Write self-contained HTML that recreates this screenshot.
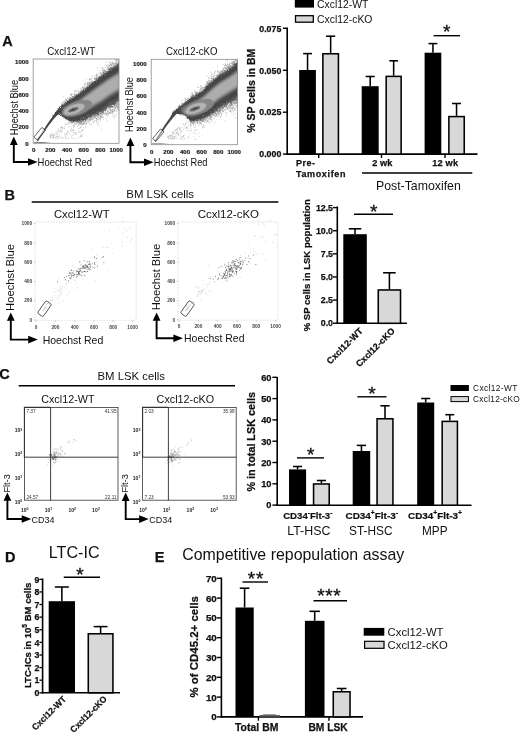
<!DOCTYPE html>
<html><head><meta charset="utf-8"><title>Figure</title>
<style>html,body{margin:0;padding:0;background:#fff}svg{display:block}text{font-family:'Liberation Sans', Arial, sans-serif}</style>
</head><body>
<svg width="520" height="733" viewBox="0 0 520 733">
<defs><filter id="b1" x="-10%" y="-10%" width="120%" height="120%"><feGaussianBlur stdDeviation="0.6"/></filter><filter id="b2" x="-10%" y="-10%" width="120%" height="120%"><feGaussianBlur stdDeviation="1.1"/></filter><filter id="rough" x="-5%" y="-5%" width="110%" height="110%"><feTurbulence type="fractalNoise" baseFrequency="0.9" numOctaves="2" seed="3" result="n"/><feDisplacementMap in="SourceGraphic" in2="n" scale="4" xChannelSelector="R" yChannelSelector="G"/><feGaussianBlur stdDeviation="0.35"/></filter></defs>
<rect width="520" height="733" fill="#fff"/>
<text x="2.2" y="46.2" font-size="14.5" font-weight="bold" stroke="#111" stroke-width="0.25" text-anchor="start" fill="#111">A</text>
<clipPath id="cp11"><rect x="33.2" y="59" width="85.8" height="84.3"/></clipPath>
<g clip-path="url(#cp11)">
<path d="M102.4 75.3h0.7M87.6 82.7h0.7M77.9 94.5h0.7M119.3 62.6h0.7M113.9 63.5h0.7M103.9 73.5h0.7M91.3 81.3h0.7M94.6 78.5h0.7M73.4 96.5h0.7M108.6 65.6h0.7M80.1 91.6h0.7M87.7 82.6h0.7M90.5 83.0h0.7M111.6 67.3h0.7M84.0 88.5h0.7M120.3 58.7h0.7M108.0 71.0h0.7M113.5 66.4h0.7M112.8 63.7h0.7M89.2 85.2h0.7M103.6 72.0h0.7M113.0 66.5h0.7M118.1 60.1h0.7M93.3 81.5h0.7M109.8 67.1h0.7M78.9 93.5h0.7M92.9 82.6h0.7M106.2 65.6h0.7M103.2 72.3h0.7M89.7 85.6h0.7M89.1 83.6h0.7M78.3 94.5h0.7M69.1 99.3h0.7M105.4 71.2h0.7M74.2 95.7h0.7M102.3 70.1h0.7M115.5 64.0h0.7M117.3 63.4h0.7M96.3 79.4h0.7M65.6 99.5h0.7M85.2 83.0h0.7M115.2 59.1h0.7M116.3 66.5h0.7M109.4 68.2h0.7M95.4 78.6h0.7M119.3 63.1h0.7M69.0 97.4h0.7M112.1 64.4h0.7M92.0 80.5h0.7M111.3 69.4h0.7M108.7 70.0h0.7M109.1 62.2h0.7M89.0 83.1h0.7M114.3 65.7h0.7M107.8 71.6h0.7M114.7 66.9h0.7M94.5 81.5h0.7M77.7 89.2h0.7M102.9 73.7h0.7M81.9 90.2h0.7M106.1 71.6h0.7M107.9 69.3h0.7M86.8 84.5h0.7M87.1 85.5h0.7M82.2 87.4h0.7M74.2 91.0h0.7M91.8 76.3h0.7M117.9 65.7h0.7M120.4 55.7h0.7M110.6 67.2h0.7M91.5 82.4h0.7M113.4 63.9h0.7M89.8 85.9h0.7M106.3 72.3h0.7M101.9 72.6h0.7M66.5 100.1h0.7M108.9 65.4h0.7M114.0 65.6h0.7M75.2 96.1h0.7M116.2 59.6h0.7M85.8 79.1h0.7M90.7 81.7h0.7M65.6 99.8h0.7M74.4 94.2h0.7M61.4 104.8h0.7M104.0 70.8h0.7M100.6 76.9h0.7M63.0 103.3h0.7M104.7 73.0h0.7M83.2 90.1h0.7M87.7 86.5h0.7M110.8 65.3h0.7M111.1 69.1h0.7M90.5 83.4h0.7M89.5 83.4h0.7M112.5 62.7h0.7M78.8 94.2h0.7M120.2 55.9h0.7M87.6 84.6h0.7M96.1 79.2h0.7M108.5 66.1h0.7M118.3 64.7h0.7M105.2 71.7h0.7M99.7 72.7h0.7M84.8 85.8h0.7M69.7 98.9h0.7M87.6 87.1h0.7M119.2 59.1h0.7M121.9 58.2h0.7M103.9 70.2h0.7M97.6 75.8h0.7M115.4 61.6h0.7M106.9 71.0h0.7M99.7 77.3h0.7M80.7 89.1h0.7M91.6 83.4h0.7M70.7 94.7h0.7M106.4 71.8h0.7M108.2 67.7h0.7M71.4 95.1h0.7M87.9 82.4h0.7M104.7 72.6h0.7M89.4 79.4h0.7M98.6 77.7h0.7M87.0 83.1h0.7M110.5 64.9h0.7M108.4 69.7h0.7M102.2 68.4h0.7M103.4 68.0h0.7M111.8 68.4h0.7M102.0 70.2h0.7M96.1 75.7h0.7M72.3 96.5h0.7M70.6 98.0h0.7M116.7 64.0h0.7M89.3 82.4h0.7M88.9 80.5h0.7M71.0 94.3h0.7M61.8 104.5h0.7M74.5 94.9h0.7M94.8 81.2h0.7M104.7 73.2h0.7M95.5 80.0h0.7M80.0 93.4h0.7M95.6 78.2h0.7M101.6 72.1h0.7M94.2 79.3h0.7M114.4 67.4h0.7M102.4 75.1h0.7M100.9 67.4h0.7M113.5 65.4h0.7M106.3 71.7h0.7M111.4 69.7h0.7M119.2 62.9h0.7M95.9 77.1h0.7M113.4 68.4h0.7M76.5 93.9h0.7M114.8 67.4h0.7M75.5 96.0h0.7M112.6 65.9h0.7M80.4 91.2h0.7M82.6 87.5h0.7M85.9 87.0h0.7M106.3 69.5h0.7M112.9 67.6h0.7M101.1 73.7h0.7M92.8 78.6h0.7M95.5 75.3h0.7M83.2 89.5h0.7M110.6 67.4h0.7M111.6 67.6h0.7M81.8 88.3h0.7M118.8 61.9h0.7M115.0 67.0h0.7M73.8 94.2h0.7M108.1 68.8h0.7M84.3 84.9h0.7M70.7 98.9h0.7M86.6 86.5h0.7M65.7 100.4h0.7M114.4 59.4h0.7M64.5 102.2h0.7M83.5 86.7h0.7M96.0 76.3h0.7M96.3 74.5h0.7M66.2 99.8h0.7M112.8 66.5h0.7M113.2 67.2h0.7M98.7 78.3h0.7M109.8 62.4h0.7M63.8 104.0h0.7M115.8 67.1h0.7M104.9 71.7h0.7M116.3 66.4h0.7M105.3 67.6h0.7M77.5 94.1h0.7M117.5 59.6h0.7M109.1 70.6h0.7M118.0 62.9h0.7M119.1 55.1h0.7M105.8 73.2h0.7M119.3 62.3h0.7M83.5 90.4h0.7M70.1 95.7h0.7M91.8 82.7h0.7M75.1 90.8h0.7M118.3 65.5h0.7M76.4 91.3h0.7M116.9 64.9h0.7M108.5 68.5h0.7M107.0 67.8h0.7M116.4 60.0h0.7M110.3 63.1h0.7M103.8 71.5h0.7M70.6 99.0h0.7M107.8 69.4h0.7M100.0 73.0h0.7M81.4 90.5h0.7M87.4 83.7h0.7M116.2 65.2h0.7M92.6 82.7h0.7M109.3 69.6h0.7M97.0 74.8h0.7M63.7 101.1h0.7M74.6 93.8h0.7M121.3 60.4h0.7M106.9 67.2h0.7M87.8 83.8h0.7M69.1 98.9h0.7M81.0 90.1h0.7M83.9 83.8h0.7M91.0 84.8h0.7M117.9 61.4h0.7M74.7 91.8h0.7M103.0 73.0h0.7M90.7 81.9h0.7M90.7 81.9h0.7M108.2 69.2h0.7M63.8 100.9h0.7M90.6 79.2h0.7M94.1 81.7h0.7M84.6 90.2h0.7M65.9 101.0h0.7M97.9 78.3h0.7M78.4 94.2h0.7M120.6 57.7h0.7M80.3 89.2h0.7M106.0 72.2h0.7M100.7 74.8h0.7M108.0 68.3h0.7M91.0 83.6h0.7M115.8 63.1h0.7M107.6 64.4h0.7M104.6 73.0h0.7M102.4 71.2h0.7M70.6 94.7h0.7M105.8 65.3h0.7M115.1 58.6h0.7M110.7 63.2h0.7M63.4 96.2h0.7M88.7 86.2h0.7M78.4 93.1h0.7M109.5 67.8h0.7M116.7 62.3h0.7M108.8 70.8h0.7M74.5 95.2h0.7M98.8 73.0h0.7M91.2 78.6h0.7M108.6 70.2h0.7M110.1 69.1h0.7M110.4 64.7h0.7M71.8 94.6h0.7M111.8 63.6h0.7M64.7 102.6h0.7M84.8 88.2h0.7M119.2 64.6h0.7M88.0 87.4h0.7M91.9 82.4h0.7M114.1 64.0h0.7M67.1 98.4h0.7M84.4 87.9h0.7M92.2 83.2h0.7M101.1 74.5h0.7M94.2 77.6h0.7M93.7 76.0h0.7M89.1 78.9h0.7M118.8 64.5h0.7M117.9 62.5h0.7M90.7 83.9h0.7M96.1 77.7h0.7M88.6 86.2h0.7M99.5 70.3h0.7M93.6 81.4h0.7M103.2 70.9h0.7M116.6 64.5h0.7M115.4 56.8h0.7M92.0 82.4h0.7M79.5 92.2h0.7M83.9 87.5h0.7M73.9 96.4h0.7M111.0 64.4h0.7M108.4 58.1h0.7M96.5 79.9h0.7M104.2 74.1h0.7M68.7 99.6h0.7M67.9 100.0h0.7M83.1 89.3h0.7M71.3 94.1h0.7M107.2 66.3h0.7M112.0 68.9h0.7M80.3 93.2h0.7M96.1 73.9h0.7M114.1 66.4h0.7M121.1 59.9h0.7M101.8 73.5h0.7M103.1 72.6h0.7M104.3 74.7h0.7M94.5 81.3h0.7M110.4 65.1h0.7M116.8 65.6h0.7M88.3 84.6h0.7M113.8 64.4h0.7M116.5 60.7h0.7M98.8 77.8h0.7M117.8 64.7h0.7M113.4 63.4h0.7M89.5 79.5h0.7M90.5 79.4h0.7M104.4 70.7h0.7M88.3 85.6h0.7M94.4 82.4h0.7M76.5 91.3h0.7M115.7 63.5h0.7M84.4 88.1h0.7M62.1 102.4h0.7M107.6 71.5h0.7M81.9 91.4h0.7M120.8 57.4h0.7M69.2 100.0h0.7M116.2 64.0h0.7M76.3 94.9h0.7M107.5 71.5h0.7M116.9 60.8h0.7M115.4 66.9h0.7M103.3 72.5h0.7M112.2 62.0h0.7M78.8 91.9h0.7M113.7 57.5h0.7M82.0 87.3h0.7M73.0 96.5h0.7M61.2 103.7h0.7M111.2 65.2h0.7M120.4 62.0h0.7M102.2 75.5h0.7M88.6 86.6h0.7M117.2 65.8h0.7M118.9 60.3h0.7M97.3 68.0h0.7M73.8 94.1h0.7M75.7 94.9h0.7M107.1 69.7h0.7M106.6 72.2h0.7M77.8 91.0h0.7M99.7 78.1h0.7M115.8 62.5h0.7M115.2 62.6h0.7M119.6 54.8h0.7M104.2 70.9h0.7M105.7 62.3h0.7M66.9 98.4h0.7M119.4 60.7h0.7M117.1 66.1h0.7M102.6 75.9h0.7M96.9 75.9h0.7M116.7 66.5h0.7M118.9 64.2h0.7M62.2 103.0h0.7M103.0 70.4h0.7M116.2 63.8h0.7M118.7 59.7h0.7M89.5 84.2h0.7M117.9 62.8h0.7M112.5 64.1h0.7M86.5 85.9h0.7M69.0 98.0h0.7M101.9 76.2h0.7M110.2 67.5h0.7M115.5 66.9h0.7M83.3 89.6h0.7M116.6 64.2h0.7M88.6 85.7h0.7M109.7 65.4h0.7M109.0 65.6h0.7M104.9 70.6h0.7M86.3 87.3h0.7M119.5 64.1h0.7M103.8 69.3h0.7M75.0 95.6h0.7M99.3 76.8h0.7M86.8 83.9h0.7M94.2 79.4h0.7M92.4 81.8h0.7M72.9 97.7h0.7M59.2 106.5h0.7M115.7 60.7h0.7M102.5 72.2h0.7M89.1 85.6h0.7M117.7 63.4h0.7M111.7 66.8h0.7M120.4 62.6h0.7M100.1 74.1h0.7M70.2 97.7h0.7M100.5 74.8h0.7M103.4 72.7h0.7M91.3 82.6h0.7M84.7 84.6h0.7M81.7 90.8h0.7M120.6 61.3h0.7M103.6 73.5h0.7M84.9 88.1h0.7M111.4 106.4h0.7M97.6 114.1h0.7M115.4 103.5h0.7M111.5 103.9h0.7M89.7 116.9h0.7M112.4 102.5h0.7M111.8 103.8h0.7M98.6 111.4h0.7M113.0 107.2h0.7M88.7 116.2h0.7M101.8 114.8h0.7M117.5 101.8h0.7M111.4 105.9h0.7M112.3 112.5h0.7M105.3 112.4h0.7M110.5 105.0h0.7M120.9 98.2h0.7M110.6 105.6h0.7M109.7 112.7h0.7M88.0 120.2h0.7M78.7 121.4h0.7M115.2 105.2h0.7M105.7 113.4h0.7M78.9 122.1h0.7M109.6 106.6h0.7M118.7 103.2h0.7M79.4 123.9h0.7M119.9 98.3h0.7M110.8 104.3h0.7M96.0 122.4h0.7M83.4 121.6h0.7M110.7 103.4h0.7M113.3 111.6h0.7M104.8 109.6h0.7M87.8 117.7h0.7M83.6 124.3h0.7M114.4 102.3h0.7M112.3 102.5h0.7M87.2 118.8h0.7M103.5 109.8h0.7M86.3 118.1h0.7M98.9 113.2h0.7M92.8 116.9h0.7M72.1 122.6h0.7M120.2 97.9h0.7M94.5 113.8h0.7M107.1 114.1h0.7M111.7 112.2h0.7M97.2 119.2h0.7M103.3 111.8h0.7M72.4 122.4h0.7M90.9 119.5h0.7M114.6 107.4h0.7M98.4 124.1h0.7M94.3 114.7h0.7M118.2 106.4h0.7M111.8 113.7h0.7M120.1 100.0h0.7M88.9 116.5h0.7M83.7 123.8h0.7M103.5 109.3h0.7M102.8 112.1h0.7M115.1 108.1h0.7M97.2 114.8h0.7M118.5 101.4h0.7M95.1 113.2h0.7M97.5 113.9h0.7M114.5 105.2h0.7M97.0 117.0h0.7M93.9 116.1h0.7M109.8 105.0h0.7M105.0 107.5h0.7M85.0 121.4h0.7M118.9 98.4h0.7M93.5 115.3h0.7M115.1 107.4h0.7M102.4 111.9h0.7M108.9 108.8h0.7M97.9 112.6h0.7M120.0 98.4h0.7M96.3 121.0h0.7M114.1 110.2h0.7M83.0 120.5h0.7M116.6 101.4h0.7M116.5 110.0h0.7M105.9 115.1h0.7M120.4 101.3h0.7M97.5 113.6h0.7M91.5 115.4h0.7M106.8 121.0h0.7M85.0 121.7h0.7M108.2 106.0h0.7M87.0 119.4h0.7M89.9 117.2h0.7M117.7 99.0h0.7M96.5 115.6h0.7M115.4 107.9h0.7M92.5 118.3h0.7M75.1 121.2h0.7M101.3 117.4h0.7M107.2 110.2h0.7M77.0 122.6h0.7M84.3 118.9h0.7M76.3 121.7h0.7M82.4 122.1h0.7M108.6 105.9h0.7M83.1 127.7h0.7M114.1 110.1h0.7M70.7 122.7h0.7M101.9 114.1h0.7M83.8 122.0h0.7M100.9 112.0h0.7M81.4 120.0h0.7M114.9 103.4h0.7M106.7 106.9h0.7M110.0 106.7h0.7M89.9 118.1h0.7M87.7 117.4h0.7M116.2 105.9h0.7M76.3 123.1h0.7M114.1 104.0h0.7M99.7 119.0h0.7M118.1 103.6h0.7M78.9 121.0h0.7M111.3 107.1h0.7M94.8 115.9h0.7M89.5 124.8h0.7M87.7 121.8h0.7M109.4 106.3h0.7M91.5 114.7h0.7M108.5 106.7h0.7M113.2 104.2h0.7M96.6 118.4h0.7M101.7 117.1h0.7M77.2 122.0h0.7M119.7 108.1h0.7M117.1 99.0h0.7M91.6 124.7h0.7M118.2 109.6h0.7M113.9 111.4h0.7M106.5 115.0h0.7M89.3 123.3h0.7M93.5 114.9h0.7M97.5 124.9h0.7M109.7 110.5h0.7M97.9 114.1h0.7M91.3 116.7h0.7M102.2 111.8h0.7M119.6 98.1h0.7M86.1 118.8h0.7M98.0 111.5h0.7M102.6 110.5h0.7M100.6 113.5h0.7M101.3 129.3h0.7M116.7 104.7h0.7M108.4 107.0h0.7M114.0 105.2h0.7M74.4 123.2h0.7M113.4 105.4h0.7M119.7 99.2h0.7M113.0 105.3h0.7M98.2 111.7h0.7M111.8 110.7h0.7M97.9 113.9h0.7M111.5 103.3h0.7M116.0 100.8h0.7M101.7 110.2h0.7M103.8 113.3h0.7M78.0 122.0h0.7M103.2 108.6h0.7M119.5 107.1h0.7M106.7 107.2h0.7M84.2 123.6h0.7M114.8 104.5h0.7M83.3 121.1h0.7M118.8 104.6h0.7M100.7 113.7h0.7M119.8 97.7h0.7M112.4 103.6h0.7M89.4 119.2h0.7M88.3 117.3h0.7M94.7 116.6h0.7M98.5 119.0h0.7M116.6 100.4h0.7M89.8 119.2h0.7M104.8 108.5h0.7M110.1 110.8h0.7M104.4 113.9h0.7M116.6 104.5h0.7M116.0 103.3h0.7M111.3 110.1h0.7M90.1 117.4h0.7M100.0 113.1h0.7M99.0 115.8h0.7M77.5 121.7h0.7M117.0 106.9h0.7M110.9 113.0h0.7M103.2 110.6h0.7M90.3 114.9h0.7M114.4 101.0h0.7M105.9 107.9h0.7M95.0 114.2h0.7M102.6 110.5h0.7M102.1 111.6h0.7M86.7 120.4h0.7M87.6 118.8h0.7M100.2 117.0h0.7M98.3 112.9h0.7M77.5 121.9h0.7M103.5 107.9h0.7M119.5 99.7h0.7M106.2 113.8h0.7M108.3 114.1h0.7M107.6 113.8h0.7M101.4 113.4h0.7M119.7 104.7h0.7M108.5 113.1h0.7M104.7 108.7h0.7M119.8 101.4h0.7M118.6 100.3h0.7M80.9 123.0h0.7M93.6 114.3h0.7M88.8 117.2h0.7M119.0 99.5h0.7M119.4 101.7h0.7M88.6 117.2h0.7M89.1 119.6h0.7M82.3 121.3h0.7M110.7 104.6h0.7M99.9 111.2h0.7M86.1 122.6h0.7M110.0 105.6h0.7M102.4 115.1h0.7M99.1 111.7h0.7M97.6 120.2h0.7M78.0 122.6h0.7M117.1 102.7h0.7M121.4 111.5h0.7M98.8 115.2h0.7M91.9 117.2h0.7M114.8 105.0h0.7M107.0 112.3h0.7M111.0 107.1h0.7M76.4 122.0h0.7M111.7 103.3h0.7M117.4 103.9h0.7M103.7 110.7h0.7M110.0 109.2h0.7M93.8 116.1h0.7M108.5 106.7h0.7M98.9 118.3h0.7M90.1 120.6h0.7M96.0 119.9h0.7M100.6 113.6h0.7M98.0 115.8h0.7M83.5 119.1h0.7M108.5 111.8h0.7M93.7 116.7h0.7M117.7 109.7h0.7M96.6 116.1h0.7M85.6 124.3h0.7M77.9 121.2h0.7M81.3 121.6h0.7M95.9 118.8h0.7M94.1 118.2h0.7M79.7 122.0h0.7M111.9 106.7h0.7M83.8 122.9h0.7M111.4 104.7h0.7M102.6 111.2h0.7M99.6 116.5h0.7M112.6 107.1h0.7M106.2 108.5h0.7M116.9 105.7h0.7M115.1 100.8h0.7M103.6 113.7h0.7M102.0 109.2h0.7M89.5 119.1h0.7M118.9 111.5h0.7M105.4 109.4h0.7M103.1 111.7h0.7M80.7 127.7h0.7M80.2 122.2h0.7M108.7 106.1h0.7M113.8 106.8h0.7M111.8 104.6h0.7M114.0 103.3h0.7M97.7 113.1h0.7M110.1 113.2h0.7M79.3 123.3h0.7M103.3 112.9h0.7M120.5 99.8h0.7M95.4 115.7h0.7M111.6 104.2h0.7M79.5 123.1h0.7M102.9 119.6h0.7M106.1 109.2h0.7M107.6 110.2h0.7M118.1 100.6h0.7M93.8 116.9h0.7M98.2 117.4h0.7M117.3 108.0h0.7M69.7 121.2h0.7M113.2 104.3h0.7M102.0 112.0h0.7M99.3 111.1h0.7M85.1 120.2h0.7M98.8 111.5h0.7M95.8 114.4h0.7M81.1 121.5h0.7M115.8 114.9h0.7M91.6 115.2h0.7M92.5 117.9h0.7M109.8 109.6h0.7M109.5 106.3h0.7M92.6 115.4h0.7M117.6 107.6h0.7M85.4 126.6h0.7M73.4 121.5h0.7M89.0 120.9h0.7M69.7 121.8h0.7M92.0 118.6h0.7M115.2 101.3h0.7M109.5 104.5h0.7M114.5 105.8h0.7M92.0 116.6h0.7M105.8 110.4h0.7M118.8 100.9h0.7M119.3 100.3h0.7M105.0 114.6h0.7M104.7 107.5h0.7M97.9 114.8h0.7M118.0 106.4h0.7M109.5 107.5h0.7M102.9 113.4h0.7M117.3 108.3h0.7M86.5 123.5h0.7M120.9 100.1h0.7M77.5 122.6h0.7M79.6 123.3h0.7M89.8 118.0h0.7M94.2 116.1h0.7M95.0 115.2h0.7M109.2 112.7h0.7M93.9 117.5h0.7M88.1 119.1h0.7M117.8 106.7h0.7M79.8 121.8h0.7M89.8 116.3h0.7M110.5 104.3h0.7M117.3 100.7h0.7M80.5 124.8h0.7M99.4 114.8h0.7M78.6 120.8h0.7M95.3 113.9h0.7M119.0 100.1h0.7M100.0 115.7h0.7M116.1 105.6h0.7M118.3 110.4h0.7M109.9 105.5h0.7M109.2 104.9h0.7M82.7 121.9h0.7M81.5 124.4h0.7M93.7 115.4h0.7M117.3 107.9h0.7M99.3 111.9h0.7M103.2 109.2h0.7M89.0 117.4h0.7M102.7 110.0h0.7M106.2 105.6h0.7M110.5 110.8h0.7M105.3 111.3h0.7M81.3 121.5h0.7M76.3 124.1h0.7M80.7 124.5h0.7M85.4 122.2h0.7M107.1 111.3h0.7M103.3 108.2h0.7M119.2 104.3h0.7M100.1 120.7h0.7M82.2 124.4h0.7M116.3 106.8h0.7M107.7 107.8h0.7M121.1 104.5h0.7M80.2 122.9h0.7M100.2 113.1h0.7M110.7 105.8h0.7M116.3 103.8h0.7M119.3 100.3h0.7M90.4 120.8h0.7M106.1 106.0h0.7M90.4 116.6h0.7M113.7 104.1h0.7M112.3 111.4h0.7M110.5 109.2h0.7M113.4 113.5h0.7M98.8 110.8h0.7M110.5 107.8h0.7M107.9 106.6h0.7M83.8 121.6h0.7M118.3 98.8h0.7M76.3 121.4h0.7M111.9 104.5h0.7M114.9 105.8h0.7M121.2 106.8h0.7M72.8 122.5h0.7M110.1 105.1h0.7M82.3 124.0h0.7M99.4 111.7h0.7M117.8 113.1h0.7M117.6 108.9h0.7M114.4 105.7h0.7M110.5 107.6h0.7M103.0 110.8h0.7M78.5 124.8h0.7M102.9 113.1h0.7M97.6 111.5h0.7M114.5 103.6h0.7M97.9 112.0h0.7M113.8 101.3h0.7M101.5 114.2h0.7M119.2 115.6h0.7M95.5 115.1h0.7M80.7 122.9h0.7M119.7 101.0h0.7M90.7 119.6h0.7M102.1 116.9h0.7M101.0 113.1h0.7M108.9 105.7h0.7M105.8 109.2h0.7M97.3 112.2h0.7M92.6 122.3h0.7M100.6 116.0h0.7M117.7 99.3h0.7M120.9 104.1h0.7M118.9 108.2h0.7M95.6 117.8h0.7M106.2 108.2h0.7M85.8 119.2h0.7M109.7 105.2h0.7M99.7 111.1h0.7M117.4 104.5h0.7M106.5 106.9h0.7M120.1 106.4h0.7M111.7 110.9h0.7M99.3 114.3h0.7M93.4 116.2h0.7M119.7 101.2h0.7M120.4 100.4h0.7M106.8 106.3h0.7M104.9 109.1h0.7M107.9 114.5h0.7M100.7 113.2h0.7M101.4 116.6h0.7M107.6 116.4h0.7M91.7 116.3h0.7M98.9 112.3h0.7M91.6 116.7h0.7M115.3 116.1h0.7M91.1 117.9h0.7M78.1 122.2h0.7M94.1 116.9h0.7M92.0 119.4h0.7M91.2 117.0h0.7M101.6 111.8h0.7M94.8 116.0h0.7M114.1 118.1h0.7M70.5 122.5h0.7M94.8 115.2h0.7M114.6 105.1h0.7M84.7 120.3h0.7M117.2 102.0h0.7M92.8 115.8h0.7M100.5 116.3h0.7M87.8 118.0h0.7M107.9 111.4h0.7M116.1 107.1h0.7M105.5 111.0h0.7M111.8 110.8h0.7M97.6 116.1h0.7M86.2 123.3h0.7M102.6 109.2h0.7M120.5 99.1h0.7M112.6 104.3h0.7M100.1 118.6h0.7M106.1 113.0h0.7M89.3 116.2h0.7M117.2 100.1h0.7M101.7 112.6h0.7M73.4 122.0h0.7M101.8 109.7h0.7M90.6 116.6h0.7M111.8 110.1h0.7M92.1 114.3h0.7M92.5 116.7h0.7M113.5 109.4h0.7M97.3 112.5h0.7M120.9 118.6h0.7M89.4 116.5h0.7M109.7 113.2h0.7M108.5 106.8h0.7M80.6 121.9h0.7M96.6 118.9h0.7M115.7 102.7h0.7M96.1 112.6h0.7M102.2 113.2h0.7M111.9 116.6h0.7M74.2 123.8h0.7M97.9 122.2h0.7M120.1 108.0h0.7M115.3 108.8h0.7M79.1 121.8h0.7M86.6 120.8h0.7M94.8 120.9h0.7M116.5 111.4h0.7M90.3 119.5h0.7M83.8 122.9h0.7M113.4 103.5h0.7M119.3 104.2h0.7M115.9 102.5h0.7M109.4 108.2h0.7M79.4 123.3h0.7M93.1 118.7h0.7M97.7 112.2h0.7M98.0 113.4h0.7M93.0 114.9h0.7M117.9 99.0h0.7M87.8 122.4h0.7M107.7 105.5h0.7M113.5 115.8h0.7M112.0 107.2h0.7M89.6 117.2h0.7M110.8 104.3h0.7M111.2 103.4h0.7M112.1 109.2h0.7M85.2 119.2h0.7M103.6 110.1h0.7M98.9 114.6h0.7M82.4 120.6h0.7M83.2 119.5h0.7M116.1 101.2h0.7M111.1 103.7h0.7M80.7 123.1h0.7M101.2 116.2h0.7M101.2 109.7h0.7M104.3 110.2h0.7M106.0 109.0h0.7M85.3 121.2h0.7M97.3 111.7h0.7M103.2 110.3h0.7M114.6 107.1h0.7M95.0 114.3h0.7M102.4 111.0h0.7M96.1 115.7h0.7M94.8 115.8h0.7M106.1 108.5h0.7M100.3 117.8h0.7M115.7 105.3h0.7M116.6 99.8h0.7M93.6 115.0h0.7M111.5 112.1h0.7M116.1 106.4h0.7M110.5 111.8h0.7M101.6 112.5h0.7M102.8 109.0h0.7M78.0 124.5h0.7M103.2 111.7h0.7M75.7 121.5h0.7M118.3 105.0h0.7M100.3 114.1h0.7M83.2 123.6h0.7M88.3 121.2h0.7M79.8 121.9h0.7M117.2 100.1h0.7M117.1 103.8h0.7M98.2 114.2h0.7M97.7 115.0h0.7M92.5 120.9h0.7M96.6 115.9h0.7M113.6 109.3h0.7M97.3 117.3h0.7M95.1 117.3h0.7M100.3 113.5h0.7M68.7 120.9h0.7M86.6 118.4h0.7M94.3 120.9h0.7M115.4 103.4h0.7M119.8 101.1h0.7M88.9 117.1h0.7M95.6 118.4h0.7M93.3 122.4h0.7M94.3 116.1h0.7M113.6 108.4h0.7M110.7 105.5h0.7M117.8 103.5h0.7M108.9 113.3h0.7M81.3 123.4h0.7M119.1 100.5h0.7M118.4 107.4h0.7M102.7 111.5h0.7M89.0 119.8h0.7M77.4 123.0h0.7M80.6 123.6h0.7M100.0 119.3h0.7M105.5 118.4h0.7M118.7 101.9h0.7M95.0 112.4h0.7M111.7 106.7h0.7M89.5 118.8h0.7M117.7 104.8h0.7M103.0 117.5h0.7M103.9 113.5h0.7M91.9 115.3h0.7M70.7 123.3h0.7M83.8 120.1h0.7M94.8 115.0h0.7M107.6 105.8h0.7M78.2 122.4h0.7M84.9 120.2h0.7M114.3 104.8h0.7M75.0 122.8h0.7M85.0 119.5h0.7M108.8 112.5h0.7M113.3 103.4h0.7M97.5 116.2h0.7M104.8 111.4h0.7M92.5 119.3h0.7M105.8 113.5h0.7M99.6 111.3h0.7M80.9 121.1h0.7M83.5 123.8h0.7M79.7 121.4h0.7M105.1 110.9h0.7M110.2 105.5h0.7M71.5 122.6h0.7M72.4 122.1h0.7M114.9 110.2h0.7M120.0 103.0h0.7M113.8 110.4h0.7M93.4 113.8h0.7M115.8 106.7h0.7M101.8 112.0h0.7M83.3 120.9h0.7M111.8 103.7h0.7M119.3 102.4h0.7M85.6 119.9h0.7M112.4 111.3h0.7M120.4 99.8h0.7M120.5 98.9h0.7M117.2 105.9h0.7" stroke="#8c8c8c" stroke-width="0.7" fill="none"/>
<path d="M71.7 97.0h0.7M57.0 110.5h0.7M91.8 84.3h0.7M106.8 72.7h0.7M88.9 86.0h0.7M93.1 83.3h0.7M55.7 112.0h0.7M93.8 83.1h0.7M117.0 65.3h0.7M113.7 68.3h0.7M107.3 73.0h0.7M67.8 102.6h0.7M115.0 65.1h0.7M113.5 69.4h0.7M72.6 99.3h0.7M101.4 76.9h0.7M58.2 109.0h0.7M68.1 101.7h0.7M83.8 92.1h0.7M72.7 100.1h0.7M109.2 71.7h0.7M110.9 67.6h0.7M85.6 89.4h0.7M83.1 90.3h0.7M67.4 102.3h0.7M64.9 103.6h0.7M105.5 71.4h0.7M100.2 78.2h0.7M61.7 105.9h0.7M93.8 83.6h0.7M88.7 87.3h0.7M111.6 69.7h0.7M105.8 73.3h0.7M99.7 78.1h0.7M97.1 80.5h0.7M117.5 65.1h0.7M119.7 65.2h0.7M84.5 91.0h0.7M77.3 94.7h0.7M110.5 71.0h0.7M63.4 105.8h0.7M86.3 89.0h0.7M64.2 104.7h0.7M83.5 89.7h0.7M63.4 104.9h0.7M81.2 91.3h0.7M110.0 70.6h0.7M116.0 68.2h0.7M110.2 71.5h0.7M98.4 80.0h0.7M101.5 78.1h0.7M85.5 88.8h0.7M71.9 98.8h0.7M90.6 85.9h0.7M107.3 73.0h0.7M63.3 106.1h0.7M58.0 110.8h0.7M109.3 71.5h0.7M81.6 92.3h0.7M105.6 75.0h0.7M106.9 73.7h0.7M117.2 67.0h0.7M88.9 87.2h0.7M85.5 90.1h0.7M110.7 69.1h0.7M110.0 72.4h0.7M102.5 75.8h0.7M110.8 70.7h0.7M101.8 76.1h0.7M117.5 65.6h0.7M84.8 90.6h0.7M107.0 72.6h0.7M117.5 64.6h0.7M83.9 91.1h0.7M99.3 77.4h0.7M86.7 89.6h0.7M91.9 83.7h0.7M64.1 103.8h0.7M58.1 110.6h0.7M108.4 71.7h0.7M91.7 84.5h0.7M101.4 77.0h0.7M108.1 71.9h0.7M88.9 84.3h0.7M86.2 88.2h0.7M71.4 98.0h0.7M110.2 67.8h0.7M112.5 68.5h0.7M107.0 72.6h0.7M115.2 68.4h0.7M103.1 75.2h0.7M106.2 75.1h0.7M74.5 97.8h0.7M109.8 71.7h0.7M84.0 91.1h0.7M91.0 84.2h0.7M83.4 91.4h0.7M98.1 78.5h0.7M104.1 76.6h0.7M99.4 79.2h0.7M82.9 90.4h0.7M76.6 95.2h0.7M112.8 68.6h0.7M82.3 91.6h0.7M91.1 85.8h0.7M65.5 103.4h0.7M82.2 92.0h0.7M65.4 103.9h0.7M84.7 89.2h0.7M105.7 73.0h0.7M119.4 64.9h0.7M101.5 76.7h0.7M81.2 93.7h0.7M104.2 75.7h0.7M101.2 75.6h0.7M112.0 70.1h0.7M95.4 79.3h0.7M115.7 67.3h0.7M89.0 86.8h0.7M80.7 92.3h0.7M94.5 82.0h0.7M116.7 67.2h0.7M106.7 73.5h0.7M93.7 83.1h0.7M94.3 82.7h0.7M103.2 76.7h0.7M92.2 84.3h0.7M96.7 80.6h0.7M119.6 64.9h0.7M116.1 67.7h0.7M112.1 69.2h0.7M68.8 101.6h0.7M98.4 79.9h0.7M86.7 89.5h0.7M116.3 68.1h0.7M83.7 92.0h0.7M117.0 67.3h0.7M77.5 95.6h0.7M90.5 84.1h0.7M118.2 64.9h0.7M99.2 75.8h0.7M116.1 67.4h0.7M96.7 81.1h0.7M77.9 95.8h0.7M106.4 74.2h0.7M95.7 82.3h0.7M95.4 82.9h0.7M69.1 100.3h0.7M70.7 98.4h0.7M116.6 67.2h0.7M118.8 63.7h0.7M118.2 66.0h0.7M86.2 89.7h0.7M61.0 104.8h0.7M97.5 79.8h0.7M107.6 73.2h0.7M102.6 76.2h0.7M62.5 106.9h0.7M77.3 94.9h0.7M104.6 73.5h0.7M62.7 105.7h0.7M113.5 69.8h0.7M119.9 63.8h0.7M79.1 94.1h0.7M62.2 106.7h0.7M118.8 63.5h0.7M107.8 72.2h0.7M91.2 84.0h0.7M93.0 83.5h0.7M116.4 66.8h0.7M85.0 88.4h0.7M61.3 106.5h0.7M101.6 76.2h0.7M82.5 91.2h0.7M104.1 73.9h0.7M117.3 67.1h0.7M86.8 89.5h0.7M78.8 95.2h0.7M62.2 106.5h0.7M112.9 68.8h0.7M65.0 103.6h0.7M118.6 65.7h0.7M105.9 73.6h0.7M116.4 67.2h0.7M111.5 68.9h0.7M74.6 98.1h0.7M72.5 98.8h0.7M118.3 64.9h0.7M81.3 93.4h0.7M109.7 69.0h0.7M72.6 98.3h0.7M82.9 93.0h0.7M104.5 74.1h0.7M78.5 94.7h0.7M108.2 71.9h0.7M115.1 66.7h0.7M82.8 91.7h0.7M82.1 92.5h0.7M59.5 109.6h0.7M90.8 86.9h0.7M63.6 104.3h0.7M98.9 78.1h0.7M103.8 74.5h0.7M97.9 78.7h0.7M100.2 77.1h0.7M100.2 78.4h0.7M115.8 67.9h0.7M95.1 78.3h0.7M113.3 68.4h0.7M85.6 90.0h0.7M69.8 100.4h0.7M76.4 95.0h0.7M110.4 71.5h0.7M77.3 95.4h0.7M109.2 71.5h0.7M115.9 66.3h0.7M97.5 78.2h0.7M70.2 98.0h0.7M100.8 76.9h0.7M86.8 87.7h0.7M115.6 68.1h0.7M76.6 95.9h0.7M76.7 96.1h0.7M93.0 81.7h0.7M93.9 82.0h0.7M74.6 97.4h0.7M87.1 88.1h0.7M103.6 72.8h0.7M93.2 83.5h0.7M62.6 104.9h0.7M89.5 86.9h0.7M90.0 86.7h0.7M91.5 84.8h0.7M58.2 109.5h0.7M80.6 94.1h0.7M117.6 66.7h0.7M114.6 66.6h0.7M116.3 64.9h0.7M108.2 72.2h0.7M91.3 85.7h0.7M117.1 66.2h0.7M82.1 91.2h0.7M99.5 77.9h0.7M98.9 78.8h0.7M91.2 85.3h0.7M78.6 95.1h0.7M84.6 90.7h0.7M101.9 75.9h0.7M81.0 93.8h0.7M84.9 88.2h0.7M85.3 90.2h0.7M84.2 90.9h0.7M111.6 68.8h0.7M96.7 80.4h0.7M58.5 109.6h0.7M107.5 72.3h0.7M94.5 82.3h0.7M109.7 70.3h0.7M93.6 82.4h0.7M82.9 89.8h0.7M111.9 68.1h0.7M72.6 99.1h0.7M80.3 92.9h0.7M94.2 81.6h0.7M113.8 68.4h0.7M68.9 102.1h0.7M85.4 90.1h0.7M95.9 81.3h0.7M104.5 75.3h0.7M66.8 101.2h0.7M107.9 72.3h0.7M98.3 79.7h0.7M96.1 79.3h0.7M87.4 88.4h0.7M83.2 89.2h0.7M115.1 68.4h0.7M120.1 65.5h0.7M73.2 99.2h0.7M75.3 96.5h0.7M104.0 75.3h0.7M108.4 72.2h0.7M111.1 68.5h0.7M82.1 91.7h0.7M75.7 97.3h0.7M64.3 104.6h0.7M87.2 87.4h0.7M98.1 77.1h0.7M113.8 69.2h0.7M59.6 108.9h0.7M65.7 103.7h0.7M103.1 76.5h0.7M103.5 74.8h0.7M69.6 100.5h0.7M66.6 102.4h0.7M59.0 109.3h0.7M102.7 76.3h0.7M80.5 93.9h0.7M78.4 95.2h0.7M102.9 74.3h0.7M68.2 101.4h0.7M96.4 80.7h0.7M66.0 102.6h0.7M63.0 105.3h0.7M104.5 73.8h0.7M109.2 71.1h0.7M93.0 84.7h0.7M88.8 87.9h0.7M105.9 73.7h0.7M64.0 104.2h0.7M81.1 92.6h0.7M115.5 68.1h0.7M117.9 66.1h0.7M59.3 108.5h0.7M54.6 115.0h0.7M108.9 69.5h0.7M90.7 84.0h0.7M108.6 72.4h0.7M102.2 74.6h0.7M91.8 84.2h0.7M105.6 74.6h0.7M100.4 78.1h0.7M57.5 111.6h0.7M92.0 84.7h0.7M115.5 68.3h0.7M109.6 69.5h0.7M102.9 75.8h0.7M100.5 77.8h0.7M110.4 71.1h0.7M81.9 92.8h0.7M87.9 88.2h0.7M101.4 74.3h0.7M112.1 69.9h0.7M83.8 91.0h0.7M72.5 98.1h0.7M79.4 94.0h0.7M89.9 84.3h0.7M66.9 103.0h0.7M101.6 76.3h0.7M115.1 65.7h0.7M85.8 90.6h0.7M117.9 66.0h0.7M89.9 86.1h0.7M97.6 78.6h0.7M119.4 64.8h0.7M105.6 73.4h0.7M94.3 82.5h0.7M108.8 69.6h0.7M92.3 84.5h0.7M106.9 72.4h0.7M77.4 96.4h0.7M64.3 104.7h0.7M100.4 78.4h0.7M95.8 81.0h0.7M92.9 84.4h0.7M68.3 101.3h0.7M116.8 67.4h0.7M67.8 101.2h0.7M118.7 63.6h0.7M82.9 89.5h0.7M80.7 93.5h0.7M116.8 64.8h0.7M117.9 66.7h0.7M105.8 74.1h0.7M117.2 66.9h0.7M73.1 97.2h0.7M113.3 67.1h0.7M100.8 77.3h0.7M82.5 93.1h0.7M100.2 78.1h0.7M67.1 102.4h0.7M110.2 71.2h0.7M102.8 76.0h0.7M66.4 100.8h0.7M76.5 96.0h0.7M81.4 93.1h0.7M93.1 83.5h0.7M78.3 95.5h0.7M81.6 91.4h0.7M97.2 79.0h0.7M70.1 99.8h0.7M108.3 72.5h0.7M91.9 84.7h0.7M87.7 87.1h0.7M99.3 78.7h0.7M72.4 99.7h0.7M113.7 68.3h0.7M67.2 101.1h0.7M97.4 78.2h0.7M118.6 65.7h0.7M70.6 100.4h0.7M105.2 74.9h0.7M119.7 63.9h0.7M119.3 64.3h0.7M85.4 90.3h0.7M101.3 77.3h0.7M117.3 67.4h0.7M100.5 76.5h0.7M113.9 69.2h0.7M106.0 74.1h0.7M59.5 108.7h0.7M84.9 90.4h0.7M115.2 67.6h0.7M92.2 82.6h0.7M90.7 85.5h0.7M82.7 92.8h0.7M71.7 99.4h0.7M102.8 76.0h0.7M89.0 87.3h0.7M114.6 68.8h0.7M60.6 106.5h0.7M114.1 68.4h0.7M65.6 103.2h0.7M110.9 69.7h0.7M92.0 84.6h0.7M107.6 72.0h0.7M92.1 85.0h0.7M72.5 99.2h0.7M117.4 66.4h0.7M103.2 76.9h0.7M76.1 97.3h0.7M100.2 77.1h0.7M75.2 95.5h0.7M88.8 87.9h0.7M99.3 78.9h0.7M101.0 77.9h0.7M66.7 102.7h0.7M74.4 96.3h0.7M91.8 84.0h0.7M95.6 81.9h0.7M113.5 68.3h0.7M98.9 79.2h0.7M110.9 68.8h0.7M87.1 88.8h0.7M74.3 98.3h0.7M80.3 92.0h0.7M58.7 110.0h0.7M85.9 89.6h0.7M102.1 76.8h0.7M112.6 69.7h0.7M77.5 95.4h0.7M106.1 74.0h0.7M107.2 73.0h0.7M105.6 74.3h0.7M117.6 64.4h0.7M99.6 77.4h0.7M91.4 83.9h0.7M95.8 80.7h0.7M55.0 114.3h0.7M55.1 113.2h0.7M93.5 82.4h0.7M87.7 88.3h0.7M70.3 100.0h0.7M85.8 89.1h0.7M103.2 76.5h0.7M95.9 80.5h0.7M88.2 87.0h0.7M109.7 69.3h0.7M61.5 106.3h0.7M115.2 65.5h0.7M104.9 73.8h0.7M89.8 84.6h0.7M105.1 75.0h0.7M117.6 67.2h0.7M103.2 76.2h0.7M103.4 73.5h0.7M103.8 74.7h0.7M116.0 66.6h0.7M114.2 68.1h0.7M81.2 92.8h0.7M57.7 108.6h0.7M80.7 91.9h0.7M86.7 87.7h0.7M79.0 94.9h0.7M91.5 84.4h0.7M118.4 66.9h0.7M74.6 97.7h0.7M87.7 87.6h0.7M111.8 69.5h0.7M70.4 99.7h0.7M85.9 89.3h0.7M98.0 80.2h0.7M108.9 71.1h0.7M114.6 69.3h0.7M79.8 94.1h0.7M118.0 64.8h0.7M91.7 85.9h0.7M68.9 100.8h0.7M72.2 99.7h0.7M91.1 85.0h0.7M111.5 70.7h0.7M63.2 105.3h0.7M76.1 96.2h0.7M111.1 69.9h0.7M112.3 68.1h0.7M74.9 97.6h0.7M62.0 106.6h0.7M102.8 76.6h0.7M110.9 70.5h0.7M61.4 106.4h0.7M95.5 81.7h0.7M69.3 99.8h0.7M99.2 78.5h0.7M67.2 101.9h0.7M68.4 99.6h0.7M96.6 80.9h0.7M117.6 67.1h0.7M58.3 108.9h0.7M66.3 102.6h0.7M75.0 97.7h0.7M110.4 70.9h0.7M78.3 95.2h0.7M78.7 92.9h0.7M91.3 85.5h0.7M112.6 68.6h0.7M80.7 93.9h0.7M92.6 84.0h0.7M93.2 84.2h0.7M94.0 81.7h0.7M91.5 85.1h0.7M110.0 71.4h0.7M75.3 97.8h0.7M94.6 82.0h0.7M69.5 100.8h0.7M114.6 69.2h0.7M89.4 85.8h0.7M119.8 63.5h0.7M103.1 74.8h0.7M75.2 97.3h0.7M116.7 65.6h0.7M82.0 92.3h0.7M102.2 76.5h0.7M108.7 71.9h0.7M67.1 102.0h0.7M74.2 97.5h0.7M90.6 86.2h0.7M86.9 89.8h0.7M82.8 91.7h0.7M80.1 93.8h0.7M85.3 90.0h0.7M119.0 65.8h0.7M92.3 84.2h0.7M92.6 84.3h0.7M78.4 94.2h0.7M74.4 98.2h0.7M79.2 93.1h0.7M115.0 68.6h0.7M114.9 68.2h0.7M72.4 99.0h0.7M87.1 86.8h0.7M98.2 79.7h0.7M97.7 80.9h0.7M75.0 97.0h0.7M63.8 106.2h0.7M110.4 70.4h0.7M69.7 100.5h0.7M87.7 87.7h0.7M107.9 72.4h0.7M104.7 73.4h0.7M89.8 86.0h0.7M110.7 70.5h0.7M119.7 65.6h0.7M93.5 82.4h0.7M115.0 67.5h0.7M95.9 81.6h0.7M87.8 87.5h0.7M119.2 62.4h0.7M108.5 72.0h0.7M69.5 99.8h0.7M96.7 80.6h0.7M86.5 88.6h0.7M95.0 82.9h0.7M108.6 71.3h0.7M84.3 90.3h0.7M100.5 78.5h0.7M79.0 95.7h0.7M91.2 84.3h0.7M115.0 68.5h0.7M107.8 71.0h0.7M85.5 89.8h0.7M80.3 93.6h0.7M99.8 77.3h0.7M93.4 84.2h0.7M118.8 63.5h0.7M81.9 93.0h0.7M116.2 67.9h0.7M77.3 96.2h0.7M110.3 69.9h0.7M114.5 68.8h0.7M73.6 97.5h0.7M90.5 85.5h0.7M106.1 73.4h0.7M88.9 86.3h0.7M67.5 102.6h0.7M108.8 71.4h0.7M93.7 82.1h0.7M73.8 98.8h0.7M60.7 106.9h0.7M94.6 81.5h0.7M82.5 92.7h0.7M110.6 70.9h0.7M71.8 100.1h0.7M56.4 111.1h0.7M115.8 67.6h0.7M89.4 86.6h0.7M113.9 68.0h0.7M98.3 77.5h0.7M113.7 68.3h0.7M116.6 67.2h0.7M65.2 101.9h0.7M81.1 92.6h0.7M74.6 98.9h0.7M119.2 66.2h0.7M104.4 73.9h0.7M116.6 67.7h0.7M118.9 63.2h0.7M110.2 69.0h0.7M114.6 68.5h0.7M116.5 66.9h0.7M101.0 78.2h0.7M111.9 69.0h0.7M118.9 65.2h0.7M92.5 83.3h0.7M77.0 97.0h0.7M103.5 75.1h0.7M61.5 105.8h0.7M82.7 92.4h0.7M87.5 88.8h0.7M111.1 71.3h0.7M57.1 110.2h0.7M82.8 91.0h0.7M82.3 92.2h0.7M103.5 74.2h0.7M114.3 66.9h0.7M92.7 83.7h0.7M113.2 69.9h0.7M90.1 86.4h0.7M93.8 82.7h0.7M83.0 88.9h0.7M74.6 97.9h0.7M114.2 68.1h0.7M100.2 78.1h0.7M80.0 93.7h0.7M96.4 78.2h0.7M89.1 86.2h0.7M60.8 108.5h0.7M104.9 73.5h0.7M114.1 66.8h0.7M100.3 78.4h0.7M71.5 100.2h0.7M90.3 86.4h0.7M75.2 97.7h0.7M72.3 96.4h0.7M82.1 92.8h0.7M115.2 68.7h0.7M112.0 69.6h0.7M109.7 70.1h0.7M116.7 66.9h0.7M68.4 101.3h0.7M76.9 96.9h0.7M61.3 108.1h0.7M55.1 114.0h0.7M103.0 75.6h0.7M89.8 85.4h0.7M97.6 79.5h0.7M114.2 69.0h0.7M81.5 93.6h0.7M78.5 94.9h0.7M111.8 70.4h0.7M57.0 109.1h0.7M116.8 67.4h0.7M84.5 90.5h0.7M59.9 109.1h0.7M75.9 95.1h0.7M64.6 103.2h0.7M112.7 68.7h0.7M61.0 105.9h0.7M61.7 105.8h0.7M100.2 76.9h0.7M76.1 97.4h0.7M84.1 90.6h0.7M109.3 68.6h0.7M90.7 86.1h0.7M106.8 73.6h0.7M80.3 92.0h0.7M69.3 101.2h0.7M63.3 105.1h0.7M112.5 69.7h0.7M68.1 101.6h0.7M65.0 104.3h0.7M71.7 100.0h0.7M96.5 79.7h0.7M105.1 74.4h0.7M93.6 83.3h0.7M101.7 76.2h0.7M94.2 83.1h0.7M107.7 71.5h0.7M99.0 76.5h0.7M72.4 98.9h0.7M85.1 90.0h0.7M120.4 64.2h0.7M105.0 105.8h0.7M87.4 117.0h0.7M96.7 112.1h0.7M120.6 96.5h0.7M103.6 107.4h0.7M115.3 102.2h0.7M100.5 108.4h0.7M95.3 113.1h0.7M115.7 99.2h0.7M104.0 108.4h0.7M116.7 99.1h0.7M93.1 113.8h0.7M115.6 99.7h0.7M83.7 118.3h0.7M90.4 114.2h0.7M114.1 100.1h0.7M102.3 108.5h0.7M70.0 120.1h0.7M108.3 103.8h0.7M116.0 103.6h0.7M117.4 99.0h0.7M105.3 109.6h0.7M78.7 120.1h0.7M105.8 107.0h0.7M80.2 119.8h0.7M117.2 101.7h0.7M61.9 116.6h0.7M106.3 105.9h0.7M106.8 105.0h0.7M107.0 105.4h0.7M90.9 113.5h0.7M104.6 106.7h0.7M91.2 114.4h0.7M108.9 104.2h0.7M65.6 118.5h0.7M105.5 106.3h0.7M113.1 101.1h0.7M71.3 121.3h0.7M103.6 109.9h0.7M106.3 104.2h0.7M119.3 98.4h0.7M100.6 108.4h0.7M82.2 118.7h0.7M91.4 114.0h0.7M112.2 101.1h0.7M111.0 106.4h0.7M110.6 102.3h0.7M101.2 109.0h0.7M98.0 110.3h0.7M109.1 103.3h0.7M120.0 102.2h0.7M89.4 115.5h0.7M116.0 99.5h0.7M110.0 103.1h0.7M103.8 106.7h0.7M93.9 112.7h0.7M106.2 106.2h0.7M113.9 101.1h0.7M68.2 118.8h0.7M105.7 105.6h0.7M95.9 113.5h0.7M110.9 102.5h0.7M101.5 109.8h0.7M118.9 98.1h0.7M106.1 106.9h0.7M105.0 106.0h0.7M110.8 104.3h0.7M117.9 100.0h0.7M109.5 103.8h0.7M118.4 99.5h0.7M119.1 100.2h0.7M89.2 115.2h0.7M89.6 116.6h0.7M87.8 115.4h0.7M114.4 101.3h0.7M113.6 103.7h0.7M78.5 120.3h0.7M102.2 108.1h0.7M97.9 114.5h0.7M98.2 109.7h0.7M116.7 102.0h0.7M113.6 104.3h0.7M94.8 113.7h0.7M100.0 110.8h0.7M96.7 114.6h0.7M92.7 113.7h0.7M87.5 115.3h0.7M106.4 105.2h0.7M106.9 104.6h0.7M101.4 108.3h0.7M85.7 117.6h0.7M117.7 99.4h0.7M82.6 119.8h0.7M72.6 119.9h0.7M69.7 120.1h0.7M117.6 98.5h0.7M114.2 103.8h0.7M116.7 100.4h0.7M114.9 98.9h0.7M119.8 97.3h0.7M111.9 102.6h0.7M115.2 102.3h0.7M95.0 114.1h0.7M83.9 117.8h0.7M118.7 98.0h0.7M119.7 96.5h0.7M67.2 119.4h0.7M71.6 121.0h0.7M101.9 108.6h0.7M89.4 114.9h0.7M112.1 101.9h0.7M104.2 108.6h0.7M120.0 96.8h0.7M90.7 114.8h0.7M104.7 105.7h0.7M77.9 119.7h0.7M105.4 108.5h0.7M113.4 103.0h0.7M99.6 111.4h0.7M117.8 101.2h0.7M102.7 107.9h0.7M118.5 96.9h0.7M67.3 119.1h0.7M84.9 118.7h0.7M97.9 113.1h0.7M75.4 121.2h0.7M106.9 104.9h0.7M115.8 98.4h0.7M60.1 114.6h0.7M90.6 114.3h0.7M75.0 119.9h0.7M96.7 111.4h0.7M93.4 112.6h0.7M119.4 97.4h0.7M80.6 119.5h0.7M112.8 101.2h0.7M117.3 98.0h0.7M91.7 113.7h0.7M92.5 114.0h0.7M112.6 103.2h0.7M115.7 99.2h0.7M89.0 115.1h0.7M74.1 120.4h0.7M78.4 120.8h0.7M109.9 103.6h0.7M97.4 110.5h0.7M77.4 121.0h0.7M120.0 98.5h0.7M100.1 110.1h0.7M117.2 98.5h0.7M112.4 102.3h0.7M118.5 97.1h0.7M107.8 104.9h0.7M86.4 118.1h0.7M84.3 118.9h0.7M101.4 110.0h0.7M96.0 112.2h0.7M76.1 121.1h0.7M86.8 118.0h0.7M70.1 120.2h0.7M91.8 113.2h0.7M101.7 109.8h0.7M109.1 103.1h0.7M69.2 120.3h0.7M100.5 109.3h0.7M106.0 105.8h0.7M83.6 118.1h0.7M116.7 98.9h0.7M116.5 98.0h0.7M108.5 102.9h0.7M116.7 99.7h0.7M85.1 117.8h0.7M97.6 113.2h0.7M109.7 106.1h0.7M108.3 105.2h0.7M102.9 108.5h0.7M97.4 112.3h0.7M73.6 121.5h0.7M112.3 103.3h0.7M86.2 116.7h0.7M105.3 106.7h0.7M115.3 101.6h0.7M73.0 120.3h0.7M86.2 116.9h0.7M115.3 101.2h0.7M101.6 109.1h0.7M111.9 103.2h0.7M101.9 112.2h0.7M98.2 111.6h0.7M108.2 105.7h0.7M103.6 108.1h0.7M105.2 108.5h0.7M93.1 112.9h0.7M99.8 113.5h0.7M109.5 104.3h0.7M85.1 117.3h0.7M103.4 110.0h0.7M93.2 113.2h0.7M104.5 106.8h0.7M75.9 120.3h0.7M66.8 118.9h0.7M109.4 104.4h0.7M86.9 116.5h0.7M79.8 119.2h0.7M80.7 121.2h0.7M101.2 111.6h0.7M75.6 119.8h0.7M89.3 115.0h0.7M64.0 117.1h0.7M68.1 120.5h0.7M84.7 117.8h0.7M107.9 106.0h0.7M102.4 107.8h0.7M103.1 107.0h0.7M91.8 113.6h0.7M92.0 115.1h0.7M108.2 103.2h0.7M75.1 120.3h0.7M117.9 99.2h0.7M79.5 120.0h0.7M112.7 101.9h0.7M112.0 100.9h0.7M97.1 113.3h0.7M117.8 99.8h0.7M75.5 119.8h0.7M118.6 97.9h0.7M86.7 116.7h0.7M120.4 96.1h0.7M91.8 113.8h0.7M87.1 118.4h0.7M118.8 96.8h0.7M107.2 105.4h0.7M76.5 120.7h0.7M114.9 100.1h0.7M79.7 119.4h0.7M90.1 116.2h0.7M98.7 112.6h0.7M105.0 106.1h0.7M107.4 105.0h0.7M111.0 102.1h0.7M88.1 115.7h0.7M93.2 113.0h0.7M112.6 102.1h0.7M77.2 120.2h0.7M118.6 97.8h0.7M62.6 116.6h0.7M120.1 96.6h0.7M89.6 114.6h0.7M114.7 101.6h0.7M94.4 112.0h0.7M83.7 119.1h0.7M84.4 119.4h0.7M107.7 108.9h0.7M101.2 109.6h0.7M107.8 105.3h0.7M102.7 108.8h0.7M113.9 103.2h0.7M93.1 113.3h0.7M104.7 106.2h0.7M101.3 110.4h0.7M113.4 101.1h0.7M78.6 119.5h0.7M85.0 118.3h0.7M90.5 114.3h0.7M80.0 120.7h0.7M69.1 119.4h0.7M109.8 102.2h0.7M112.5 104.0h0.7M110.8 102.4h0.7M90.2 114.3h0.7M80.1 119.9h0.7M72.6 120.6h0.7M120.0 99.5h0.7M104.5 107.5h0.7M101.6 109.1h0.7M105.5 106.0h0.7M106.0 105.4h0.7M104.1 108.1h0.7M96.8 111.7h0.7M119.1 98.1h0.7M104.0 109.0h0.7M102.7 111.1h0.7M74.8 120.3h0.7M73.8 120.0h0.7M85.0 117.2h0.7M71.0 121.0h0.7M92.6 112.9h0.7M83.9 118.1h0.7M82.9 118.4h0.7M83.8 118.4h0.7M117.9 97.9h0.7M111.1 102.4h0.7M99.1 110.7h0.7M111.9 102.7h0.7M118.6 98.7h0.7M100.4 112.3h0.7M106.2 105.8h0.7M116.2 99.5h0.7M83.7 118.9h0.7M106.6 105.2h0.7M117.1 101.2h0.7M114.6 102.7h0.7M74.6 120.6h0.7M73.8 121.2h0.7M74.1 119.9h0.7M74.1 120.8h0.7M87.0 117.4h0.7M119.7 97.9h0.7M76.4 120.4h0.7M111.1 104.4h0.7M112.4 103.5h0.7M101.5 110.0h0.7M106.1 107.3h0.7M117.8 98.3h0.7M83.3 119.8h0.7M69.7 120.1h0.7M103.7 107.5h0.7M103.0 110.0h0.7M88.7 116.0h0.7M114.1 101.0h0.7M101.1 108.1h0.7M109.7 108.1h0.7M111.2 102.6h0.7M84.7 118.1h0.7M83.2 118.5h0.7M81.1 122.0h0.7M90.2 117.2h0.7M88.4 115.5h0.7M70.3 120.3h0.7M73.8 121.7h0.7M95.1 112.3h0.7M100.8 109.1h0.7M114.3 102.9h0.7M110.6 105.5h0.7M97.8 111.3h0.7M118.9 100.0h0.7M98.8 109.7h0.7M80.1 120.6h0.7M111.6 106.4h0.7M104.8 107.9h0.7M75.3 119.9h0.7M77.7 120.0h0.7M81.9 120.1h0.7M119.2 97.1h0.7M91.0 114.4h0.7M100.1 110.3h0.7M86.1 116.4h0.7M91.2 114.8h0.7M118.6 101.4h0.7M113.7 104.5h0.7M108.2 107.6h0.7M117.1 98.5h0.7M77.9 120.5h0.7M119.2 97.3h0.7M110.8 104.3h0.7M72.1 120.0h0.7M64.8 118.3h0.7M100.9 110.1h0.7M98.1 111.9h0.7M90.0 116.3h0.7M87.8 116.5h0.7M108.3 104.7h0.7M90.4 115.9h0.7M93.8 112.4h0.7M104.7 106.8h0.7M71.0 120.5h0.7M100.8 111.2h0.7M90.1 114.3h0.7M104.4 106.2h0.7M96.1 113.6h0.7M107.8 106.2h0.7M72.9 120.2h0.7M115.4 99.3h0.7M119.9 97.2h0.7M118.3 98.1h0.7M84.4 118.0h0.7M103.0 109.8h0.7M92.0 113.1h0.7M112.1 102.9h0.7M69.2 119.4h0.7M69.1 120.0h0.7M97.8 110.9h0.7M116.0 99.1h0.7M113.5 103.5h0.7M97.5 113.3h0.7M113.1 102.9h0.7M113.1 101.5h0.7M94.5 111.9h0.7M112.9 104.8h0.7M81.9 119.9h0.7M84.8 117.7h0.7M91.8 114.0h0.7M102.9 108.0h0.7M111.0 101.3h0.7M109.7 105.8h0.7M110.6 104.6h0.7M120.1 98.0h0.7M101.6 108.3h0.7M70.4 120.6h0.7M116.2 98.7h0.7M105.3 109.1h0.7M61.9 116.4h0.7M82.4 118.7h0.7M82.7 118.4h0.7M91.4 113.4h0.7M100.4 109.7h0.7M77.3 121.5h0.7M98.2 110.4h0.7M79.1 120.9h0.7M99.1 110.5h0.7M105.1 106.0h0.7M112.3 102.4h0.7M110.6 101.9h0.7M83.1 118.8h0.7M96.9 110.6h0.7M96.7 113.5h0.7M109.5 103.1h0.7M103.3 107.3h0.7M72.8 120.0h0.7M84.8 118.0h0.7M117.3 100.7h0.7M96.8 112.4h0.7M111.2 102.2h0.7M102.0 108.8h0.7M87.3 117.5h0.7M96.5 113.5h0.7M100.8 109.3h0.7M73.6 120.5h0.7M120.4 101.6h0.7M66.6 118.8h0.7M81.9 118.8h0.7M111.0 102.2h0.7M91.1 113.7h0.7M105.6 106.8h0.7M78.3 120.6h0.7M103.6 107.2h0.7M79.9 119.9h0.7M85.7 118.1h0.7M107.5 105.3h0.7M104.9 106.5h0.7M98.5 110.3h0.7M93.1 112.9h0.7M77.6 119.9h0.7M105.3 105.5h0.7M111.2 102.2h0.7M70.9 120.9h0.7M110.0 102.8h0.7M120.4 97.1h0.7M69.6 119.8h0.7M72.1 120.0h0.7M117.5 98.4h0.7M116.2 99.0h0.7M114.4 101.1h0.7M119.0 102.0h0.7M85.0 119.2h0.7M73.0 119.9h0.7M85.6 117.8h0.7M111.6 104.6h0.7M93.6 112.3h0.7M115.8 101.1h0.7M70.5 120.3h0.7M101.7 110.6h0.7M112.3 103.9h0.7M75.9 119.8h0.7M101.5 110.2h0.7M103.3 109.5h0.7M107.5 105.9h0.7M118.9 99.4h0.7M111.4 101.8h0.7M90.1 116.0h0.7M90.5 114.4h0.7M84.2 119.0h0.7M88.3 115.0h0.7M114.1 101.5h0.7M115.0 102.6h0.7M71.5 121.1h0.7M103.1 108.8h0.7M98.3 109.7h0.7M93.9 113.1h0.7M78.7 119.4h0.7M111.5 103.4h0.7M68.6 119.5h0.7M101.3 111.1h0.7M81.7 121.3h0.7M103.2 108.1h0.7M100.5 110.4h0.7M69.9 120.4h0.7M83.5 119.3h0.7M106.1 107.9h0.7M110.8 101.7h0.7M113.7 102.4h0.7M100.0 110.3h0.7M112.5 104.6h0.7M120.0 96.5h0.7M116.7 100.0h0.7M118.0 97.8h0.7M118.9 101.2h0.7M99.2 110.0h0.7M105.3 105.6h0.7M85.2 117.5h0.7M96.3 113.5h0.7M82.2 119.7h0.7M95.0 113.2h0.7M93.0 113.2h0.7M103.8 110.4h0.7M111.4 102.3h0.7M109.7 106.5h0.7M91.1 114.9h0.7M100.1 109.4h0.7M90.7 115.3h0.7M106.3 107.0h0.7M83.8 119.4h0.7M94.1 112.9h0.7M115.5 99.5h0.7M77.2 120.2h0.7M88.9 116.0h0.7M104.4 110.1h0.7M114.6 100.6h0.7M100.9 108.9h0.7M107.9 103.9h0.7M120.1 99.7h0.7M119.9 98.0h0.7M77.0 119.9h0.7M103.9 107.2h0.7M109.1 104.0h0.7M84.4 119.1h0.7M114.8 100.4h0.7M95.7 113.1h0.7M86.4 117.8h0.7M113.2 101.3h0.7M113.7 101.9h0.7M94.7 112.7h0.7M109.6 103.7h0.7M109.5 107.2h0.7M106.2 107.3h0.7M75.4 119.9h0.7M103.9 107.0h0.7M98.4 110.9h0.7M89.5 115.3h0.7M65.6 118.7h0.7M108.4 105.1h0.7M69.9 119.7h0.7M73.9 120.8h0.7M95.0 111.4h0.7M85.1 117.3h0.7M114.7 102.9h0.7M118.6 100.0h0.7M105.5 105.9h0.7M69.5 120.2h0.7M108.0 103.7h0.7M118.8 102.5h0.7M114.1 99.7h0.7M103.3 112.2h0.7M117.2 98.8h0.7M95.8 111.5h0.7M97.2 113.9h0.7M100.7 108.8h0.7M79.2 120.1h0.7M92.5 113.4h0.7M111.3 102.0h0.7M79.2 119.8h0.7M101.1 109.0h0.7M108.2 105.1h0.7M103.6 107.8h0.7M99.2 110.6h0.7M75.5 120.0h0.7M98.5 110.8h0.7M107.0 106.8h0.7M99.7 110.8h0.7M74.1 120.0h0.7M83.1 118.4h0.7M116.5 100.5h0.7M114.8 100.3h0.7M99.2 110.4h0.7M110.2 104.4h0.7M89.9 113.9h0.7M120.0 98.1h0.7M111.9 106.8h0.7M113.3 102.0h0.7M88.6 116.8h0.7M101.7 110.0h0.7M114.2 101.1h0.7M80.8 119.3h0.7M92.5 114.0h0.7M104.8 106.1h0.7M86.4 119.2h0.7M99.2 111.5h0.7M86.9 116.2h0.7M114.4 101.5h0.7M91.2 113.4h0.7M61.1 114.7h0.7M88.3 116.2h0.7M113.2 102.8h0.7M93.7 114.1h0.7M107.1 104.2h0.7M99.2 110.1h0.7M114.8 101.0h0.7M73.4 120.3h0.7M112.7 102.4h0.7M118.2 98.9h0.7M79.1 120.9h0.7M82.7 119.3h0.7M109.4 104.5h0.7M90.2 115.2h0.7M115.1 100.2h0.7M91.6 115.4h0.7M115.2 100.0h0.7M114.9 99.4h0.7M84.3 117.6h0.7M95.6 114.7h0.7M106.5 107.6h0.7M106.9 105.3h0.7M66.3 118.6h0.7M115.9 103.9h0.7M115.0 100.0h0.7M91.6 114.3h0.7M102.5 109.3h0.7M92.8 114.4h0.7M113.1 103.4h0.7M76.3 120.9h0.7M111.1 104.2h0.7M72.7 120.8h0.7M73.7 120.5h0.7M89.6 114.4h0.7M116.5 98.8h0.7M83.8 119.0h0.7M103.9 107.2h0.7M116.9 98.5h0.7M94.0 113.0h0.7M73.3 120.7h0.7M63.0 117.3h0.7M107.4 105.4h0.7M66.6 119.0h0.7M112.9 101.6h0.7M82.5 119.8h0.7M119.6 100.6h0.7M109.5 103.6h0.7M98.6 110.0h0.7M101.6 108.7h0.7M81.9 119.2h0.7M106.9 104.9h0.7M83.4 119.5h0.7M100.6 109.4h0.7M68.8 119.4h0.7M112.7 100.5h0.7M87.5 115.6h0.7M106.2 106.8h0.7M112.1 103.1h0.7M107.3 106.5h0.7M115.1 99.0h0.7M98.3 109.4h0.7M97.8 111.3h0.7M74.6 120.9h0.7M110.4 102.7h0.7M96.4 111.7h0.7M97.1 113.7h0.7M109.4 104.0h0.7M95.0 112.2h0.7M67.9 118.8h0.7M110.2 104.4h0.7M109.3 102.4h0.7M90.3 114.5h0.7M110.2 103.2h0.7M85.8 117.1h0.7M79.7 120.8h0.7M106.9 105.9h0.7M85.9 120.1h0.7M84.2 117.6h0.7M72.0 121.4h0.7M84.7 119.8h0.7M87.8 116.2h0.7M103.2 106.9h0.7M71.8 120.4h0.7M96.1 112.1h0.7M94.0 113.9h0.7M105.6 105.6h0.7M118.4 98.1h0.7M69.8 120.0h0.7M109.2 106.7h0.7M118.2 97.9h0.7M78.5 119.7h0.7M72.3 119.9h0.7M106.3 108.6h0.7M108.1 105.0h0.7M113.3 100.7h0.7M75.3 120.0h0.7M104.3 107.4h0.7M95.8 112.3h0.7M113.5 102.2h0.7M82.2 119.0h0.7M67.4 118.9h0.7M82.2 118.6h0.7M102.0 109.6h0.7M96.7 114.2h0.7M116.1 99.8h0.7M112.7 106.7h0.7M113.3 100.7h0.7M93.3 113.6h0.7M100.5 109.7h0.7M96.2 111.4h0.7M96.0 111.8h0.7M77.0 119.7h0.7M118.4 99.3h0.7M116.8 99.4h0.7M92.3 113.9h0.7M106.9 104.1h0.7M83.0 118.6h0.7M97.3 111.8h0.7M93.8 114.3h0.7M117.2 100.4h0.7M106.2 106.8h0.7M104.1 107.1h0.7M98.0 114.0h0.7M97.2 110.1h0.7M100.1 111.1h0.7M72.3 120.1h0.7M108.3 104.2h0.7M81.6 120.1h0.7M84.2 119.6h0.7M99.3 110.8h0.7M77.0 119.8h0.7M98.2 111.4h0.7M69.0 120.0h0.7M71.7 120.4h0.7M95.7 110.7h0.7M83.5 119.5h0.7M106.9 106.0h0.7M119.9 98.4h0.7M116.3 101.8h0.7M86.8 116.5h0.7M95.7 111.6h0.7M95.3 111.9h0.7M86.2 117.9h0.7M115.8 99.3h0.7M76.5 119.9h0.7M84.0 117.9h0.7M94.3 112.9h0.7M93.3 114.9h0.7M117.7 101.0h0.7M113.7 102.5h0.7M104.8 107.8h0.7M119.3 97.1h0.7M116.1 100.9h0.7M91.3 115.2h0.7M97.1 110.0h0.7M112.6 101.8h0.7M112.4 103.1h0.7M108.3 104.1h0.7M73.5 121.4h0.7M87.1 118.2h0.7M108.2 105.8h0.7M90.4 115.5h0.7M103.8 106.6h0.7M119.1 99.1h0.7M112.4 102.3h0.7M89.3 114.2h0.7M103.9 106.9h0.7M88.4 115.9h0.7M115.4 102.3h0.7M119.2 98.2h0.7M110.9 104.6h0.7M118.8 97.7h0.7M97.9 110.1h0.7M114.6 101.2h0.7M89.5 114.9h0.7M89.1 114.6h0.7M94.3 111.8h0.7M117.1 99.4h0.7M84.8 118.9h0.7M110.4 102.1h0.7M112.6 100.8h0.7M69.1 120.5h0.7M101.8 108.1h0.7M99.3 109.8h0.7M109.3 104.9h0.7M84.4 117.9h0.7M99.7 109.4h0.7M114.8 102.6h0.7M114.8 99.8h0.7M111.9 104.4h0.7M101.2 111.0h0.7M108.9 102.8h0.7M107.3 103.8h0.7M102.5 108.5h0.7M87.4 118.3h0.7M90.0 116.2h0.7M94.5 113.6h0.7M120.1 97.9h0.7M107.7 104.7h0.7M109.1 104.6h0.7M85.8 118.4h0.7M117.9 100.2h0.7M74.0 121.1h0.7M118.1 97.5h0.7M116.3 98.6h0.7M103.4 110.7h0.7M102.7 109.2h0.7M99.2 111.7h0.7M100.4 110.5h0.7M113.1 102.1h0.7M99.6 111.1h0.7M103.0 107.4h0.7M118.4 99.2h0.7M115.7 100.3h0.7M91.9 114.3h0.7M112.7 101.7h0.7M107.0 104.8h0.7M96.4 111.0h0.7M72.7 120.7h0.7M94.8 112.5h0.7M112.8 100.3h0.7M92.9 113.6h0.7M73.4 120.5h0.7M93.8 114.5h0.7M98.2 113.9h0.7M94.5 112.8h0.7M70.7 121.1h0.7M110.8 102.7h0.7M84.4 117.7h0.7M115.3 100.0h0.7M106.0 106.1h0.7M97.8 111.6h0.7M90.2 114.2h0.7M115.9 99.8h0.7M79.5 119.5h0.7M65.0 117.9h0.7M117.0 99.2h0.7M67.3 119.3h0.7M116.1 99.8h0.7M113.6 101.7h0.7M84.1 118.1h0.7M110.8 103.5h0.7M69.8 120.2h0.7M119.1 98.6h0.7M68.2 120.1h0.7M114.5 100.7h0.7M107.7 104.8h0.7M103.6 107.0h0.7M113.0 101.2h0.7M99.6 109.3h0.7M79.6 119.7h0.7M95.7 112.5h0.7M90.9 116.1h0.7M68.7 119.5h0.7M104.6 108.0h0.7M115.3 101.7h0.7M73.5 120.8h0.7M118.0 98.2h0.7M88.4 116.3h0.7M75.3 121.1h0.7M118.1 98.2h0.7M102.7 109.4h0.7M91.0 114.3h0.7M82.6 120.2h0.7M73.1 121.5h0.7M99.4 111.7h0.7M80.5 119.1h0.7M77.3 120.0h0.7M101.8 108.9h0.7M114.4 103.1h0.7M65.9 117.9h0.7M82.7 119.7h0.7M89.9 114.3h0.7M85.0 117.0h0.7M94.1 113.0h0.7M113.7 104.1h0.7M86.1 117.3h0.7M68.8 119.5h0.7M109.3 103.9h0.7M85.3 119.2h0.7M91.1 117.2h0.7M104.7 109.7h0.7M110.0 106.5h0.7M100.7 111.1h0.7M101.3 111.7h0.7M104.4 106.3h0.7M84.1 118.8h0.7M106.1 104.2h0.7M88.9 117.7h0.7M114.4 99.3h0.7M116.9 98.7h0.7M91.6 113.4h0.7M89.3 115.9h0.7M77.1 120.2h0.7M102.2 108.9h0.7M107.7 104.2h0.7M95.8 112.7h0.7M88.3 115.3h0.7M70.5 120.5h0.7M113.2 102.7h0.7M103.9 109.2h0.7M80.2 120.6h0.7M97.6 110.3h0.7M78.6 121.1h0.7M117.5 97.7h0.7M65.7 120.0h0.7M118.4 97.3h0.7M101.9 107.8h0.7M117.9 99.7h0.7M111.2 102.6h0.7" stroke="#555" stroke-width="0.7" fill="none"/>
<path d="M52.5 138.0h0.7M68.3 138.1h0.7M84.0 119.9h0.7M81.3 137.3h0.7M66.0 138.6h0.7M60.7 130.1h0.7M81.6 123.8h0.7M65.7 134.9h0.7M49.7 136.9h0.7M79.5 121.8h0.7M69.6 121.9h0.7M64.9 137.8h0.7M61.1 126.9h0.7M79.9 117.1h0.7M52.1 135.3h0.7M52.0 134.0h0.7M72.1 120.4h0.7M60.0 132.0h0.7M53.7 136.1h0.7M83.7 122.9h0.7M82.1 134.8h0.7M74.2 125.1h0.7M63.2 137.8h0.7M57.8 132.0h0.7M55.1 137.7h0.7M75.9 134.4h0.7M66.6 132.9h0.7M67.4 122.3h0.7M57.9 136.9h0.7M81.4 131.2h0.7M70.4 130.4h0.7M71.2 128.6h0.7M75.4 132.4h0.7M73.3 127.8h0.7M50.3 137.3h0.7M81.1 130.9h0.7M66.7 133.3h0.7M57.1 136.1h0.7M78.4 125.0h0.7M82.3 130.4h0.7M76.6 138.6h0.7M80.1 122.1h0.7M60.5 127.4h0.7M74.2 130.0h0.7M78.4 132.4h0.7M74.5 126.4h0.7M68.7 138.2h0.7M69.3 133.1h0.7M69.5 126.6h0.7M59.2 134.7h0.7M50.3 134.4h0.7M59.5 130.7h0.7M83.3 130.5h0.7M76.3 132.9h0.7M62.2 138.4h0.7M52.6 136.8h0.7M57.5 138.1h0.7M74.4 133.3h0.7M83.0 123.9h0.7M71.5 122.7h0.7M74.0 133.0h0.7M79.1 137.3h0.7M80.5 135.1h0.7M50.0 134.8h0.7M53.0 134.8h0.7M80.2 113.7h0.7M71.0 137.2h0.7M51.7 133.7h0.7M72.1 135.0h0.7M66.5 134.1h0.7M55.7 134.5h0.7M60.9 137.6h0.7M81.8 129.3h0.7M69.6 121.8h0.7M78.3 130.6h0.7M62.2 127.6h0.7M75.1 120.3h0.7M56.1 137.8h0.7M50.3 136.2h0.7M55.2 137.5h0.7M81.1 135.7h0.7M81.6 113.0h0.7M61.5 131.2h0.7M58.3 131.9h0.7M54.8 132.9h0.7M67.7 132.0h0.7M71.1 131.3h0.7M49.6 138.1h0.7M71.8 130.0h0.7M74.2 138.7h0.7M75.0 124.1h0.7M53.0 136.2h0.7M67.1 130.4h0.7M72.9 126.2h0.7M56.5 132.1h0.7M57.8 138.9h0.7M56.7 134.6h0.7M77.4 126.7h0.7M56.1 136.5h0.7M71.7 123.3h0.7M72.2 130.6h0.7M77.8 121.1h0.7M72.8 131.1h0.7M78.9 131.8h0.7M78.4 128.5h0.7M80.8 136.6h0.7M51.1 135.7h0.7M67.4 131.9h0.7M72.9 126.9h0.7M66.3 124.6h0.7M62.0 128.3h0.7M53.6 135.6h0.7M50.6 137.5h0.7M68.2 124.2h0.7M61.6 128.1h0.7M53.0 138.0h0.7M53.1 136.1h0.7M63.6 128.8h0.7M60.6 129.3h0.7M56.4 133.3h0.7M76.0 119.1h0.7M65.5 137.0h0.7M64.2 134.0h0.7M73.3 132.8h0.7M81.2 135.6h0.7M66.8 123.6h0.7M62.1 127.6h0.7M64.0 128.2h0.7M60.8 127.5h0.7M73.8 123.8h0.7M75.9 117.8h0.7M74.9 121.6h0.7M78.0 121.4h0.7M75.3 118.5h0.7M73.1 125.3h0.7M64.9 136.1h0.7M73.1 130.0h0.7M77.3 115.2h0.7M60.4 130.9h0.7M84.4 118.5h0.7M72.1 138.2h0.7M65.1 124.0h0.7M71.5 135.8h0.7M54.2 134.6h0.7M57.9 130.1h0.7M72.8 125.4h0.7M53.3 137.9h0.7M75.1 134.5h0.7M64.8 124.4h0.7M58.6 137.3h0.7M58.5 128.5h0.7M57.3 136.1h0.7M81.4 126.5h0.7M60.7 132.0h0.7M50.8 135.8h0.7M68.5 123.0h0.7M65.7 134.6h0.7M50.3 135.0h0.7M63.9 126.6h0.7M57.1 130.5h0.7M61.6 131.6h0.7M60.0 137.0h0.7M70.1 130.0h0.7M80.0 127.5h0.7M79.5 128.2h0.7M85.2 128.0h0.7M69.8 122.2h0.7M80.4 132.7h0.7M80.4 136.5h0.7M82.5 113.0h0.7" stroke="#a0a0a0" stroke-width="0.7" fill="none"/>
<path d="M34.2 142.10000000000002h9l8 .6h-17z" fill="#555" filter="url(#b1)"/>
<path d="M36.7 140.5L42.2 132L47.2 124L52.2 117L56.2 111.5L58.7 113.5L54.2 118.5L48.7 125.5L43.2 133.5L37.7 141.5z" fill="#4a4a4a" filter="url(#b1)"/>
<polygon points="52.2,117.5 56.5,111.1 65.4,103.1 74.2,97.8 83.1,91.6 91.9,84.5 100.8,77.5 109.6,71.3 118.5,66.0 121.2,64.0 121.2,96.0 118.5,97.8 109.6,103.1 100.8,109.3 91.9,113.7 83.1,119.0 77.2,120.5 70.7,120.8 65.2,118.5 60.1,114.6 55.2,115.5 52.2,119.0" fill="#444" filter="url(#rough)"/>
<polygon points="63.2,107.5 68.7,104.9 74.1,102.4 79.6,99.2 85.0,95.6 90.5,91.4 95.9,87.4 101.4,83.5 106.8,79.6 112.3,76.1 117.7,72.8 123.2,70.4 123.2,89.6 117.7,91.9 112.3,95.1 106.8,98.7 101.4,102.5 95.9,105.6 90.5,108.8 85.0,112.3 79.6,114.7 74.1,116.1 68.7,116.2 63.2,114.6" fill="#787878" filter="url(#b2)"/>
<polygon points="82.2,99.2 85.9,96.6 89.7,93.8 93.4,91.0 97.1,88.4 100.8,85.7 104.6,83.1 108.3,80.5 112.0,78.1 115.7,75.9 119.5,73.6 123.2,72.3 123.2,87.0 119.5,88.2 115.7,90.5 112.0,92.8 108.3,95.1 104.6,97.7 100.8,100.4 97.1,102.5 93.4,104.7 89.7,107.0 85.9,109.5 82.2,111.7" fill="#adadad" filter="url(#b2)"/>
<g transform="rotate(-20 74.2 109.3)" filter="url(#b1)">
<ellipse cx="77.2" cy="109.3" rx="16" ry="6.8" fill="#868686"/>
<ellipse cx="74.2" cy="109.3" rx="11" ry="4.6" fill="#b4b4b4"/>
<ellipse cx="73.2" cy="109.3" rx="5.5" ry="1.9" fill="#666"/>
<ellipse cx="73.2" cy="109.3" rx="2.3" ry="0.7" fill="#333"/>
</g>
</g>
<rect x="33.3" y="131.5" width="12.6" height="4.4" fill="#fff" fill-opacity="0.45" stroke="#222" stroke-width="0.65" transform="rotate(-50 39.6 133.7)"/>
<rect x="33.2" y="59" width="85.8" height="84.3" fill="none" stroke="#8a8a8a" stroke-width="0.8"/>
<text x="28.6" y="145.7" font-size="6.1" font-weight="bold" stroke="#222" stroke-width="0.2" text-anchor="end" fill="#222">0</text>
<text x="33.7" y="152.20000000000002" font-size="6.1" font-weight="bold" stroke="#222" stroke-width="0.2" text-anchor="middle" fill="#222">0</text>
<text x="28.6" y="129.4" font-size="6.1" font-weight="bold" stroke="#222" stroke-width="0.2" text-anchor="end" fill="#222">200</text>
<text x="50.4" y="152.20000000000002" font-size="6.1" font-weight="bold" stroke="#222" stroke-width="0.2" text-anchor="middle" fill="#222">200</text>
<text x="28.6" y="113.1" font-size="6.1" font-weight="bold" stroke="#222" stroke-width="0.2" text-anchor="end" fill="#222">400</text>
<text x="67.0" y="152.20000000000002" font-size="6.1" font-weight="bold" stroke="#222" stroke-width="0.2" text-anchor="middle" fill="#222">400</text>
<text x="28.6" y="96.8" font-size="6.1" font-weight="bold" stroke="#222" stroke-width="0.2" text-anchor="end" fill="#222">600</text>
<text x="83.7" y="152.20000000000002" font-size="6.1" font-weight="bold" stroke="#222" stroke-width="0.2" text-anchor="middle" fill="#222">600</text>
<text x="28.6" y="80.5" font-size="6.1" font-weight="bold" stroke="#222" stroke-width="0.2" text-anchor="end" fill="#222">800</text>
<text x="100.3" y="152.20000000000002" font-size="6.1" font-weight="bold" stroke="#222" stroke-width="0.2" text-anchor="middle" fill="#222">800</text>
<text x="28.6" y="64.2" font-size="6.1" font-weight="bold" stroke="#222" stroke-width="0.2" text-anchor="end" fill="#222">1000</text>
<text x="116.2" y="152.20000000000002" font-size="6.1" font-weight="bold" stroke="#222" stroke-width="0.2" text-anchor="middle" fill="#222">1000</text>
<clipPath id="cp12"><rect x="151.2" y="59.3" width="86.3" height="85.4"/></clipPath>
<g clip-path="url(#cp12)">
<path d="M224.3 70.2h0.7M226.4 68.9h0.7M233.9 64.7h0.7M228.7 64.5h0.7M238.3 59.1h0.7M217.5 76.3h0.7M226.1 65.4h0.7M226.9 67.8h0.7M207.0 83.6h0.7M195.0 93.5h0.7M192.0 93.2h0.7M228.6 58.5h0.7M226.2 68.4h0.7M213.0 80.4h0.7M224.7 65.6h0.7M190.9 97.8h0.7M223.8 71.9h0.7M194.7 91.9h0.7M210.3 82.6h0.7M233.5 64.5h0.7M235.6 60.4h0.7M202.6 90.6h0.7M184.2 98.3h0.7M212.8 80.8h0.7M238.4 60.3h0.7M227.0 70.7h0.7M231.7 67.7h0.7M232.8 63.6h0.7M192.5 96.1h0.7M232.8 65.2h0.7M232.1 65.1h0.7M204.7 88.1h0.7M211.3 80.7h0.7M206.5 85.8h0.7M192.2 93.9h0.7M177.8 106.2h0.7M229.2 68.5h0.7M224.4 72.4h0.7M202.8 87.6h0.7M214.5 73.2h0.7M228.7 66.5h0.7M195.9 94.3h0.7M228.9 68.5h0.7M232.6 62.7h0.7M193.5 95.5h0.7M232.1 63.8h0.7M203.8 90.0h0.7M224.0 70.5h0.7M201.9 90.3h0.7M200.4 88.6h0.7M230.0 68.7h0.7M213.7 73.2h0.7M198.5 93.6h0.7M227.2 70.3h0.7M213.0 80.6h0.7M216.2 76.4h0.7M199.9 88.4h0.7M229.6 65.0h0.7M235.5 64.3h0.7M230.8 68.0h0.7M219.3 72.1h0.7M206.5 86.4h0.7M201.8 87.3h0.7M196.0 92.2h0.7M214.5 79.5h0.7M197.7 87.3h0.7M231.5 63.0h0.7M228.5 68.1h0.7M223.4 72.4h0.7M237.8 57.2h0.7M214.3 79.5h0.7M232.2 68.0h0.7M236.7 63.2h0.7M237.7 61.6h0.7M226.8 66.3h0.7M219.6 71.4h0.7M210.9 72.2h0.7M209.2 81.9h0.7M209.9 76.2h0.7M194.1 90.1h0.7M224.9 68.3h0.7M185.2 98.4h0.7M221.9 70.8h0.7M222.9 64.5h0.7M232.1 64.6h0.7M204.1 87.5h0.7M197.8 92.7h0.7M233.6 63.6h0.7M190.1 97.4h0.7M185.3 102.9h0.7M226.3 70.9h0.7M223.2 71.9h0.7M238.0 63.1h0.7M237.1 63.4h0.7M227.3 59.4h0.7M207.3 81.6h0.7M207.8 83.1h0.7M193.6 95.4h0.7M191.1 93.2h0.7M225.7 67.8h0.7M215.3 78.8h0.7M179.3 105.2h0.7M200.1 91.3h0.7M235.4 59.8h0.7M201.0 90.7h0.7M233.7 59.5h0.7M192.0 95.1h0.7M209.8 78.4h0.7M234.2 64.5h0.7M228.7 65.3h0.7M229.6 67.8h0.7M236.7 56.5h0.7M222.5 72.3h0.7M196.9 92.0h0.7M221.3 73.6h0.7M230.9 68.5h0.7M233.8 61.0h0.7M191.1 96.5h0.7M224.2 67.7h0.7M234.6 66.2h0.7M192.6 96.0h0.7M197.8 94.1h0.7M189.4 99.1h0.7M208.7 84.0h0.7M201.6 88.3h0.7M194.1 95.9h0.7M211.8 78.5h0.7M209.8 83.2h0.7M209.7 81.0h0.7M222.0 69.8h0.7M234.9 64.7h0.7M195.2 95.8h0.7M210.6 81.6h0.7M212.6 79.4h0.7M184.6 101.7h0.7M213.8 79.8h0.7M199.5 92.8h0.7M219.4 73.9h0.7M205.3 84.0h0.7M230.0 66.1h0.7M225.5 61.1h0.7M202.2 88.3h0.7M229.4 69.4h0.7M228.6 68.1h0.7M214.6 75.4h0.7M206.1 84.6h0.7M239.4 62.4h0.7M197.2 93.1h0.7M187.0 98.7h0.7M211.9 77.8h0.7M219.1 74.0h0.7M208.0 77.4h0.7M187.7 97.8h0.7M228.1 67.9h0.7M208.6 84.9h0.7M206.6 81.8h0.7M194.6 96.1h0.7M227.1 67.5h0.7M201.6 91.6h0.7M190.9 97.6h0.7M233.1 64.0h0.7M204.7 86.6h0.7M236.0 61.2h0.7M231.7 66.6h0.7M233.6 66.4h0.7M208.6 80.9h0.7M218.8 73.7h0.7M229.2 68.8h0.7M211.1 78.6h0.7M201.6 87.6h0.7M231.7 67.0h0.7M227.9 68.3h0.7M212.9 76.7h0.7M194.8 92.0h0.7M198.0 87.4h0.7M212.6 76.2h0.7M181.5 102.1h0.7M224.1 72.1h0.7M188.9 99.2h0.7M233.1 64.6h0.7M209.0 83.5h0.7M227.6 67.6h0.7M212.9 75.8h0.7M237.3 59.8h0.7M199.2 90.8h0.7M231.6 66.2h0.7M191.8 96.5h0.7M192.2 97.6h0.7M231.5 63.7h0.7M206.5 86.9h0.7M211.6 80.1h0.7M231.7 62.6h0.7M194.8 92.3h0.7M192.3 95.0h0.7M207.0 83.9h0.7M235.1 59.9h0.7M227.2 64.5h0.7M217.1 71.4h0.7M224.3 65.6h0.7M233.9 62.2h0.7M207.5 85.3h0.7M235.4 59.1h0.7M237.7 61.9h0.7M217.4 71.8h0.7M237.2 63.0h0.7M230.1 68.5h0.7M185.6 101.5h0.7M192.0 95.5h0.7M181.5 104.9h0.7M195.9 92.7h0.7M211.6 74.2h0.7M189.7 95.0h0.7M215.8 75.7h0.7M228.5 66.3h0.7M233.5 62.4h0.7M216.8 77.4h0.7M216.5 78.1h0.7M229.1 64.3h0.7M205.8 87.9h0.7M227.2 60.1h0.7M214.7 72.0h0.7M194.9 95.3h0.7M212.8 78.1h0.7M228.3 67.4h0.7M239.7 60.6h0.7M223.4 70.7h0.7M235.2 64.7h0.7M228.9 69.7h0.7M211.8 79.2h0.7M203.3 88.2h0.7M226.1 66.6h0.7M229.1 69.8h0.7M208.1 80.1h0.7M217.4 76.3h0.7M234.4 61.1h0.7M224.8 64.8h0.7M221.0 71.0h0.7M201.8 90.4h0.7M236.5 58.6h0.7M229.4 68.2h0.7M201.6 91.2h0.7M211.5 81.3h0.7M225.0 70.0h0.7M222.9 72.3h0.7M185.6 101.5h0.7M183.4 103.4h0.7M200.0 85.9h0.7M235.6 62.4h0.7M231.9 68.2h0.7M206.0 81.9h0.7M200.4 90.5h0.7M192.3 95.1h0.7M202.2 87.9h0.7M196.4 94.5h0.7M230.8 67.8h0.7M200.7 89.7h0.7M232.9 58.0h0.7M206.7 76.4h0.7M191.1 97.8h0.7M211.0 76.9h0.7M228.6 68.2h0.7M218.3 74.7h0.7M227.4 64.2h0.7M222.2 72.9h0.7M213.1 79.2h0.7M207.1 85.4h0.7M175.7 108.5h0.7M185.7 99.6h0.7M216.7 77.9h0.7M191.6 93.0h0.7M203.0 89.7h0.7M217.9 75.3h0.7M234.0 62.3h0.7M235.8 64.7h0.7M222.9 72.8h0.7M186.0 99.7h0.7M210.9 83.0h0.7M220.5 72.1h0.7M214.0 77.4h0.7M228.1 66.3h0.7M203.6 88.0h0.7M225.3 64.7h0.7M234.1 63.2h0.7M220.4 71.8h0.7M217.3 76.3h0.7M232.9 66.6h0.7M222.6 70.4h0.7M207.6 83.3h0.7M221.5 71.4h0.7M181.3 103.6h0.7M210.5 81.0h0.7M223.1 69.5h0.7M214.8 71.3h0.7M220.5 72.4h0.7M225.2 63.7h0.7M221.1 74.3h0.7M231.5 61.0h0.7M187.1 99.9h0.7M226.9 71.0h0.7M217.0 71.5h0.7M227.3 66.1h0.7M204.8 88.8h0.7M225.8 66.3h0.7M181.8 100.3h0.7M196.9 92.4h0.7M229.9 63.2h0.7M200.1 86.6h0.7M226.6 68.6h0.7M223.3 68.1h0.7M211.5 74.7h0.7M206.2 86.1h0.7M228.5 67.3h0.7M213.9 75.1h0.7M201.3 85.5h0.7M229.2 63.4h0.7M211.3 78.0h0.7M233.9 61.8h0.7M210.2 80.5h0.7M203.3 89.8h0.7M213.8 78.6h0.7M191.5 96.0h0.7M195.6 94.8h0.7M218.3 73.0h0.7M225.9 69.1h0.7M217.1 66.3h0.7M195.5 92.6h0.7M191.2 96.9h0.7M232.5 61.9h0.7M207.1 82.9h0.7M227.0 70.1h0.7M208.2 85.7h0.7M204.7 85.3h0.7M220.5 72.5h0.7M219.0 72.6h0.7M208.1 84.0h0.7M194.7 94.7h0.7M205.0 90.7h0.7M237.5 63.0h0.7M233.2 59.2h0.7M195.6 93.6h0.7M221.8 71.5h0.7M228.4 70.3h0.7M234.2 64.1h0.7M216.8 73.8h0.7M231.4 63.5h0.7M190.9 97.5h0.7M198.8 90.3h0.7M221.2 73.6h0.7M223.5 71.7h0.7M217.5 70.6h0.7M209.3 81.2h0.7M236.4 60.5h0.7M200.3 89.4h0.7M232.1 67.3h0.7M185.4 99.1h0.7M211.4 80.3h0.7M234.9 66.0h0.7M214.0 78.6h0.7M235.5 61.1h0.7M231.7 66.4h0.7M236.7 63.5h0.7M234.7 58.7h0.7M207.1 83.9h0.7M236.9 59.5h0.7M195.5 94.0h0.7M234.3 62.2h0.7M233.4 63.7h0.7M225.5 65.0h0.7M195.7 95.0h0.7M216.5 75.1h0.7M237.7 63.2h0.7M181.9 103.7h0.7M206.8 87.2h0.7M220.5 74.3h0.7M224.9 68.1h0.7M234.7 63.9h0.7M206.7 85.5h0.7M199.3 92.1h0.7M239.1 56.8h0.7M208.2 82.5h0.7M195.0 94.2h0.7M184.9 100.6h0.7M232.1 62.6h0.7M188.5 98.3h0.7M209.4 82.4h0.7M216.4 75.6h0.7M227.2 69.9h0.7M221.6 72.8h0.7M236.3 62.9h0.7M206.9 82.9h0.7M235.6 63.8h0.7M204.6 87.4h0.7M223.5 70.2h0.7M226.7 71.0h0.7M210.2 82.9h0.7M193.4 95.5h0.7M200.6 91.8h0.7M230.4 66.8h0.7M208.8 78.6h0.7M194.2 95.9h0.7M233.3 61.6h0.7M229.3 65.6h0.7M215.9 77.6h0.7M209.1 82.0h0.7M205.9 83.2h0.7M230.7 57.7h0.7M231.3 66.8h0.7M184.8 100.4h0.7M238.4 52.3h0.7M222.9 69.0h0.7M225.6 70.6h0.7M237.4 60.3h0.7M226.1 71.3h0.7M208.3 80.9h0.7M219.1 75.7h0.7M237.7 57.8h0.7M213.7 78.5h0.7M234.2 62.7h0.7M190.0 98.2h0.7M239.7 55.9h0.7M232.5 103.3h0.7M213.6 115.1h0.7M192.8 123.5h0.7M235.2 98.7h0.7M218.7 109.3h0.7M222.1 106.9h0.7M237.7 98.5h0.7M237.3 98.8h0.7M203.5 119.1h0.7M200.8 120.2h0.7M205.4 117.3h0.7M205.0 118.8h0.7M234.7 103.2h0.7M209.8 114.4h0.7M222.7 104.3h0.7M233.2 99.3h0.7M214.4 113.3h0.7M226.6 112.6h0.7M227.7 102.4h0.7M231.0 104.0h0.7M215.6 110.7h0.7M210.7 115.1h0.7M208.8 118.8h0.7M232.5 110.6h0.7M233.2 107.4h0.7M197.4 121.6h0.7M211.6 112.0h0.7M211.6 113.0h0.7M235.7 103.7h0.7M210.2 116.3h0.7M237.3 95.4h0.7M218.3 112.2h0.7M235.1 102.1h0.7M238.0 94.6h0.7M226.6 108.5h0.7M223.1 103.9h0.7M217.5 112.1h0.7M205.7 116.3h0.7M193.1 125.9h0.7M232.5 101.4h0.7M218.4 108.8h0.7M224.3 109.4h0.7M229.4 105.6h0.7M228.4 105.7h0.7M237.0 97.7h0.7M217.1 110.5h0.7M224.8 105.2h0.7M225.2 107.4h0.7M231.3 108.5h0.7M210.7 117.5h0.7M217.2 108.9h0.7M217.9 106.8h0.7M235.7 101.1h0.7M237.2 99.6h0.7M235.9 100.1h0.7M218.0 111.6h0.7M227.7 101.3h0.7M232.7 105.5h0.7M205.1 116.6h0.7M198.4 120.1h0.7M231.4 99.3h0.7M225.1 113.0h0.7M218.8 108.6h0.7M200.5 125.0h0.7M226.6 104.2h0.7M215.8 116.0h0.7M219.8 111.5h0.7M191.8 123.8h0.7M224.4 105.4h0.7M233.0 99.5h0.7M225.3 105.6h0.7M230.4 102.7h0.7M229.8 101.9h0.7M221.2 107.0h0.7M230.7 102.3h0.7M217.4 114.2h0.7M208.1 121.7h0.7M200.5 120.3h0.7M225.9 106.6h0.7M235.0 101.2h0.7M231.8 98.9h0.7M219.5 111.4h0.7M209.5 117.9h0.7M204.9 120.3h0.7M235.4 105.1h0.7M230.2 100.5h0.7M214.8 113.1h0.7M235.5 95.7h0.7M206.8 121.7h0.7M220.4 106.2h0.7M192.8 123.4h0.7M220.5 110.4h0.7M234.8 99.4h0.7M206.5 122.2h0.7M202.4 121.2h0.7M207.3 116.6h0.7M204.0 119.1h0.7M212.2 112.3h0.7M206.2 119.0h0.7M206.9 117.1h0.7M218.1 111.1h0.7M205.5 121.3h0.7M214.6 110.5h0.7M231.1 103.7h0.7M233.7 98.5h0.7M227.6 109.5h0.7M220.2 110.2h0.7M192.9 122.9h0.7M226.5 103.8h0.7M224.7 105.7h0.7M211.9 112.0h0.7M203.4 126.6h0.7M218.8 108.3h0.7M225.2 106.8h0.7M201.6 121.5h0.7M222.2 108.4h0.7M231.6 104.5h0.7M230.6 108.3h0.7M226.7 105.7h0.7M220.9 108.1h0.7M193.6 120.7h0.7M209.3 115.5h0.7M203.8 119.5h0.7M214.2 115.6h0.7M233.3 98.9h0.7M227.1 104.1h0.7M214.8 112.8h0.7M209.7 114.5h0.7M210.5 113.4h0.7M237.9 95.5h0.7M216.0 114.1h0.7M225.9 115.3h0.7M190.8 125.2h0.7M236.0 97.8h0.7M214.7 113.8h0.7M208.9 115.6h0.7M223.5 103.6h0.7M201.0 120.1h0.7M199.0 119.5h0.7M215.7 111.9h0.7M206.0 116.0h0.7M234.1 102.3h0.7M220.5 107.4h0.7M231.3 104.2h0.7M197.2 120.8h0.7M239.6 105.5h0.7M238.2 110.0h0.7M229.3 111.1h0.7M204.2 117.6h0.7M229.4 104.3h0.7M231.1 105.5h0.7M234.6 99.4h0.7M208.7 116.0h0.7M202.3 120.9h0.7M199.8 123.2h0.7M236.8 100.4h0.7M234.2 102.7h0.7M229.9 104.9h0.7M197.2 123.0h0.7M210.4 114.0h0.7M233.9 100.1h0.7M230.8 103.7h0.7M220.0 108.8h0.7M207.0 118.6h0.7M219.4 108.8h0.7M202.3 120.0h0.7M212.4 112.4h0.7M189.9 123.2h0.7M205.6 120.4h0.7M216.5 110.6h0.7M199.5 122.1h0.7M211.0 113.9h0.7M200.6 119.3h0.7M204.8 118.7h0.7M219.9 106.3h0.7M227.2 104.9h0.7M226.3 108.7h0.7M229.2 108.1h0.7M208.2 119.0h0.7M220.2 116.4h0.7M233.3 102.6h0.7M219.9 105.9h0.7M235.7 102.5h0.7M238.6 99.5h0.7M228.6 101.2h0.7M219.2 107.5h0.7M233.6 100.5h0.7M238.2 106.2h0.7M233.3 98.7h0.7M214.4 109.8h0.7M235.1 99.2h0.7M202.9 119.0h0.7M225.0 105.3h0.7M209.1 116.1h0.7M229.7 105.0h0.7M237.4 100.2h0.7M220.3 105.8h0.7M207.0 121.1h0.7M212.5 112.3h0.7M220.4 110.3h0.7M230.4 100.5h0.7M220.1 110.8h0.7M237.7 106.1h0.7M201.4 119.1h0.7M216.0 115.2h0.7M229.9 111.3h0.7M235.9 99.1h0.7M203.5 119.8h0.7M234.0 110.2h0.7M205.0 117.7h0.7M225.7 106.4h0.7M234.6 103.4h0.7M214.9 110.5h0.7M215.7 114.1h0.7M202.3 119.0h0.7M208.7 121.0h0.7M237.1 108.3h0.7M203.3 121.1h0.7M234.6 98.8h0.7M193.3 122.5h0.7M237.3 101.7h0.7M202.8 119.5h0.7M214.6 111.5h0.7M220.3 108.9h0.7M219.4 108.4h0.7M234.9 109.9h0.7M201.0 123.7h0.7M220.2 107.8h0.7M222.1 104.7h0.7M236.1 105.7h0.7M235.6 97.4h0.7M214.5 122.5h0.7M218.8 107.8h0.7M234.8 99.6h0.7M238.0 97.7h0.7M232.9 114.5h0.7M224.7 106.7h0.7M204.2 119.7h0.7M200.4 122.8h0.7M227.1 103.5h0.7M219.5 106.8h0.7M191.8 123.1h0.7M211.4 117.5h0.7M221.1 113.7h0.7M204.6 118.3h0.7M211.4 119.1h0.7M210.5 117.1h0.7M225.9 103.6h0.7M222.1 104.6h0.7M233.6 102.8h0.7M237.3 96.5h0.7M230.9 105.5h0.7M233.4 100.1h0.7M209.9 119.4h0.7M215.6 111.7h0.7M220.4 108.1h0.7M202.2 118.3h0.7M219.9 109.0h0.7M215.5 116.0h0.7M236.6 101.2h0.7M230.5 105.2h0.7M238.8 110.6h0.7M224.4 109.8h0.7M185.5 118.2h0.7M224.7 106.8h0.7M239.0 98.8h0.7M238.8 103.4h0.7M218.4 111.7h0.7M216.6 107.8h0.7M225.1 105.1h0.7M222.7 110.7h0.7M234.6 99.7h0.7M230.0 107.4h0.7M228.3 101.4h0.7M236.3 102.6h0.7M208.5 116.2h0.7M232.9 100.0h0.7M211.0 113.9h0.7M200.3 119.9h0.7M222.6 111.6h0.7M226.3 104.2h0.7M217.9 114.1h0.7M213.0 118.9h0.7M237.1 104.4h0.7M209.9 114.9h0.7M220.3 112.8h0.7M206.5 117.1h0.7M224.9 120.9h0.7M222.1 109.0h0.7M207.4 116.9h0.7M221.9 104.7h0.7M210.1 115.7h0.7M212.5 113.9h0.7M234.1 103.1h0.7M230.2 102.3h0.7M197.3 122.9h0.7M237.7 104.5h0.7M235.0 106.4h0.7M190.9 121.9h0.7M211.6 113.2h0.7M233.6 100.5h0.7M238.1 97.5h0.7M230.6 100.7h0.7M203.2 118.7h0.7M229.9 106.4h0.7M222.9 103.6h0.7M217.6 112.6h0.7M214.0 110.9h0.7M211.8 115.7h0.7M215.8 110.8h0.7M222.6 107.8h0.7M230.4 102.6h0.7M237.1 106.1h0.7M235.3 100.4h0.7M193.0 121.9h0.7M237.8 96.1h0.7M222.4 110.3h0.7M211.8 111.5h0.7M208.4 115.5h0.7M190.5 125.6h0.7M218.0 110.9h0.7M233.8 109.3h0.7M200.2 119.2h0.7M202.2 120.5h0.7M226.0 102.5h0.7M225.2 107.0h0.7M209.7 116.0h0.7M219.5 106.9h0.7M195.6 120.9h0.7M206.6 117.1h0.7M221.3 115.2h0.7M198.1 121.2h0.7M217.6 107.0h0.7M237.4 95.2h0.7M225.4 102.8h0.7M203.3 120.0h0.7M224.1 105.1h0.7M216.6 114.3h0.7M207.2 118.0h0.7M218.5 110.9h0.7M209.2 114.7h0.7M219.0 109.7h0.7M222.9 108.1h0.7M238.0 100.3h0.7M235.2 100.8h0.7M235.5 102.6h0.7M214.7 111.7h0.7M237.7 97.4h0.7M237.3 95.0h0.7M215.8 109.4h0.7M232.0 100.1h0.7M228.1 105.9h0.7M228.0 101.4h0.7M232.1 98.8h0.7M213.7 114.7h0.7M234.6 108.7h0.7M197.3 121.3h0.7M213.2 115.7h0.7M236.1 96.8h0.7M208.6 117.7h0.7M225.2 110.3h0.7M195.9 121.7h0.7M221.3 109.1h0.7M230.1 100.5h0.7M197.1 122.9h0.7M217.1 111.5h0.7M238.3 103.6h0.7M216.3 109.6h0.7M226.1 102.2h0.7M236.7 96.9h0.7M216.5 113.3h0.7M218.2 107.0h0.7M199.4 119.9h0.7M229.8 99.7h0.7M230.5 105.0h0.7M237.3 95.7h0.7M205.3 118.4h0.7M231.8 110.2h0.7M233.0 112.0h0.7M217.8 108.4h0.7M221.4 106.6h0.7M214.6 113.9h0.7M222.8 106.9h0.7M202.4 118.6h0.7M228.0 102.6h0.7M219.6 106.4h0.7M229.4 107.4h0.7M238.6 100.4h0.7M222.6 108.8h0.7M201.8 120.4h0.7M221.1 115.2h0.7M221.7 113.0h0.7M217.2 116.1h0.7M209.6 114.6h0.7M199.1 122.8h0.7M223.8 106.3h0.7M235.9 100.2h0.7M234.8 99.3h0.7M239.3 95.4h0.7M222.8 107.9h0.7M215.2 113.1h0.7M231.2 102.3h0.7M227.8 109.2h0.7M193.4 123.1h0.7M235.3 117.6h0.7M233.8 102.3h0.7M230.8 110.9h0.7M227.7 101.7h0.7M236.5 102.6h0.7M236.8 103.6h0.7M232.4 99.9h0.7M233.2 101.8h0.7M191.0 123.1h0.7M232.6 97.9h0.7M190.4 123.9h0.7M216.4 110.5h0.7M235.6 96.6h0.7M214.4 111.6h0.7M230.0 103.8h0.7M222.7 110.4h0.7M218.6 113.3h0.7M200.7 123.0h0.7M225.6 107.2h0.7M227.6 106.5h0.7M227.3 101.5h0.7M223.9 104.4h0.7M233.2 100.2h0.7M211.2 114.2h0.7M236.8 96.0h0.7M222.4 104.4h0.7M227.4 108.2h0.7M234.6 100.0h0.7M237.9 95.4h0.7M208.8 115.3h0.7M237.0 106.5h0.7M210.1 115.3h0.7M237.0 97.5h0.7M221.7 107.4h0.7M211.2 113.3h0.7M237.5 100.4h0.7M211.6 112.4h0.7M226.0 102.3h0.7M237.3 99.7h0.7M203.9 122.3h0.7M227.5 102.4h0.7M214.4 117.8h0.7M215.3 116.3h0.7M227.5 101.9h0.7M216.9 109.4h0.7M195.9 120.5h0.7M203.5 120.9h0.7M236.9 98.2h0.7M219.6 109.2h0.7M229.0 100.9h0.7M227.3 107.7h0.7M210.0 119.6h0.7M225.9 102.0h0.7M206.9 120.4h0.7M232.0 108.8h0.7M219.4 111.9h0.7M202.0 118.2h0.7M238.7 95.9h0.7M230.2 101.9h0.7M237.5 101.7h0.7M223.1 104.6h0.7M212.1 116.4h0.7M237.3 97.4h0.7M225.2 103.4h0.7M218.0 116.2h0.7M230.3 110.7h0.7M235.5 99.6h0.7M230.2 106.3h0.7M218.9 111.2h0.7M237.4 102.0h0.7M217.0 109.7h0.7M209.3 123.3h0.7M192.8 122.3h0.7M223.9 106.2h0.7M218.4 114.2h0.7M238.1 97.8h0.7M211.7 112.0h0.7M238.1 95.9h0.7M227.3 104.0h0.7M235.3 98.0h0.7M206.1 115.6h0.7M229.6 100.6h0.7M203.0 120.2h0.7M207.3 115.4h0.7M232.1 108.2h0.7M199.3 120.3h0.7M225.9 106.3h0.7M227.8 100.6h0.7M200.1 122.5h0.7M236.5 103.4h0.7M233.1 108.1h0.7M233.0 107.1h0.7M228.6 100.8h0.7M223.9 105.6h0.7M237.7 97.5h0.7M221.2 106.2h0.7M233.8 101.4h0.7M236.0 99.2h0.7M219.3 110.3h0.7M196.1 123.2h0.7M230.8 102.1h0.7M236.0 98.9h0.7M234.6 97.3h0.7M214.9 109.4h0.7M237.3 103.5h0.7M208.9 115.6h0.7M222.4 106.5h0.7M226.0 106.5h0.7M205.5 118.3h0.7M215.4 109.4h0.7M238.3 97.3h0.7M232.3 101.5h0.7M231.2 104.7h0.7M233.9 99.2h0.7M224.3 105.9h0.7M231.4 113.1h0.7M216.0 111.6h0.7M235.8 107.3h0.7M204.9 117.5h0.7M225.7 106.6h0.7M223.2 111.6h0.7M220.7 106.9h0.7M235.5 98.7h0.7M219.5 106.9h0.7M217.6 110.7h0.7M237.3 100.1h0.7M235.0 97.0h0.7M235.6 98.9h0.7M236.8 101.6h0.7M210.5 117.6h0.7M193.5 124.5h0.7M215.3 113.7h0.7M235.3 100.2h0.7M234.6 108.7h0.7M228.8 102.2h0.7M203.4 118.5h0.7M218.9 114.6h0.7M231.8 105.5h0.7M233.1 105.1h0.7M230.0 111.5h0.7M192.2 122.4h0.7M228.1 100.7h0.7M205.5 119.9h0.7M201.1 121.0h0.7M204.4 127.1h0.7M222.4 107.7h0.7M191.1 121.9h0.7M231.8 106.8h0.7M199.6 122.3h0.7M231.5 107.5h0.7M229.1 102.3h0.7M215.7 115.5h0.7M211.2 115.8h0.7M209.7 114.4h0.7M236.7 97.5h0.7M224.6 103.9h0.7M220.3 105.5h0.7M238.2 101.9h0.7M235.6 103.8h0.7M237.7 101.8h0.7M235.4 113.9h0.7M203.8 117.0h0.7M228.0 100.4h0.7M220.0 108.2h0.7M222.7 105.2h0.7M200.4 119.1h0.7M228.6 107.0h0.7M221.8 105.3h0.7M238.9 105.0h0.7M196.6 120.6h0.7M234.0 103.5h0.7M232.2 99.2h0.7M218.1 113.2h0.7M213.9 110.9h0.7M239.3 101.4h0.7M231.9 108.2h0.7M205.5 116.5h0.7M211.0 116.2h0.7M218.3 106.7h0.7M213.2 114.7h0.7M200.7 118.8h0.7M225.4 104.3h0.7M229.2 100.8h0.7M210.9 119.9h0.7M228.5 105.6h0.7M239.0 98.0h0.7M217.0 108.9h0.7M234.4 104.3h0.7M237.7 100.3h0.7M232.6 102.4h0.7M235.8 99.0h0.7M230.8 99.8h0.7M230.9 105.3h0.7M219.9 108.7h0.7M220.4 109.7h0.7M232.4 104.5h0.7M236.7 96.0h0.7M234.0 99.8h0.7M190.1 122.1h0.7M219.5 113.7h0.7M231.7 104.0h0.7M235.8 101.7h0.7M209.2 118.8h0.7M220.3 112.4h0.7M220.5 117.6h0.7M202.0 118.5h0.7M223.5 104.4h0.7M210.6 117.8h0.7M201.3 120.2h0.7M234.7 100.9h0.7M229.8 109.9h0.7M213.4 113.1h0.7M226.7 109.5h0.7M228.4 101.3h0.7M228.3 107.1h0.7M203.6 121.5h0.7M205.5 117.3h0.7M216.3 114.0h0.7M233.5 97.8h0.7M221.1 105.4h0.7M201.6 121.1h0.7M190.9 121.5h0.7M218.9 111.6h0.7M211.0 121.1h0.7M220.3 106.5h0.7M219.8 107.8h0.7M214.4 112.4h0.7M228.9 104.3h0.7M229.3 100.5h0.7M221.9 111.0h0.7M216.0 109.4h0.7M204.3 117.5h0.7M220.9 107.0h0.7M218.0 107.5h0.7M229.4 108.1h0.7M210.2 116.9h0.7M202.5 121.1h0.7M208.7 117.2h0.7M194.9 124.9h0.7M220.5 108.6h0.7M232.3 99.1h0.7M201.4 119.0h0.7M206.3 119.4h0.7M231.1 100.8h0.7M232.6 103.1h0.7M230.6 102.9h0.7" stroke="#8c8c8c" stroke-width="0.7" fill="none"/>
<path d="M189.1 99.9h0.7M224.8 68.0h0.7M198.0 95.7h0.7M213.8 79.6h0.7M174.9 111.6h0.7M235.1 66.3h0.7M232.7 66.8h0.7M177.1 109.4h0.7M236.1 63.5h0.7M188.0 100.5h0.7M198.8 94.8h0.7M217.7 78.1h0.7M235.7 64.0h0.7M230.9 68.8h0.7M172.6 115.0h0.7M213.3 81.6h0.7M214.7 80.3h0.7M211.0 82.2h0.7M226.5 70.1h0.7M189.9 100.1h0.7M227.0 72.6h0.7M174.9 110.0h0.7M187.8 100.6h0.7M185.3 103.1h0.7M202.2 93.4h0.7M221.9 73.8h0.7M210.7 83.1h0.7M229.0 69.9h0.7M199.7 92.5h0.7M225.8 73.4h0.7M223.3 74.5h0.7M201.9 91.6h0.7M202.3 92.4h0.7M237.4 64.5h0.7M219.0 76.8h0.7M236.0 64.0h0.7M226.7 71.3h0.7M230.6 69.4h0.7M206.3 88.0h0.7M209.5 85.1h0.7M206.7 87.7h0.7M238.5 63.7h0.7M191.5 98.4h0.7M236.3 64.3h0.7M207.7 87.3h0.7M208.4 86.8h0.7M209.5 83.2h0.7M205.3 89.3h0.7M210.1 84.0h0.7M178.1 106.6h0.7M184.0 105.3h0.7M224.8 73.5h0.7M219.8 76.0h0.7M176.7 110.2h0.7M199.9 93.2h0.7M195.1 96.6h0.7M180.6 106.4h0.7M213.2 80.3h0.7M206.9 85.2h0.7M179.2 107.2h0.7M216.2 78.5h0.7M229.1 71.6h0.7M186.5 103.3h0.7M198.4 93.4h0.7M219.7 75.9h0.7M211.7 82.3h0.7M213.0 82.5h0.7M210.2 84.5h0.7M233.1 67.9h0.7M218.1 77.7h0.7M218.6 75.9h0.7M209.1 85.0h0.7M211.5 81.2h0.7M233.5 68.1h0.7M192.8 97.5h0.7M235.7 64.4h0.7M181.8 104.1h0.7M217.5 76.8h0.7M177.2 109.4h0.7M221.1 74.7h0.7M219.6 75.9h0.7M233.0 68.0h0.7M236.3 65.3h0.7M209.7 85.2h0.7M221.3 74.9h0.7M234.3 64.3h0.7M218.6 76.1h0.7M201.4 92.0h0.7M201.4 92.9h0.7M199.7 93.6h0.7M235.5 65.5h0.7M207.3 86.8h0.7M235.7 65.5h0.7M231.8 66.2h0.7M222.7 72.7h0.7M172.7 113.6h0.7M232.7 68.1h0.7M234.7 65.1h0.7M172.6 112.4h0.7M220.0 75.2h0.7M205.5 89.3h0.7M217.6 78.4h0.7M217.3 75.7h0.7M218.7 75.6h0.7M200.5 92.7h0.7M181.5 105.4h0.7M228.4 71.2h0.7M233.6 67.2h0.7M192.3 97.8h0.7M193.7 97.2h0.7M204.8 87.7h0.7M206.0 87.3h0.7M232.3 68.4h0.7M193.6 98.2h0.7M207.7 85.9h0.7M220.4 73.8h0.7M213.7 81.2h0.7M201.9 92.2h0.7M228.3 72.0h0.7M187.9 101.3h0.7M192.2 98.5h0.7M206.1 87.1h0.7M227.4 71.4h0.7M196.4 95.8h0.7M186.0 103.1h0.7M235.8 66.1h0.7M187.4 100.4h0.7M218.1 76.9h0.7M199.5 94.0h0.7M218.5 75.2h0.7M220.7 74.9h0.7M181.2 106.6h0.7M204.6 90.1h0.7M202.5 92.3h0.7M191.7 98.8h0.7M173.8 112.7h0.7M173.5 110.8h0.7M217.9 77.5h0.7M182.7 104.6h0.7M200.3 93.1h0.7M236.8 65.0h0.7M232.2 68.7h0.7M234.2 66.5h0.7M190.8 99.5h0.7M200.7 93.0h0.7M195.4 95.4h0.7M211.7 82.7h0.7M214.8 79.2h0.7M207.4 87.8h0.7M225.6 71.4h0.7M220.0 73.7h0.7M221.4 75.0h0.7M189.0 100.1h0.7M225.4 73.0h0.7M220.9 74.9h0.7M199.0 92.9h0.7M204.9 89.1h0.7M238.0 63.2h0.7M202.8 91.0h0.7M203.0 92.2h0.7M217.7 77.5h0.7M219.0 75.6h0.7M174.6 110.9h0.7M216.1 79.4h0.7M227.4 71.1h0.7M235.6 64.2h0.7M223.5 74.4h0.7M186.2 102.4h0.7M196.2 95.7h0.7M207.9 84.9h0.7M219.6 76.2h0.7M184.8 103.8h0.7M206.0 86.9h0.7M200.8 92.9h0.7M236.4 65.3h0.7M237.0 64.2h0.7M226.3 71.3h0.7M213.2 80.3h0.7M190.2 98.5h0.7M235.4 65.1h0.7M235.2 67.2h0.7M232.7 68.6h0.7M179.4 106.1h0.7M227.9 72.4h0.7M183.8 103.9h0.7M233.9 65.8h0.7M216.7 77.9h0.7M237.7 64.7h0.7M207.9 86.7h0.7M219.1 76.8h0.7M227.2 72.0h0.7M197.0 94.5h0.7M221.3 76.1h0.7M229.7 70.0h0.7M214.7 80.1h0.7M208.4 86.6h0.7M214.1 80.6h0.7M234.8 64.6h0.7M238.5 62.1h0.7M222.0 75.0h0.7M227.2 70.2h0.7M238.4 64.7h0.7M188.4 100.6h0.7M176.4 109.9h0.7M226.4 72.2h0.7M219.4 77.0h0.7M184.7 103.7h0.7M213.8 80.9h0.7M213.1 81.8h0.7M198.1 94.0h0.7M196.2 93.5h0.7M191.2 97.5h0.7M218.6 78.0h0.7M189.5 100.6h0.7M223.9 74.2h0.7M231.6 69.4h0.7M222.4 72.8h0.7M198.0 95.2h0.7M206.1 88.5h0.7M213.4 82.0h0.7M203.1 91.5h0.7M215.0 80.2h0.7M222.5 74.5h0.7M199.6 93.7h0.7M193.4 95.0h0.7M227.8 67.8h0.7M227.1 70.2h0.7M178.3 107.8h0.7M220.4 75.5h0.7M187.2 101.7h0.7M215.1 79.4h0.7M199.4 92.9h0.7M230.4 68.8h0.7M185.1 102.4h0.7M232.9 66.7h0.7M202.9 91.9h0.7M187.6 100.7h0.7M209.5 84.9h0.7M183.3 105.4h0.7M225.2 72.1h0.7M205.0 90.8h0.7M201.8 91.7h0.7M185.3 102.6h0.7M191.3 97.6h0.7M212.9 81.0h0.7M186.0 102.9h0.7M211.5 81.9h0.7M235.5 65.1h0.7M206.8 86.9h0.7M190.5 98.6h0.7M229.4 68.9h0.7M220.7 74.7h0.7M218.6 76.6h0.7M186.2 101.6h0.7M203.6 89.6h0.7M210.9 82.6h0.7M205.1 86.5h0.7M195.7 96.1h0.7M194.6 96.2h0.7M188.1 101.3h0.7M224.3 72.3h0.7M187.5 100.8h0.7M200.8 93.3h0.7M205.9 86.3h0.7M177.7 108.8h0.7M189.2 99.4h0.7M190.7 97.1h0.7M226.3 71.6h0.7M195.5 96.0h0.7M226.1 71.5h0.7M202.4 91.7h0.7M221.7 71.7h0.7M220.6 75.5h0.7M195.8 95.0h0.7M207.6 85.8h0.7M221.7 74.4h0.7M217.8 78.2h0.7M219.4 75.5h0.7M178.6 108.0h0.7M233.3 66.7h0.7M234.2 66.6h0.7M190.9 99.3h0.7M205.2 88.0h0.7M234.4 67.8h0.7M209.4 85.0h0.7M209.1 86.5h0.7M223.6 74.5h0.7M190.3 99.8h0.7M231.8 67.9h0.7M174.7 111.4h0.7M182.4 106.0h0.7M204.5 89.7h0.7M196.2 94.8h0.7M213.1 81.9h0.7M188.2 99.4h0.7M220.3 75.1h0.7M214.9 79.4h0.7M229.7 70.2h0.7M197.6 94.9h0.7M191.1 99.1h0.7M215.4 79.3h0.7M196.4 95.0h0.7M210.3 84.8h0.7M185.9 101.9h0.7M217.7 78.1h0.7M230.7 65.8h0.7M234.9 67.3h0.7M235.9 65.9h0.7M217.4 78.4h0.7M213.1 79.0h0.7M226.8 69.7h0.7M221.6 73.7h0.7M189.4 99.9h0.7M208.3 85.7h0.7M189.1 99.9h0.7M217.0 79.8h0.7M213.7 81.7h0.7M209.6 84.4h0.7M238.0 65.0h0.7M233.3 65.7h0.7M189.7 100.0h0.7M219.7 77.0h0.7M211.3 82.6h0.7M229.5 67.1h0.7M234.4 66.4h0.7M229.8 70.5h0.7M176.6 109.4h0.7M232.9 68.2h0.7M190.0 100.0h0.7M202.3 91.6h0.7M205.2 88.6h0.7M229.3 69.2h0.7M192.2 98.3h0.7M190.9 98.8h0.7M237.1 61.8h0.7M178.7 108.6h0.7M200.5 93.1h0.7M207.5 87.2h0.7M194.8 96.3h0.7M197.5 94.1h0.7M184.7 103.1h0.7M229.7 71.1h0.7M195.8 94.9h0.7M220.1 75.8h0.7M204.0 90.9h0.7M172.8 113.2h0.7M196.7 95.8h0.7M229.7 68.7h0.7M207.3 86.6h0.7M183.4 105.0h0.7M237.3 65.0h0.7M220.8 75.1h0.7M220.6 74.8h0.7M234.8 66.5h0.7M235.0 65.3h0.7M232.2 68.4h0.7M205.9 87.1h0.7M198.9 93.7h0.7M210.6 82.7h0.7M226.2 71.7h0.7M212.7 82.1h0.7M205.4 87.4h0.7M218.2 78.3h0.7M220.9 75.5h0.7M236.3 64.1h0.7M219.2 77.4h0.7M205.4 87.7h0.7M235.4 63.3h0.7M226.1 72.7h0.7M208.0 86.2h0.7M210.5 84.9h0.7M236.9 62.3h0.7M236.3 63.6h0.7M173.6 112.9h0.7M230.5 68.4h0.7M204.0 90.6h0.7M206.2 88.2h0.7M200.0 93.8h0.7M218.7 77.3h0.7M190.9 98.5h0.7M193.2 96.8h0.7M194.3 97.5h0.7M216.2 78.8h0.7M184.6 103.0h0.7M201.0 92.6h0.7M228.9 71.3h0.7M212.0 82.7h0.7M237.1 64.4h0.7M224.4 73.2h0.7M186.1 103.2h0.7M209.2 84.2h0.7M213.6 81.6h0.7M232.7 67.7h0.7M234.3 65.9h0.7M179.5 105.4h0.7M234.2 67.7h0.7M222.7 73.6h0.7M217.2 77.4h0.7M234.4 65.6h0.7M206.5 88.3h0.7M221.7 75.6h0.7M228.5 69.9h0.7M230.0 70.2h0.7M215.7 79.6h0.7M215.0 78.7h0.7M231.4 69.0h0.7M192.7 96.7h0.7M223.6 73.6h0.7M229.1 71.3h0.7M185.7 102.1h0.7M231.2 69.1h0.7M186.5 101.8h0.7M179.2 106.1h0.7M210.8 83.4h0.7M234.7 64.9h0.7M235.4 64.0h0.7M217.8 77.8h0.7M230.1 69.8h0.7M195.7 95.2h0.7M219.5 74.5h0.7M189.8 99.5h0.7M197.1 95.5h0.7M234.5 66.5h0.7M233.5 67.7h0.7M225.0 73.0h0.7M210.9 83.1h0.7M231.9 66.8h0.7M189.7 99.7h0.7M212.4 80.7h0.7M218.1 77.0h0.7M177.8 108.1h0.7M229.5 69.7h0.7M198.7 94.8h0.7M233.8 64.5h0.7M234.9 66.6h0.7M227.9 68.4h0.7M230.4 70.5h0.7M200.7 93.6h0.7M189.7 99.1h0.7M204.1 90.6h0.7M206.5 88.5h0.7M234.3 64.6h0.7M229.4 69.7h0.7M229.8 69.6h0.7M222.9 73.6h0.7M228.8 71.2h0.7M209.8 83.8h0.7M234.5 66.8h0.7M236.3 64.0h0.7M208.0 86.4h0.7M233.4 64.9h0.7M224.3 71.9h0.7M219.7 76.6h0.7M213.8 81.3h0.7M235.2 64.9h0.7M204.7 89.0h0.7M187.5 101.5h0.7M180.9 106.9h0.7M229.8 70.7h0.7M214.5 80.5h0.7M195.6 95.4h0.7M203.1 91.2h0.7M219.8 74.8h0.7M225.9 72.6h0.7M183.3 104.8h0.7M219.2 75.9h0.7M217.6 78.0h0.7M228.3 71.3h0.7M195.1 96.0h0.7M190.3 99.8h0.7M225.7 72.5h0.7M205.6 88.9h0.7M186.3 101.9h0.7M208.1 83.7h0.7M228.0 71.3h0.7M202.5 89.9h0.7M192.7 96.6h0.7M226.8 71.8h0.7M182.3 106.7h0.7M184.5 103.4h0.7M176.8 110.0h0.7M228.3 71.5h0.7M204.4 91.2h0.7M194.1 96.9h0.7M172.1 114.6h0.7M197.5 92.8h0.7M188.2 101.2h0.7M232.1 68.5h0.7M184.8 103.3h0.7M226.6 72.6h0.7M213.2 81.7h0.7M178.6 108.6h0.7M192.9 97.3h0.7M202.7 91.1h0.7M204.8 89.2h0.7M200.1 93.3h0.7M220.3 75.5h0.7M183.5 104.5h0.7M182.4 104.3h0.7M215.0 79.7h0.7M200.8 93.5h0.7M221.8 75.5h0.7M199.0 93.2h0.7M221.6 74.7h0.7M233.0 64.0h0.7M203.3 91.6h0.7M197.8 95.0h0.7M225.2 71.7h0.7M188.0 101.3h0.7M213.4 81.1h0.7M235.2 67.0h0.7M200.7 94.0h0.7M226.0 72.7h0.7M207.0 86.6h0.7M231.1 68.8h0.7M225.2 71.0h0.7M176.5 109.6h0.7M232.9 67.2h0.7M190.5 98.9h0.7M231.9 68.4h0.7M205.5 87.8h0.7M179.0 105.8h0.7M232.7 68.3h0.7M219.9 76.5h0.7M199.7 94.4h0.7M232.1 67.2h0.7M197.6 95.7h0.7M202.2 91.4h0.7M215.6 78.4h0.7M218.4 77.0h0.7M210.6 83.2h0.7M228.2 69.9h0.7M214.8 80.9h0.7M223.1 75.5h0.7M181.9 105.1h0.7M234.1 67.6h0.7M183.1 105.1h0.7M223.0 73.7h0.7M219.1 77.3h0.7M196.8 94.7h0.7M237.5 62.8h0.7M231.3 68.3h0.7M211.0 83.5h0.7M237.6 62.7h0.7M206.9 85.9h0.7M207.9 86.2h0.7M223.3 74.0h0.7M198.6 94.7h0.7M208.8 84.4h0.7M221.9 73.3h0.7M197.1 96.3h0.7M208.2 85.6h0.7M183.9 103.1h0.7M235.2 65.3h0.7M218.5 76.3h0.7M188.7 101.4h0.7M216.1 80.3h0.7M181.8 105.1h0.7M210.0 83.7h0.7M229.5 68.2h0.7M220.3 75.6h0.7M207.0 86.7h0.7M221.5 76.3h0.7M235.4 67.0h0.7M195.4 96.6h0.7M233.3 67.3h0.7M197.6 95.4h0.7M219.2 77.2h0.7M189.5 101.1h0.7M212.1 82.5h0.7M236.1 64.3h0.7M208.8 83.6h0.7M224.8 73.0h0.7M211.4 83.2h0.7M179.5 107.2h0.7M211.4 83.7h0.7M197.8 95.5h0.7M236.7 64.0h0.7M227.5 71.4h0.7M232.4 67.7h0.7M215.8 77.7h0.7M236.8 63.2h0.7M234.2 65.3h0.7M209.6 84.8h0.7M217.7 77.3h0.7M199.0 94.2h0.7M208.7 86.2h0.7M178.8 107.1h0.7M224.7 73.3h0.7M203.2 92.2h0.7M208.7 84.8h0.7M207.7 88.8h0.7M231.9 68.3h0.7M198.5 93.8h0.7M217.7 77.7h0.7M194.5 97.3h0.7M200.1 93.5h0.7M225.6 73.1h0.7M213.7 80.6h0.7M207.1 87.5h0.7M197.9 93.2h0.7M181.1 105.6h0.7M177.1 109.0h0.7M229.4 70.5h0.7M222.5 74.3h0.7M226.3 72.0h0.7M219.3 77.3h0.7M179.4 106.9h0.7M222.1 74.7h0.7M188.6 100.5h0.7M236.9 63.8h0.7M236.0 64.9h0.7M236.9 62.6h0.7M208.0 86.5h0.7M219.4 76.1h0.7M182.8 104.1h0.7M232.6 68.0h0.7M224.0 70.8h0.7M201.6 92.4h0.7M213.3 81.2h0.7M192.3 98.0h0.7M219.6 76.3h0.7M237.1 63.6h0.7M197.8 95.1h0.7M180.1 107.4h0.7M184.0 104.6h0.7M211.9 83.0h0.7M232.3 67.4h0.7M179.8 107.6h0.7M212.5 82.9h0.7M208.8 87.1h0.7M222.2 75.2h0.7M218.8 77.4h0.7M218.1 78.2h0.7M212.6 81.4h0.7M213.2 81.7h0.7M183.7 103.8h0.7M210.2 83.9h0.7M197.7 95.4h0.7M205.3 88.8h0.7M217.0 79.0h0.7M228.1 71.6h0.7M223.3 74.9h0.7M196.2 96.4h0.7M231.4 67.1h0.7M215.0 80.6h0.7M189.0 99.5h0.7M220.5 76.7h0.7M233.0 67.3h0.7M218.0 77.3h0.7M230.1 68.3h0.7M232.1 67.7h0.7M231.6 69.5h0.7M183.3 104.2h0.7M204.5 91.4h0.7M193.7 97.9h0.7M237.1 63.4h0.7M222.0 73.8h0.7M233.6 66.4h0.7M215.4 80.1h0.7M198.2 95.3h0.7M184.7 102.5h0.7M208.9 83.1h0.7M219.0 76.4h0.7M223.2 74.8h0.7M237.2 64.8h0.7M185.4 103.7h0.7M207.4 85.3h0.7M234.6 67.0h0.7M213.3 81.7h0.7M222.0 74.2h0.7M231.4 70.0h0.7M212.9 81.1h0.7M229.8 66.4h0.7M193.7 96.5h0.7M224.2 73.8h0.7M202.7 91.4h0.7M228.2 71.5h0.7M203.4 89.8h0.7M223.4 74.7h0.7M229.7 70.3h0.7M229.8 68.1h0.7M197.0 96.0h0.7M238.3 64.4h0.7M171.8 113.2h0.7M206.4 87.4h0.7M202.9 92.0h0.7M236.4 64.8h0.7M215.4 78.0h0.7M225.4 71.8h0.7M204.0 90.3h0.7M191.6 95.8h0.7M176.2 109.4h0.7M186.9 101.4h0.7M202.7 91.5h0.7M225.2 73.2h0.7M209.6 83.4h0.7M224.1 72.7h0.7M217.2 78.9h0.7M202.7 92.0h0.7M229.7 98.4h0.7M219.3 106.1h0.7M228.1 100.2h0.7M237.0 95.3h0.7M212.6 111.8h0.7M194.9 119.4h0.7M213.4 111.6h0.7M222.3 105.5h0.7M235.7 97.1h0.7M214.3 110.9h0.7M215.9 109.1h0.7M230.9 98.0h0.7M218.0 106.6h0.7M228.5 101.2h0.7M231.0 98.7h0.7M190.0 120.3h0.7M221.2 104.2h0.7M226.8 101.9h0.7M222.3 104.1h0.7M210.8 111.8h0.7M193.1 121.6h0.7M232.2 100.0h0.7M192.0 121.9h0.7M197.9 120.1h0.7M226.6 101.1h0.7M231.3 99.5h0.7M229.0 99.4h0.7M237.8 96.9h0.7M218.2 106.7h0.7M222.6 103.0h0.7M234.3 98.1h0.7M189.1 119.0h0.7M187.0 117.6h0.7M211.3 112.4h0.7M202.0 117.1h0.7M203.9 117.4h0.7M217.6 108.0h0.7M230.1 99.4h0.7M192.6 120.3h0.7M217.8 105.6h0.7M223.1 104.3h0.7M235.8 95.3h0.7M222.2 103.0h0.7M220.5 103.3h0.7M210.6 111.8h0.7M221.7 105.4h0.7M235.9 98.0h0.7M224.7 103.4h0.7M222.4 103.3h0.7M224.8 102.9h0.7M207.0 115.6h0.7M211.8 111.5h0.7M200.3 119.4h0.7M208.1 114.2h0.7M208.9 115.5h0.7M224.0 102.6h0.7M185.0 114.7h0.7M227.6 103.6h0.7M229.9 100.9h0.7M235.4 96.7h0.7M186.2 115.1h0.7M186.4 117.0h0.7M215.3 109.8h0.7M225.0 101.3h0.7M228.7 99.1h0.7M222.3 105.6h0.7M235.5 98.3h0.7M231.5 101.7h0.7M229.2 101.4h0.7M232.3 96.7h0.7M233.7 96.1h0.7M231.5 103.4h0.7M201.9 119.2h0.7M235.7 95.7h0.7M231.8 97.0h0.7M215.9 110.1h0.7M237.6 95.1h0.7M202.8 117.7h0.7M223.5 102.6h0.7M199.2 118.7h0.7M220.6 104.6h0.7M202.5 118.2h0.7M234.7 97.6h0.7M231.6 100.0h0.7M222.9 103.4h0.7M237.0 99.0h0.7M208.3 113.8h0.7M227.1 103.1h0.7M206.8 115.9h0.7M230.1 99.2h0.7M237.4 95.2h0.7M231.8 99.9h0.7M217.0 108.9h0.7M200.3 117.8h0.7M215.9 108.0h0.7M221.7 104.1h0.7M199.5 118.9h0.7M204.9 115.4h0.7M233.4 96.9h0.7M186.9 116.3h0.7M217.6 107.6h0.7M228.8 100.8h0.7M205.0 115.1h0.7M230.5 100.0h0.7M213.5 109.5h0.7M191.3 121.7h0.7M235.1 96.8h0.7M215.5 107.7h0.7M215.7 108.3h0.7M185.2 115.4h0.7M235.6 94.4h0.7M235.2 97.0h0.7M212.3 112.2h0.7M211.5 111.3h0.7M215.0 108.5h0.7M194.9 122.2h0.7M199.4 118.4h0.7M196.9 120.3h0.7M190.8 121.5h0.7M206.3 114.2h0.7M229.7 100.6h0.7M225.9 103.7h0.7M234.6 95.8h0.7M204.6 116.7h0.7M208.4 113.3h0.7M219.1 105.5h0.7M202.9 118.8h0.7M197.2 119.9h0.7M206.0 114.8h0.7M233.1 96.5h0.7M223.2 105.3h0.7M213.6 112.3h0.7M197.9 119.3h0.7M216.7 108.9h0.7M211.6 114.7h0.7M188.4 118.3h0.7M224.2 105.4h0.7M207.2 113.9h0.7M192.6 120.0h0.7M211.9 110.6h0.7M213.5 110.6h0.7M237.6 93.6h0.7M228.2 101.2h0.7M226.6 101.8h0.7M193.5 120.2h0.7M187.8 117.4h0.7M223.5 103.9h0.7M236.1 94.2h0.7M219.2 106.1h0.7M206.4 115.7h0.7M206.1 114.7h0.7M201.0 118.5h0.7M238.0 93.3h0.7M207.7 114.0h0.7M228.6 104.0h0.7M208.2 114.3h0.7M235.9 95.3h0.7M215.2 109.9h0.7M229.8 99.3h0.7M228.9 99.2h0.7M234.0 95.9h0.7M233.7 96.3h0.7M224.1 101.8h0.7M229.3 99.5h0.7M207.3 116.2h0.7M212.8 112.2h0.7M238.5 94.4h0.7M226.7 100.3h0.7M205.5 115.4h0.7M216.4 107.8h0.7M201.6 117.5h0.7M232.9 97.5h0.7M206.8 114.6h0.7M187.0 116.9h0.7M221.0 103.6h0.7M213.5 112.1h0.7M228.3 99.8h0.7M236.7 99.7h0.7M220.5 105.4h0.7M218.0 106.1h0.7M195.9 120.5h0.7M228.4 102.2h0.7M238.0 93.5h0.7M218.0 106.0h0.7M233.7 97.0h0.7M231.2 97.5h0.7M207.0 113.2h0.7M219.1 109.1h0.7M214.2 110.8h0.7M199.1 118.4h0.7M204.7 115.8h0.7M225.6 101.9h0.7M235.6 100.4h0.7M212.8 113.5h0.7M229.4 100.6h0.7M211.2 111.7h0.7M237.4 93.9h0.7M213.0 110.9h0.7M198.5 118.8h0.7M237.3 94.7h0.7M194.3 121.1h0.7M206.4 114.2h0.7M202.0 117.0h0.7M234.3 99.2h0.7M207.5 116.7h0.7M185.1 115.5h0.7M183.7 115.1h0.7M214.8 109.1h0.7M222.2 104.7h0.7M214.4 109.0h0.7M216.1 107.9h0.7M237.1 96.0h0.7M216.8 111.7h0.7M231.7 100.0h0.7M224.5 103.2h0.7M213.5 111.9h0.7M238.1 96.0h0.7M223.6 102.4h0.7M219.9 105.5h0.7M234.1 97.5h0.7M236.2 94.5h0.7M187.3 117.0h0.7M218.6 105.5h0.7M216.9 106.9h0.7M217.9 106.1h0.7M227.1 101.7h0.7M222.8 103.7h0.7M225.2 102.0h0.7M182.8 114.4h0.7M220.9 103.9h0.7M200.5 119.1h0.7M205.1 115.3h0.7M197.0 119.7h0.7M220.4 104.6h0.7M206.8 116.4h0.7M219.3 105.8h0.7M220.6 106.4h0.7M228.0 102.9h0.7M193.3 120.7h0.7M195.1 120.0h0.7M230.6 98.6h0.7M205.8 115.2h0.7M219.2 106.6h0.7M224.6 104.5h0.7M203.8 116.8h0.7M232.5 99.1h0.7M220.7 105.8h0.7M222.3 103.6h0.7M217.1 107.7h0.7M204.1 116.7h0.7M183.7 114.0h0.7M201.0 118.6h0.7M231.3 98.1h0.7M223.8 102.7h0.7M216.4 109.9h0.7M202.9 116.0h0.7M218.7 107.9h0.7M203.5 117.3h0.7M202.8 116.7h0.7M221.4 105.7h0.7M236.6 95.3h0.7M224.4 102.2h0.7M233.6 95.6h0.7M217.3 108.6h0.7M232.5 98.6h0.7M218.0 106.9h0.7M200.5 117.4h0.7M231.2 98.0h0.7M221.0 104.6h0.7M221.4 105.3h0.7M208.4 113.7h0.7M205.4 116.0h0.7M202.7 116.7h0.7M233.9 98.8h0.7M235.1 94.9h0.7M204.8 116.5h0.7M230.5 101.6h0.7M219.8 106.1h0.7M227.4 103.4h0.7M233.8 95.9h0.7M236.6 100.8h0.7M221.2 103.5h0.7M195.2 119.4h0.7M225.0 104.1h0.7M208.5 113.3h0.7M193.7 120.7h0.7M227.4 99.8h0.7M186.6 117.7h0.7M203.5 116.5h0.7M237.4 98.1h0.7M236.4 95.7h0.7M218.8 110.0h0.7M192.1 120.5h0.7M219.1 105.9h0.7M205.3 115.2h0.7M238.4 93.4h0.7M216.4 108.7h0.7M203.9 116.6h0.7M208.8 113.7h0.7M202.7 118.3h0.7M225.9 103.2h0.7M233.7 96.0h0.7M230.8 100.4h0.7M232.9 97.4h0.7M206.0 116.9h0.7M231.9 100.7h0.7M182.2 113.6h0.7M223.6 102.3h0.7M203.7 116.2h0.7M211.9 112.4h0.7M234.6 96.2h0.7M224.6 103.3h0.7M235.4 96.4h0.7M230.6 103.6h0.7M227.8 100.9h0.7M228.7 99.6h0.7M234.1 99.5h0.7M211.3 111.4h0.7M199.7 117.7h0.7M235.5 97.4h0.7M223.9 106.5h0.7M203.9 115.6h0.7M224.0 102.7h0.7M197.8 121.3h0.7M208.7 115.7h0.7M237.7 96.6h0.7M215.9 110.4h0.7M183.9 115.0h0.7M204.1 116.1h0.7M220.6 105.1h0.7M190.2 121.1h0.7M228.6 99.5h0.7M221.0 105.1h0.7M194.0 119.7h0.7M228.8 99.2h0.7M238.1 95.6h0.7M235.7 96.6h0.7M206.5 113.8h0.7M201.3 117.9h0.7M229.3 100.6h0.7M234.2 100.2h0.7M218.3 106.6h0.7M232.7 97.8h0.7M230.6 98.3h0.7M213.9 110.0h0.7M219.8 104.0h0.7M220.5 105.1h0.7M219.5 105.6h0.7M237.6 97.1h0.7M228.6 99.3h0.7M228.1 99.8h0.7M214.7 111.9h0.7M199.4 118.3h0.7M227.5 100.1h0.7M231.6 98.4h0.7M214.0 109.7h0.7M187.5 117.9h0.7M214.2 109.0h0.7M225.2 103.6h0.7M216.2 110.5h0.7M191.3 120.1h0.7M187.6 117.1h0.7M199.1 118.1h0.7M187.4 118.1h0.7M223.4 103.9h0.7M211.4 111.1h0.7M224.3 103.6h0.7M212.3 114.2h0.7M212.6 113.4h0.7M228.3 100.7h0.7M230.8 99.2h0.7M230.8 98.8h0.7M233.3 96.4h0.7M193.8 119.8h0.7M228.1 101.5h0.7M219.4 106.9h0.7M212.8 111.2h0.7M216.0 107.7h0.7M202.9 117.2h0.7M203.6 117.1h0.7M184.4 113.7h0.7M230.2 101.0h0.7M208.5 113.8h0.7M229.5 99.8h0.7M230.4 99.0h0.7M211.6 110.6h0.7M236.5 95.8h0.7M200.4 117.8h0.7M234.6 98.9h0.7M234.3 97.0h0.7M213.0 112.0h0.7M215.2 110.8h0.7M199.0 119.0h0.7M203.7 117.5h0.7M219.7 104.7h0.7M236.2 95.4h0.7M185.6 114.6h0.7M179.9 114.6h0.7M197.3 119.7h0.7M223.1 103.6h0.7M188.7 118.8h0.7M227.9 99.4h0.7M210.7 112.6h0.7M189.2 119.9h0.7M230.8 99.7h0.7M225.1 102.1h0.7M230.6 102.4h0.7M219.4 105.0h0.7M213.0 111.3h0.7M207.5 113.6h0.7M216.7 109.8h0.7M226.4 101.8h0.7M216.3 110.0h0.7M224.2 102.7h0.7M204.7 117.4h0.7M194.7 119.9h0.7M199.2 118.8h0.7M223.0 102.9h0.7M212.8 111.2h0.7M233.5 102.8h0.7M238.7 94.7h0.7M220.7 103.7h0.7M229.8 98.8h0.7M194.0 120.9h0.7M183.9 113.9h0.7M209.7 112.7h0.7M229.7 99.9h0.7M217.4 109.5h0.7M231.5 99.5h0.7M219.2 105.5h0.7M226.3 100.5h0.7M210.4 112.2h0.7M235.3 95.0h0.7M224.2 105.8h0.7M181.3 113.7h0.7M210.2 112.2h0.7M203.2 116.9h0.7M234.0 97.4h0.7M208.4 115.5h0.7M233.2 98.8h0.7M226.9 101.0h0.7M197.2 118.7h0.7M232.8 97.8h0.7M233.5 95.9h0.7M238.0 93.9h0.7M212.3 111.3h0.7M188.1 117.2h0.7M228.5 101.1h0.7M207.0 114.9h0.7M235.8 96.9h0.7M234.1 97.0h0.7M224.6 102.7h0.7M204.7 117.1h0.7M231.5 98.2h0.7M191.0 120.3h0.7M193.7 120.3h0.7M238.2 93.6h0.7M235.9 95.9h0.7M204.3 117.2h0.7M209.6 113.2h0.7M216.4 108.4h0.7M192.5 119.7h0.7M236.5 95.0h0.7M231.4 98.5h0.7M192.1 120.0h0.7M235.9 97.8h0.7M186.4 115.0h0.7M210.7 113.3h0.7M228.8 101.0h0.7M228.9 100.2h0.7M226.1 104.6h0.7M233.0 98.3h0.7M232.5 98.7h0.7M209.1 113.2h0.7M209.6 112.6h0.7M230.6 99.3h0.7M214.6 110.1h0.7M231.0 99.1h0.7M206.6 115.3h0.7M193.9 120.0h0.7M234.2 96.8h0.7M206.9 116.0h0.7M237.8 93.7h0.7M226.3 102.5h0.7M233.8 97.1h0.7M216.2 107.8h0.7M202.8 116.0h0.7M235.1 95.5h0.7M237.8 95.1h0.7M226.6 100.9h0.7M196.9 119.7h0.7M196.0 120.3h0.7M233.0 96.7h0.7M205.3 116.5h0.7M201.7 117.7h0.7M205.9 114.7h0.7M225.5 102.8h0.7M231.3 99.7h0.7M214.3 108.6h0.7M219.0 105.8h0.7M214.8 112.1h0.7M207.5 115.0h0.7M219.1 107.5h0.7M230.1 99.9h0.7M207.0 114.0h0.7M197.2 118.5h0.7M236.8 96.6h0.7M221.3 104.6h0.7M197.7 120.8h0.7M199.9 120.3h0.7M200.4 118.6h0.7M181.8 114.1h0.7M217.4 107.2h0.7M204.3 116.0h0.7M212.0 111.4h0.7M224.5 101.3h0.7M202.8 116.4h0.7M220.5 104.1h0.7M222.6 106.1h0.7M232.8 99.6h0.7M231.3 97.4h0.7M182.6 114.4h0.7M225.4 102.9h0.7M215.9 108.1h0.7M233.5 96.1h0.7M236.7 97.6h0.7M205.9 115.3h0.7M208.9 114.1h0.7M236.0 99.7h0.7M210.7 112.1h0.7M220.6 106.8h0.7M229.9 101.5h0.7M196.1 119.5h0.7M201.2 117.1h0.7M213.3 110.8h0.7M227.8 100.4h0.7M201.8 116.6h0.7M229.7 99.0h0.7M224.6 102.3h0.7M234.2 96.3h0.7M212.8 109.7h0.7M203.4 117.1h0.7M213.7 109.8h0.7M190.1 120.6h0.7M206.4 115.3h0.7M228.7 101.8h0.7M181.4 113.4h0.7M201.5 117.1h0.7M201.7 117.4h0.7M222.5 108.8h0.7M209.0 113.1h0.7M228.4 100.6h0.7M194.8 119.8h0.7M236.0 95.2h0.7M203.2 117.6h0.7M234.5 96.9h0.7M209.7 114.9h0.7M216.0 108.4h0.7M229.4 100.5h0.7M195.3 119.6h0.7M224.2 103.6h0.7M229.8 99.1h0.7M209.4 114.9h0.7M226.4 101.8h0.7M203.0 116.5h0.7M211.5 112.7h0.7M237.8 93.5h0.7M222.6 106.2h0.7M231.2 98.4h0.7M228.2 102.2h0.7M204.4 116.7h0.7M221.5 105.3h0.7M180.9 113.7h0.7M193.7 119.9h0.7M213.4 111.7h0.7M220.8 110.3h0.7M225.8 100.9h0.7M186.5 116.3h0.7M223.0 103.8h0.7M189.6 119.1h0.7M214.6 109.7h0.7M226.1 106.0h0.7M227.9 101.6h0.7M224.7 102.4h0.7M237.0 97.0h0.7M214.6 108.6h0.7M184.8 115.7h0.7M233.1 96.3h0.7M229.8 98.9h0.7M228.9 99.4h0.7M233.7 96.9h0.7M228.0 100.9h0.7M233.1 96.0h0.7M198.0 119.7h0.7M198.1 118.2h0.7M207.2 115.2h0.7M237.3 96.0h0.7M193.7 119.9h0.7M221.2 105.0h0.7M231.0 98.7h0.7M218.1 108.2h0.7M237.1 95.5h0.7M237.5 94.7h0.7M189.8 119.1h0.7M200.5 119.0h0.7M192.7 120.5h0.7M236.9 94.2h0.7M221.6 104.1h0.7M231.2 97.7h0.7M207.5 116.0h0.7M189.9 120.6h0.7M230.1 99.2h0.7M231.7 96.9h0.7M200.5 118.5h0.7M222.6 102.9h0.7M191.5 120.4h0.7M222.8 107.4h0.7M196.5 118.7h0.7M212.7 111.8h0.7M233.7 98.5h0.7M236.4 97.2h0.7M231.7 99.4h0.7M227.0 101.6h0.7M199.5 118.1h0.7M233.3 100.1h0.7M228.9 100.4h0.7M180.6 113.4h0.7M181.8 113.7h0.7M230.2 98.7h0.7M228.6 99.5h0.7M210.0 114.5h0.7M226.9 102.4h0.7M211.1 111.7h0.7M223.6 104.9h0.7M205.7 114.8h0.7M202.6 117.3h0.7M219.4 106.3h0.7M186.6 116.2h0.7M231.8 97.7h0.7M228.2 101.0h0.7M202.3 116.9h0.7M237.3 97.0h0.7M182.8 114.2h0.7M228.4 101.8h0.7M203.3 116.9h0.7M212.6 111.4h0.7M229.7 99.9h0.7M232.8 99.7h0.7M208.0 114.8h0.7M229.4 99.8h0.7M191.1 120.5h0.7M197.2 120.1h0.7M215.0 108.4h0.7M230.3 99.9h0.7M194.4 121.1h0.7M213.3 111.5h0.7M214.7 109.7h0.7M209.3 113.5h0.7M229.1 100.9h0.7M212.5 110.5h0.7M234.3 98.4h0.7M197.5 119.0h0.7M230.0 98.0h0.7M193.2 120.0h0.7M180.3 113.7h0.7M205.0 116.0h0.7M197.1 118.9h0.7M180.4 113.9h0.7M186.6 116.9h0.7M190.8 120.1h0.7M184.5 114.5h0.7M195.1 119.6h0.7M234.5 98.3h0.7M210.9 111.6h0.7M200.2 119.4h0.7M233.8 96.9h0.7M199.8 118.7h0.7M210.9 112.5h0.7M189.1 119.5h0.7M231.5 99.3h0.7M200.0 120.6h0.7M217.7 110.7h0.7M183.5 113.8h0.7M192.1 120.6h0.7M202.1 117.0h0.7M229.4 102.5h0.7M211.4 111.7h0.7M216.1 106.9h0.7M227.4 100.7h0.7M212.8 110.6h0.7M238.5 93.4h0.7M215.0 110.2h0.7M235.4 99.4h0.7M231.8 99.5h0.7M235.5 97.1h0.7M221.0 105.1h0.7M221.5 107.4h0.7M199.3 118.4h0.7M236.0 95.3h0.7M231.5 100.3h0.7M194.8 119.6h0.7M236.1 94.3h0.7M214.4 109.9h0.7M232.4 98.5h0.7M215.2 108.3h0.7M229.8 101.3h0.7M214.5 109.4h0.7M233.0 97.6h0.7M234.2 99.4h0.7M202.6 117.3h0.7M192.8 120.1h0.7M189.7 121.1h0.7M179.2 113.5h0.7M237.2 94.0h0.7M197.3 118.7h0.7M192.1 120.4h0.7M224.4 101.9h0.7M199.5 120.3h0.7M227.2 100.4h0.7M213.2 110.9h0.7M182.7 113.5h0.7M232.7 98.6h0.7M206.3 114.8h0.7M204.2 115.7h0.7M219.1 109.4h0.7M221.9 105.6h0.7M227.1 100.2h0.7M219.2 106.3h0.7M231.2 97.9h0.7M211.3 112.0h0.7M228.2 99.4h0.7M220.6 103.4h0.7M226.2 105.1h0.7M236.8 95.3h0.7M231.7 101.4h0.7M232.2 98.7h0.7M215.0 108.4h0.7M212.9 111.7h0.7M211.9 112.6h0.7M213.7 109.7h0.7M222.0 103.8h0.7M207.8 114.2h0.7M213.7 112.3h0.7M210.7 112.4h0.7M234.6 98.0h0.7M205.4 115.4h0.7M230.2 98.5h0.7M229.3 100.1h0.7M220.8 103.3h0.7M197.5 118.7h0.7M234.6 95.5h0.7M209.9 114.5h0.7M227.4 99.6h0.7M197.6 118.8h0.7M193.9 120.7h0.7M189.1 117.7h0.7M180.5 113.9h0.7M224.8 103.1h0.7M208.7 114.2h0.7M208.9 113.8h0.7M221.3 103.4h0.7M235.5 97.0h0.7M208.0 114.6h0.7M232.4 97.3h0.7M185.5 115.5h0.7M230.3 98.5h0.7M216.0 110.3h0.7M224.1 103.5h0.7M218.4 106.7h0.7M204.3 116.1h0.7M190.9 120.4h0.7M234.6 98.5h0.7M218.4 106.0h0.7M230.9 97.9h0.7M214.9 109.4h0.7M233.2 99.3h0.7M211.9 112.3h0.7M210.1 113.5h0.7M229.5 102.2h0.7M216.5 108.0h0.7M230.8 97.6h0.7M197.7 118.9h0.7M215.6 108.2h0.7M194.8 119.8h0.7M226.1 102.2h0.7M232.1 98.4h0.7M218.5 105.4h0.7M222.2 103.6h0.7M232.1 99.8h0.7M189.6 119.5h0.7M225.3 102.3h0.7M222.5 108.0h0.7M234.1 98.7h0.7M226.3 101.0h0.7M237.0 93.9h0.7M185.0 115.2h0.7M218.5 106.7h0.7M225.5 101.5h0.7M207.1 115.6h0.7M231.8 97.8h0.7M197.8 118.7h0.7M210.2 113.8h0.7M209.4 114.8h0.7M206.4 114.2h0.7M231.3 101.7h0.7M207.6 113.7h0.7M212.0 111.9h0.7M204.2 117.6h0.7M230.0 99.8h0.7M236.9 94.5h0.7M234.5 95.5h0.7M211.5 111.1h0.7M226.8 101.3h0.7M228.9 101.2h0.7M225.1 103.6h0.7M222.3 102.9h0.7M235.2 96.0h0.7M217.0 108.8h0.7M230.1 102.8h0.7M218.8 106.4h0.7M218.7 105.0h0.7M208.2 114.8h0.7M212.5 112.8h0.7M232.6 98.9h0.7M221.5 106.2h0.7M230.0 103.8h0.7M212.8 111.2h0.7M237.4 93.7h0.7M226.5 104.3h0.7M226.1 104.6h0.7M195.3 119.8h0.7M198.8 119.0h0.7M193.7 120.3h0.7M198.2 118.3h0.7M196.0 119.9h0.7M224.6 102.5h0.7M234.5 95.3h0.7M217.5 107.3h0.7M201.4 117.2h0.7M227.4 103.3h0.7M230.2 101.2h0.7M199.7 117.6h0.7M193.5 120.0h0.7M191.7 120.1h0.7M191.3 121.1h0.7M220.7 103.7h0.7M223.8 107.0h0.7M220.3 107.6h0.7M201.6 118.0h0.7M213.3 109.8h0.7M203.6 116.0h0.7M231.8 97.5h0.7M237.1 95.1h0.7M209.0 114.2h0.7M209.1 113.9h0.7M207.2 115.0h0.7M212.6 111.4h0.7M224.8 101.6h0.7M217.0 110.2h0.7M221.8 102.7h0.7M221.5 104.9h0.7M227.5 100.2h0.7M189.9 120.8h0.7M225.9 101.5h0.7M227.0 100.9h0.7M231.9 101.2h0.7M223.7 104.2h0.7M219.3 107.2h0.7M201.8 117.3h0.7M178.6 114.2h0.7M224.8 104.6h0.7M206.9 114.0h0.7M232.7 96.4h0.7M214.4 110.4h0.7M232.3 97.8h0.7M226.8 100.4h0.7M224.8 104.6h0.7M200.3 118.2h0.7M227.5 100.3h0.7M224.3 103.6h0.7M196.4 119.2h0.7M237.0 95.3h0.7M225.1 104.0h0.7M207.6 114.7h0.7M186.4 115.7h0.7M185.0 115.0h0.7M197.0 118.4h0.7M208.1 114.0h0.7M200.8 118.5h0.7M192.3 120.6h0.7M192.9 120.4h0.7M208.7 113.7h0.7M227.3 102.0h0.7M215.0 109.8h0.7M230.8 102.2h0.7M228.2 99.2h0.7M195.9 120.6h0.7M233.3 100.8h0.7M184.7 114.8h0.7M216.1 107.7h0.7" stroke="#555" stroke-width="0.7" fill="none"/>
<path d="M186.5 130.4h0.7M183.1 124.1h0.7M193.0 136.8h0.7M176.9 128.9h0.7M170.3 135.6h0.7M172.0 136.1h0.7M176.1 135.9h0.7M197.8 116.0h0.7M202.1 116.8h0.7M177.2 131.5h0.7M188.3 125.1h0.7M177.9 134.7h0.7M185.3 124.4h0.7M189.8 126.2h0.7M182.2 137.3h0.7M195.0 130.6h0.7M180.0 138.3h0.7M179.7 136.8h0.7M189.9 123.1h0.7M194.5 122.1h0.7M201.2 115.8h0.7M176.1 132.3h0.7M198.6 136.4h0.7M197.2 118.4h0.7M184.5 135.0h0.7M198.1 117.8h0.7M183.2 124.1h0.7M175.3 134.3h0.7M179.4 129.8h0.7M173.1 133.0h0.7M168.4 137.1h0.7M201.5 123.8h0.7M183.6 128.1h0.7M175.8 129.7h0.7M195.7 134.1h0.7M187.5 122.7h0.7M190.0 130.6h0.7M187.8 131.3h0.7M167.5 136.8h0.7M202.5 135.7h0.7M199.3 119.7h0.7M199.0 121.2h0.7M194.5 133.5h0.7M172.4 132.2h0.7M186.9 137.8h0.7M189.6 132.9h0.7M191.1 130.4h0.7M169.6 138.7h0.7M172.5 132.8h0.7M180.8 130.7h0.7M193.0 132.6h0.7M194.5 130.6h0.7M183.5 139.0h0.7M176.5 138.3h0.7M185.7 126.5h0.7M178.1 133.7h0.7M179.5 131.8h0.7M172.4 132.5h0.7M177.9 134.0h0.7M181.0 132.0h0.7M178.8 128.8h0.7M169.5 136.2h0.7M169.2 135.6h0.7M176.3 129.1h0.7M202.8 125.5h0.7M194.4 127.4h0.7M198.8 114.9h0.7M171.2 138.8h0.7M199.7 114.6h0.7M182.9 136.0h0.7M185.2 124.0h0.7M198.1 120.3h0.7M198.6 133.1h0.7M195.0 139.1h0.7M172.3 137.9h0.7M174.1 132.5h0.7M194.0 123.1h0.7M196.2 121.5h0.7M172.3 138.5h0.7M188.4 136.1h0.7M175.2 130.6h0.7M185.2 127.9h0.7M174.9 129.9h0.7M186.1 122.1h0.7M199.5 113.3h0.7M179.5 129.8h0.7M173.2 134.2h0.7M178.3 127.4h0.7M183.2 135.6h0.7M172.8 138.4h0.7M198.3 123.5h0.7M177.5 133.7h0.7M196.5 116.4h0.7M173.6 136.8h0.7M187.7 127.0h0.7M170.6 135.8h0.7M174.9 136.9h0.7M195.0 126.1h0.7M179.5 128.6h0.7M198.3 125.8h0.7M195.9 116.2h0.7M187.7 128.9h0.7M182.0 137.3h0.7M188.5 137.4h0.7M197.5 129.6h0.7M194.6 120.0h0.7M176.2 132.8h0.7M180.8 127.2h0.7M194.7 130.6h0.7M174.6 136.1h0.7M193.8 116.9h0.7M202.7 121.5h0.7M202.3 116.0h0.7M181.0 130.9h0.7M195.1 118.1h0.7M180.5 132.8h0.7M191.4 120.2h0.7M177.0 132.7h0.7M172.7 136.9h0.7M202.4 127.0h0.7M186.4 127.4h0.7M180.5 138.4h0.7M173.7 130.8h0.7M180.4 128.9h0.7M195.1 116.2h0.7M198.2 115.9h0.7M202.9 125.1h0.7M170.9 135.4h0.7M201.3 112.1h0.7M193.8 119.1h0.7M178.9 127.3h0.7M177.3 129.2h0.7M174.4 138.8h0.7M181.4 139.3h0.7M184.2 125.0h0.7M201.9 121.0h0.7M198.9 124.2h0.7M183.3 129.4h0.7M171.8 136.2h0.7M173.5 138.4h0.7M190.4 124.3h0.7M168.2 136.7h0.7M174.5 137.9h0.7M179.5 135.0h0.7M185.1 123.2h0.7M186.4 127.4h0.7M197.2 114.1h0.7M171.6 138.3h0.7M187.9 121.3h0.7M185.9 128.4h0.7M182.9 136.7h0.7M170.7 139.0h0.7M178.2 135.0h0.7M194.9 139.2h0.7M168.4 138.7h0.7M170.6 137.4h0.7M198.7 115.1h0.7M197.8 118.9h0.7M172.0 134.0h0.7M176.1 133.3h0.7M181.9 136.5h0.7M201.8 127.7h0.7M168.4 138.6h0.7M169.8 136.1h0.7M174.1 137.0h0.7M184.0 138.7h0.7M176.7 129.7h0.7M167.2 137.2h0.7M167.6 135.8h0.7M190.4 128.7h0.7" stroke="#a0a0a0" stroke-width="0.7" fill="none"/>
<path d="M152.2 143.5h9l8 .6h-17z" fill="#555" filter="url(#b1)"/>
<path d="M154.7 140.8L160.2 132.3L165.2 124.3L170.2 117.3L174.2 111.8L176.7 113.8L172.2 118.8L166.7 125.8L161.2 133.8L155.7 141.8z" fill="#4a4a4a" filter="url(#b1)"/>
<polygon points="170.7,117.3 173.2,112.1 176.8,109.3 184.1,103.9 191.3,98.5 202.2,92.2 211.2,83.1 220.2,75.9 229.3,70.5 236.5,65.0 239.2,63.3 239.2,93.3 236.5,94.9 229.3,99.4 220.2,104.8 211.2,112.1 202.2,117.5 196.2,119.8 190.4,121.1 187.2,117.3 184.1,114.3 175.0,113.8 170.7,118.8" fill="#444" filter="url(#rough)"/>
<polygon points="181.2,107.7 186.7,104.9 192.1,102.6 197.6,99.8 203.0,96.5 208.5,91.4 213.9,86.7 219.4,82.3 224.8,78.9 230.3,75.6 235.7,71.5 241.2,69.3 241.2,87.3 235.7,89.4 230.3,93.0 224.8,96.3 219.4,99.7 213.9,104.1 208.5,108.2 203.0,111.9 197.6,114.4 192.1,116.2 186.7,113.8 181.2,112.5" fill="#787878" filter="url(#b2)"/>
<polygon points="200.2,99.8 203.9,97.2 207.7,93.8 211.4,90.5 215.1,87.5 218.8,84.5 222.6,82.0 226.3,79.8 230.0,77.5 233.7,74.8 237.5,72.2 241.2,71.1 241.2,84.9 237.5,85.9 233.7,88.4 230.0,90.8 226.3,93.1 222.6,95.3 218.8,97.8 215.1,100.8 211.4,103.8 207.7,106.5 203.9,109.2 200.2,111.3" fill="#adadad" filter="url(#b2)"/>
<g transform="rotate(-20 195.8 108.4)" filter="url(#b1)">
<ellipse cx="198.8" cy="108.4" rx="16" ry="6.8" fill="#868686"/>
<ellipse cx="195.8" cy="108.4" rx="11" ry="4.6" fill="#b4b4b4"/>
<ellipse cx="194.8" cy="108.4" rx="5.5" ry="1.9" fill="#666"/>
<ellipse cx="194.8" cy="108.4" rx="2.3" ry="0.7" fill="#333"/>
</g>
</g>
<rect x="152.0" y="133.0" width="12.6" height="4.4" fill="#fff" fill-opacity="0.45" stroke="#222" stroke-width="0.65" transform="rotate(-50 158.3 135.2)"/>
<rect x="151.2" y="59.3" width="86.3" height="85.4" fill="none" stroke="#8a8a8a" stroke-width="0.8"/>
<text x="146.6" y="147.1" font-size="6.1" font-weight="bold" stroke="#222" stroke-width="0.2" text-anchor="end" fill="#222">0</text>
<text x="151.7" y="153.6" font-size="6.1" font-weight="bold" stroke="#222" stroke-width="0.2" text-anchor="middle" fill="#222">0</text>
<text x="146.6" y="130.8" font-size="6.1" font-weight="bold" stroke="#222" stroke-width="0.2" text-anchor="end" fill="#222">200</text>
<text x="168.4" y="153.6" font-size="6.1" font-weight="bold" stroke="#222" stroke-width="0.2" text-anchor="middle" fill="#222">200</text>
<text x="146.6" y="114.5" font-size="6.1" font-weight="bold" stroke="#222" stroke-width="0.2" text-anchor="end" fill="#222">400</text>
<text x="185.0" y="153.6" font-size="6.1" font-weight="bold" stroke="#222" stroke-width="0.2" text-anchor="middle" fill="#222">400</text>
<text x="146.6" y="98.2" font-size="6.1" font-weight="bold" stroke="#222" stroke-width="0.2" text-anchor="end" fill="#222">600</text>
<text x="201.7" y="153.6" font-size="6.1" font-weight="bold" stroke="#222" stroke-width="0.2" text-anchor="middle" fill="#222">600</text>
<text x="146.6" y="81.9" font-size="6.1" font-weight="bold" stroke="#222" stroke-width="0.2" text-anchor="end" fill="#222">800</text>
<text x="218.3" y="153.6" font-size="6.1" font-weight="bold" stroke="#222" stroke-width="0.2" text-anchor="middle" fill="#222">800</text>
<text x="146.6" y="65.6" font-size="6.1" font-weight="bold" stroke="#222" stroke-width="0.2" text-anchor="end" fill="#222">1000</text>
<text x="234.2" y="153.6" font-size="6.1" font-weight="bold" stroke="#222" stroke-width="0.2" text-anchor="middle" fill="#222">1000</text>
<text x="47.3" y="55.4" font-size="10.4" text-anchor="start" fill="#111" textLength="48" lengthAdjust="spacingAndGlyphs">Cxcl12-WT</text>
<text x="166" y="55.4" font-size="10.4" text-anchor="start" fill="#111" textLength="51.5" lengthAdjust="spacingAndGlyphs">Cxcl12-cKO</text>
<text x="18" y="107.5" font-size="10.2" text-anchor="middle" fill="#111" textLength="55.5" lengthAdjust="spacingAndGlyphs" transform="rotate(-90 18 107.5)">Hoechst Blue</text>
<text x="133.1" y="104.5" font-size="10.2" text-anchor="middle" fill="#111" textLength="55" lengthAdjust="spacingAndGlyphs" transform="rotate(-90 133.1 104.5)">Hoechst Blue</text>
<path d="M13.8 141.6V162H32.6" fill="none" stroke="#000" stroke-width="1.9"/>
<path d="M13.8 136.6l-3.9 8.3h7.8z" fill="#000"/>
<path d="M37.6 162l-9.6 -3.8v7.6z" fill="#000"/>
<path d="M130.4 142.6V162.3H148.6" fill="none" stroke="#000" stroke-width="1.9"/>
<path d="M130.4 137.6l-3.9 8.3h7.8z" fill="#000"/>
<path d="M153.6 162.3l-9.6 -3.8v7.6z" fill="#000"/>
<text x="37.6" y="166" font-size="10.2" text-anchor="start" fill="#111" textLength="54.5" lengthAdjust="spacingAndGlyphs">Hoechst Red</text>
<text x="153.7" y="165.6" font-size="10.2" text-anchor="start" fill="#111" textLength="53.8" lengthAdjust="spacingAndGlyphs">Hoechst Red</text>
<rect x="294.80" y="0.00" width="19.20" height="7.60" fill="#000"/>
<rect x="295.50" y="15.70" width="17.80" height="6.50" fill="#d8d8d8" stroke="#000" stroke-width="1.3"/>
<text x="317" y="8.2" font-size="10.4" text-anchor="start" fill="#111">Cxcl12-WT</text>
<text x="317" y="22.6" font-size="10.4" text-anchor="start" fill="#111">Cxcl12-cKO</text>
<line x1="287.2" y1="27.5" x2="287.2" y2="154.85" stroke="#000" stroke-width="1.6"/>
<line x1="286.4" y1="154.1" x2="477.5" y2="154.1" stroke="#000" stroke-width="1.6"/>
<line x1="282.9" y1="28.3" x2="287.2" y2="28.3" stroke="#000" stroke-width="1.4"/>
<text x="281.3" y="31.5" font-size="8.8" font-weight="bold" stroke="#111" stroke-width="0.25" text-anchor="end" fill="#111">0.075</text>
<line x1="282.9" y1="70.3" x2="287.2" y2="70.3" stroke="#000" stroke-width="1.4"/>
<text x="281.3" y="73.5" font-size="8.8" font-weight="bold" stroke="#111" stroke-width="0.25" text-anchor="end" fill="#111">0.050</text>
<line x1="282.9" y1="112.2" x2="287.2" y2="112.2" stroke="#000" stroke-width="1.4"/>
<text x="281.3" y="115.4" font-size="8.8" font-weight="bold" stroke="#111" stroke-width="0.25" text-anchor="end" fill="#111">0.025</text>
<line x1="282.9" y1="154.1" x2="287.2" y2="154.1" stroke="#000" stroke-width="1.4"/>
<text x="281.3" y="157.3" font-size="8.8" font-weight="bold" stroke="#111" stroke-width="0.25" text-anchor="end" fill="#111">0.000</text>
<line x1="318.7" y1="154.1" x2="318.7" y2="157.9" stroke="#000" stroke-width="1.4"/>
<line x1="381.5" y1="154.1" x2="381.5" y2="157.9" stroke="#000" stroke-width="1.4"/>
<line x1="445" y1="154.1" x2="445" y2="157.9" stroke="#000" stroke-width="1.4"/>
<line x1="307.54999999999995" y1="70" x2="307.54999999999995" y2="53.6" stroke="#000" stroke-width="1.55"/>
<line x1="303.12449999999995" y1="53.6" x2="311.97549999999995" y2="53.6" stroke="#000" stroke-width="1.55"/>
<rect x="299.20" y="70.00" width="16.70" height="84.10" fill="#000"/>
<line x1="330.65" y1="53.0" x2="330.65" y2="36.2" stroke="#000" stroke-width="1.55"/>
<line x1="326.1185" y1="36.2" x2="335.18149999999997" y2="36.2" stroke="#000" stroke-width="1.55"/>
<rect x="322.88" y="53.77" width="15.55" height="100.32" fill="#d8d8d8" stroke="#000" stroke-width="1.55"/>
<line x1="370.2" y1="86.2" x2="370.2" y2="76.5" stroke="#000" stroke-width="1.55"/>
<line x1="365.695" y1="76.5" x2="374.705" y2="76.5" stroke="#000" stroke-width="1.55"/>
<rect x="361.70" y="86.20" width="17.00" height="67.90" fill="#000"/>
<line x1="393.65" y1="75.6" x2="393.65" y2="60.8" stroke="#000" stroke-width="1.55"/>
<line x1="389.2775" y1="60.8" x2="398.0225" y2="60.8" stroke="#000" stroke-width="1.55"/>
<rect x="386.17" y="76.38" width="14.95" height="77.72" fill="#d8d8d8" stroke="#000" stroke-width="1.55"/>
<line x1="432.95000000000005" y1="52.7" x2="432.95000000000005" y2="43.6" stroke="#000" stroke-width="1.55"/>
<line x1="428.52450000000005" y1="43.6" x2="437.37550000000005" y2="43.6" stroke="#000" stroke-width="1.55"/>
<rect x="424.60" y="52.70" width="16.70" height="101.40" fill="#000"/>
<line x1="456.55" y1="115.8" x2="456.55" y2="103.5" stroke="#000" stroke-width="1.55"/>
<line x1="452.0715" y1="103.5" x2="461.0285" y2="103.5" stroke="#000" stroke-width="1.55"/>
<rect x="448.88" y="116.58" width="15.35" height="37.52" fill="#d8d8d8" stroke="#000" stroke-width="1.55"/>
<line x1="433.6" y1="35.7" x2="460" y2="35.7" stroke="#000" stroke-width="1.4"/>
<text x="446.7" y="37.9" font-size="19" text-anchor="middle" fill="#111" stroke="#111" stroke-width="0.35">*</text>
<text x="296" y="165.7" font-size="9" font-weight="bold" stroke="#111" stroke-width="0.25" text-anchor="start" fill="#111" textLength="19">Pre-</text>
<text x="296" y="177.3" font-size="9" font-weight="bold" stroke="#111" stroke-width="0.25" text-anchor="start" fill="#111" textLength="49.4">Tamoxifen</text>
<text x="372.3" y="166.2" font-size="9.2" font-weight="bold" stroke="#111" stroke-width="0.25" text-anchor="start" fill="#111" textLength="20">2 wk</text>
<text x="432.2" y="166.2" font-size="9.2" font-weight="bold" stroke="#111" stroke-width="0.25" text-anchor="start" fill="#111" textLength="25.9">12 wk</text>
<line x1="362" y1="173" x2="472.3" y2="173" stroke="#000" stroke-width="1.4"/>
<text x="376" y="190.3" font-size="12.4" text-anchor="start" fill="#111" textLength="84.8" lengthAdjust="spacingAndGlyphs">Post-Tamoxifen</text>
<text x="254.8" y="90.7" font-size="10.5" font-weight="bold" stroke="#111" stroke-width="0.25" text-anchor="middle" fill="#111" textLength="84" transform="rotate(-90 254.8 90.7)">% SP cells in BM</text>
<text x="4.5" y="200.2" font-size="14.5" font-weight="bold" stroke="#111" stroke-width="0.25" text-anchor="start" fill="#111">B</text>
<text x="126.3" y="197.8" font-size="11.4" text-anchor="start" fill="#111">BM LSK cells</text>
<line x1="31.7" y1="201.9" x2="278.3" y2="201.9" stroke="#000" stroke-width="1.5"/>
<text x="54" y="217.9" font-size="11.6" text-anchor="start" fill="#111" textLength="55.6" lengthAdjust="spacingAndGlyphs">Cxcl12-WT</text>
<text x="197.7" y="218" font-size="11.6" text-anchor="start" fill="#111" textLength="61.3" lengthAdjust="spacingAndGlyphs">Ccxl12-cKO</text>
<path d="M81.7 272.5h0.75M80.6 271.6h0.75M89.9 266.0h0.75M71.3 276.9h0.75M88.3 268.9h0.75M68.4 280.5h0.75M78.0 268.3h0.75M81.4 275.8h0.75M89.9 264.2h0.75M81.8 271.8h0.75M76.8 274.3h0.75M94.3 267.9h0.75M94.2 262.7h0.75M76.0 274.3h0.75M85.4 264.4h0.75M78.0 273.2h0.75M83.6 271.7h0.75M84.5 271.5h0.75M69.4 273.5h0.75M80.8 268.3h0.75M72.7 275.5h0.75M70.9 270.5h0.75M76.9 271.4h0.75M65.0 279.5h0.75M68.3 275.4h0.75M84.1 271.4h0.75M86.1 266.8h0.75M89.3 268.7h0.75M76.5 270.7h0.75M86.0 265.3h0.75M94.0 263.1h0.75M89.4 262.1h0.75M70.4 277.8h0.75M66.0 276.5h0.75M84.4 268.4h0.75M92.5 267.0h0.75M80.0 268.4h0.75M86.8 261.7h0.75M79.4 261.7h0.75M82.7 268.7h0.75M82.8 267.5h0.75M80.8 265.0h0.75M78.7 274.3h0.75M94.4 258.1h0.75M90.4 269.6h0.75M77.7 275.1h0.75M78.9 271.7h0.75M72.9 275.5h0.75M83.8 265.5h0.75M70.5 278.8h0.75M78.4 271.7h0.75M87.5 267.4h0.75M85.4 267.0h0.75M85.0 265.9h0.75M70.2 273.1h0.75M86.9 265.7h0.75M79.4 269.6h0.75M91.8 263.8h0.75M80.5 274.8h0.75M96.9 266.6h0.75M84.0 267.2h0.75M88.7 269.8h0.75M78.7 273.5h0.75M77.4 271.2h0.75M78.2 272.5h0.75M90.1 267.3h0.75M78.3 274.0h0.75M80.0 270.4h0.75M88.9 261.3h0.75M87.2 271.5h0.75M79.1 271.7h0.75M82.2 266.4h0.75M69.1 275.6h0.75M69.3 278.1h0.75M84.5 267.9h0.75M103.1 256.6h0.75M96.3 258.5h0.75M103.5 262.3h0.75M86.6 269.3h0.75M76.3 271.7h0.75M89.2 264.1h0.75M70.9 274.7h0.75M57.0 281.8h0.75M83.4 266.0h0.75M88.9 264.2h0.75M83.8 260.8h0.75M94.5 264.5h0.75M87.7 267.3h0.75M85.5 271.7h0.75M71.6 273.3h0.75M79.6 270.0h0.75M71.5 275.6h0.75M79.3 274.2h0.75M94.3 256.8h0.75M82.2 268.0h0.75M83.1 266.3h0.75M76.8 276.2h0.75M101.9 257.4h0.75M64.1 277.7h0.75M71.4 270.1h0.75M88.0 264.3h0.75M73.6 270.8h0.75M76.3 277.1h0.75M85.4 268.1h0.75M87.0 266.4h0.75M86.7 267.1h0.75M74.3 274.4h0.75M87.5 267.3h0.75M69.5 272.4h0.75M73.9 275.0h0.75M71.9 272.7h0.75M82.9 266.8h0.75M78.5 272.3h0.75M73.0 273.9h0.75M84.0 275.3h0.75" stroke="#3a3a3a" stroke-width="0.75" fill="none"/>
<path d="M111.6 243.5h0.7M72.7 275.7h0.7M58.7 302.9h0.7M91.9 257.3h0.7M72.9 272.8h0.7M85.1 276.5h0.7M74.1 289.3h0.7M102.7 264.0h0.7M86.6 270.3h0.7M109.2 230.8h0.7M76.0 277.1h0.7M66.1 280.6h0.7M89.2 265.9h0.7M106.7 239.8h0.7M127.3 237.6h0.7M68.4 282.1h0.7M58.6 295.0h0.7M74.1 267.2h0.7M106.8 247.4h0.7M97.1 265.1h0.7M111.9 253.4h0.7M84.0 257.6h0.7M73.2 277.4h0.7M92.7 248.8h0.7M107.7 247.9h0.7M96.3 255.0h0.7M55.0 292.1h0.7M75.2 283.4h0.7M79.4 262.2h0.7M74.9 280.2h0.7M58.1 279.0h0.7M108.2 271.8h0.7M57.9 299.9h0.7M83.5 265.0h0.7M53.8 288.1h0.7M67.9 270.8h0.7M122.7 217.4h0.7M123.6 228.8h0.7M82.7 279.3h0.7M61.0 292.3h0.7M126.3 230.6h0.7M130.1 241.0h0.7M72.0 265.9h0.7M58.6 297.4h0.7M59.5 288.1h0.7M118.0 227.0h0.7M57.7 290.6h0.7M81.6 275.5h0.7M70.2 282.7h0.7M66.4 285.3h0.7M60.0 295.1h0.7M56.5 297.8h0.7M62.1 286.3h0.7M95.6 261.0h0.7M76.9 287.6h0.7M101.6 247.0h0.7M81.7 268.0h0.7M103.5 247.4h0.7M67.4 294.8h0.7M69.0 291.3h0.7M122.1 221.8h0.7M122.3 233.1h0.7M94.5 267.6h0.7M129.4 228.5h0.7M121.7 246.4h0.7M121.6 242.7h0.7M87.0 261.5h0.7M61.2 293.6h0.7M96.8 257.3h0.7M131.6 239.2h0.7M82.9 274.6h0.7M94.9 280.9h0.7M63.3 301.2h0.7M74.1 280.2h0.7M60.0 286.1h0.7M50.6 301.8h0.7M50.0 300.4h0.7M46.8 303.5h0.7M65.1 283.9h0.7M52.3 299.8h0.7M51.9 300.3h0.7M52.3 297.0h0.7M56.9 290.9h0.7M46.0 304.2h0.7M44.2 308.1h0.7M61.6 289.8h0.7M61.8 288.1h0.7M46.4 307.9h0.7M59.6 289.8h0.7M48.0 301.2h0.7M50.4 300.7h0.7M65.4 281.0h0.7M59.7 291.3h0.7M63.8 287.3h0.7M47.5 303.4h0.7M54.6 295.1h0.7M46.5 305.2h0.7" stroke="#b0b0b0" stroke-width="0.7" fill="none"/>
<rect x="35.2" y="222" width="100.9" height="98.3" fill="none" stroke="#c4c4c4" stroke-width="0.6" stroke-dasharray="0.8 0.8"/>
<rect x="36.9" y="305.3" width="15.2" height="6.8" rx="1.5" fill="none" stroke="#222" stroke-width="0.7" transform="rotate(-55 44.5 308.7)"/>
<line x1="41.5" y1="308.7" x2="47.5" y2="308.7" stroke="#888" stroke-width="0.5" transform="rotate(-55 44.5 308.7)"/>
<text x="32.2" y="321.6" font-size="4.8" font-weight="bold" text-anchor="end" fill="#444">0</text>
<line x1="33.7" y1="320.0" x2="35.2" y2="320.0" stroke="#999" stroke-width="0.5"/>
<text x="36.1" y="328.5" font-size="4.8" font-weight="bold" text-anchor="middle" fill="#444">0</text>
<line x1="36.1" y1="320.3" x2="36.1" y2="321.8" stroke="#999" stroke-width="0.5"/>
<text x="32.2" y="302.3" font-size="4.8" font-weight="bold" text-anchor="end" fill="#444">200</text>
<line x1="33.7" y1="300.74" x2="35.2" y2="300.74" stroke="#999" stroke-width="0.5"/>
<text x="55.4" y="328.5" font-size="4.8" font-weight="bold" text-anchor="middle" fill="#444">200</text>
<line x1="55.400000000000006" y1="320.3" x2="55.400000000000006" y2="321.8" stroke="#999" stroke-width="0.5"/>
<text x="32.2" y="283.1" font-size="4.8" font-weight="bold" text-anchor="end" fill="#444">400</text>
<line x1="33.7" y1="281.48" x2="35.2" y2="281.48" stroke="#999" stroke-width="0.5"/>
<text x="74.7" y="328.5" font-size="4.8" font-weight="bold" text-anchor="middle" fill="#444">400</text>
<line x1="74.7" y1="320.3" x2="74.7" y2="321.8" stroke="#999" stroke-width="0.5"/>
<text x="32.2" y="263.8" font-size="4.8" font-weight="bold" text-anchor="end" fill="#444">600</text>
<line x1="33.7" y1="262.22" x2="35.2" y2="262.22" stroke="#999" stroke-width="0.5"/>
<text x="94.0" y="328.5" font-size="4.8" font-weight="bold" text-anchor="middle" fill="#444">600</text>
<line x1="94.0" y1="320.3" x2="94.0" y2="321.8" stroke="#999" stroke-width="0.5"/>
<text x="32.2" y="244.6" font-size="4.8" font-weight="bold" text-anchor="end" fill="#444">800</text>
<line x1="33.7" y1="242.96" x2="35.2" y2="242.96" stroke="#999" stroke-width="0.5"/>
<text x="113.3" y="328.5" font-size="4.8" font-weight="bold" text-anchor="middle" fill="#444">800</text>
<line x1="113.30000000000001" y1="320.3" x2="113.30000000000001" y2="321.8" stroke="#999" stroke-width="0.5"/>
<text x="32.2" y="225.3" font-size="4.8" font-weight="bold" text-anchor="end" fill="#444">1000</text>
<line x1="33.7" y1="223.7" x2="35.2" y2="223.7" stroke="#999" stroke-width="0.5"/>
<text x="132.6" y="328.5" font-size="4.8" font-weight="bold" text-anchor="middle" fill="#444">1000</text>
<line x1="132.6" y1="320.3" x2="132.6" y2="321.8" stroke="#999" stroke-width="0.5"/>
<path d="M228.3 265.0h0.75M220.8 275.9h0.75M238.5 263.3h0.75M229.3 269.7h0.75M229.2 274.3h0.75M224.2 273.9h0.75M238.9 267.1h0.75M223.8 275.1h0.75M234.3 263.5h0.75M226.3 269.8h0.75M231.8 269.7h0.75M229.2 269.4h0.75M233.5 262.5h0.75M236.8 266.0h0.75M224.2 274.9h0.75M237.9 262.6h0.75M237.5 267.5h0.75M240.7 267.9h0.75M239.7 257.5h0.75M222.0 278.7h0.75M244.5 260.7h0.75M219.1 274.9h0.75M227.0 272.9h0.75M231.1 262.6h0.75M236.2 259.4h0.75M235.3 265.3h0.75M236.0 271.8h0.75M234.8 265.7h0.75M225.8 278.7h0.75M230.7 267.6h0.75M248.2 256.0h0.75M212.8 279.1h0.75M227.9 266.8h0.75M230.3 269.1h0.75M226.1 275.6h0.75M230.9 271.1h0.75M230.5 265.8h0.75M232.5 276.4h0.75M230.5 269.0h0.75M225.3 277.7h0.75M232.6 260.6h0.75M228.9 276.5h0.75M226.7 280.8h0.75M245.5 258.0h0.75M226.2 269.8h0.75M229.1 274.0h0.75M218.0 278.7h0.75M236.4 272.0h0.75M224.4 275.1h0.75M225.5 270.7h0.75M236.7 266.0h0.75M235.7 267.9h0.75M227.2 274.8h0.75M234.1 264.4h0.75M232.2 262.9h0.75M228.6 266.3h0.75M226.5 277.4h0.75M234.7 267.0h0.75M221.5 278.5h0.75M234.9 268.7h0.75M230.9 268.3h0.75M218.7 267.3h0.75M223.3 273.1h0.75M249.6 258.5h0.75M217.3 279.7h0.75M231.2 267.3h0.75M231.4 275.3h0.75M233.9 265.3h0.75M232.7 265.4h0.75M239.6 267.9h0.75M234.6 261.6h0.75M228.2 262.9h0.75M222.5 277.5h0.75M228.3 268.3h0.75M235.9 268.3h0.75M236.2 269.0h0.75M238.6 262.0h0.75M229.7 269.1h0.75M224.6 278.1h0.75M229.5 276.0h0.75M233.0 267.6h0.75M240.5 269.1h0.75M240.5 268.6h0.75M237.4 266.7h0.75M223.0 276.1h0.75M227.8 270.1h0.75M232.6 261.4h0.75M235.5 271.5h0.75M235.5 261.5h0.75M224.4 278.5h0.75M235.8 266.5h0.75M209.8 278.4h0.75M224.4 264.8h0.75M234.2 273.8h0.75M226.4 266.1h0.75M237.8 265.8h0.75M229.6 269.8h0.75M230.7 267.7h0.75M233.7 261.0h0.75M221.5 266.3h0.75M241.6 261.7h0.75M227.5 273.8h0.75M236.8 268.9h0.75M236.0 274.6h0.75M230.5 275.6h0.75M230.6 265.9h0.75M236.1 272.9h0.75M229.8 274.9h0.75M248.2 261.6h0.75M225.1 275.9h0.75M232.7 272.0h0.75M241.0 267.5h0.75M236.0 269.0h0.75M237.2 260.7h0.75M219.3 274.1h0.75M229.5 270.1h0.75M232.7 271.3h0.75M240.3 263.6h0.75M225.1 272.2h0.75M232.2 272.1h0.75M246.6 264.5h0.75M233.8 267.1h0.75M235.6 269.7h0.75M232.1 271.9h0.75M240.1 264.5h0.75M218.0 277.9h0.75M227.0 275.9h0.75M225.1 267.5h0.75M232.0 268.1h0.75M231.7 270.0h0.75M215.0 276.7h0.75M230.3 265.2h0.75M225.3 273.2h0.75M255.5 264.5h0.75M231.2 274.2h0.75M239.2 265.2h0.75M227.3 271.6h0.75M227.7 266.7h0.75M224.6 271.8h0.75M238.0 266.7h0.75M239.9 261.5h0.75M223.2 276.8h0.75M233.8 264.6h0.75M239.3 270.5h0.75M239.3 259.2h0.75M228.3 272.0h0.75M241.7 260.3h0.75M223.9 274.9h0.75M236.0 271.9h0.75M229.4 271.6h0.75M230.4 270.0h0.75M240.2 263.4h0.75M236.3 266.2h0.75M253.1 255.1h0.75M232.9 270.7h0.75M229.6 276.8h0.75M241.9 264.9h0.75M236.4 271.6h0.75M229.7 271.3h0.75M242.6 263.9h0.75M243.2 262.3h0.75M222.7 276.7h0.75M229.1 268.7h0.75M240.5 262.0h0.75M226.2 270.2h0.75" stroke="#3a3a3a" stroke-width="0.75" fill="none"/>
<path d="M260.1 237.3h0.7M245.0 252.7h0.7M236.0 268.8h0.7M263.1 237.0h0.7M269.9 220.3h0.7M247.8 257.8h0.7M223.8 262.9h0.7M217.3 270.9h0.7M227.5 278.4h0.7M233.5 265.1h0.7M200.6 293.7h0.7M240.2 255.8h0.7M264.9 241.4h0.7M203.8 284.0h0.7M254.2 236.5h0.7M263.8 224.9h0.7M233.1 256.3h0.7M250.3 248.8h0.7M248.2 262.3h0.7M198.7 291.5h0.7M196.7 287.7h0.7M253.0 251.3h0.7M235.0 263.4h0.7M227.9 277.2h0.7M198.6 287.9h0.7M255.0 251.9h0.7M208.5 278.5h0.7M249.3 246.1h0.7M202.1 292.4h0.7M198.7 294.4h0.7M263.4 254.3h0.7M209.5 282.1h0.7M209.3 291.4h0.7M208.9 276.7h0.7M230.5 274.5h0.7M258.5 220.8h0.7M256.0 253.9h0.7M198.0 292.7h0.7M254.5 235.4h0.7M244.1 260.2h0.7M274.1 235.2h0.7M206.2 294.3h0.7M200.7 299.6h0.7M276.8 234.2h0.7M258.0 224.4h0.7M203.2 290.8h0.7M260.9 236.0h0.7M195.7 286.6h0.7M249.8 262.7h0.7M223.1 274.0h0.7M208.3 265.5h0.7M249.6 253.5h0.7M236.2 266.3h0.7M202.5 280.1h0.7M204.2 288.0h0.7M247.6 241.3h0.7M209.5 291.3h0.7M202.3 290.2h0.7M262.1 223.7h0.7M214.2 281.5h0.7M272.1 242.5h0.7M204.9 292.7h0.7M236.4 266.5h0.7M234.1 264.0h0.7M233.2 262.9h0.7M199.7 291.5h0.7M239.9 277.6h0.7M198.3 291.6h0.7M253.5 248.3h0.7M227.2 275.4h0.7M221.1 282.2h0.7M264.9 260.6h0.7M275.2 234.3h0.7M214.4 282.2h0.7M225.0 280.9h0.7M207.4 284.7h0.7M187.8 305.6h0.7M188.9 306.3h0.7M193.7 302.4h0.7M196.8 296.4h0.7M201.3 290.4h0.7M186.4 307.3h0.7M208.5 284.2h0.7M197.3 295.4h0.7M203.5 289.4h0.7M190.1 305.1h0.7M192.2 301.6h0.7M187.1 309.9h0.7M186.4 305.3h0.7M206.6 286.5h0.7M185.4 310.0h0.7M189.6 304.4h0.7M201.4 291.6h0.7M200.1 294.0h0.7M191.2 303.3h0.7M201.4 291.4h0.7M187.7 307.9h0.7" stroke="#b0b0b0" stroke-width="0.7" fill="none"/>
<rect x="178.2" y="222" width="99.6" height="98.2" fill="none" stroke="#c4c4c4" stroke-width="0.6" stroke-dasharray="0.8 0.8"/>
<rect x="179.9" y="305.2" width="15.2" height="6.8" rx="1.5" fill="none" stroke="#222" stroke-width="0.7" transform="rotate(-55 187.5 308.6)"/>
<line x1="184.5" y1="308.6" x2="190.5" y2="308.6" stroke="#888" stroke-width="0.5" transform="rotate(-55 187.5 308.6)"/>
<text x="175.2" y="321.5" font-size="4.8" font-weight="bold" text-anchor="end" fill="#444">0</text>
<line x1="176.7" y1="319.9" x2="178.2" y2="319.9" stroke="#999" stroke-width="0.5"/>
<text x="179.1" y="328.4" font-size="4.8" font-weight="bold" text-anchor="middle" fill="#444">0</text>
<line x1="179.1" y1="320.2" x2="179.1" y2="321.7" stroke="#999" stroke-width="0.5"/>
<text x="175.2" y="302.2" font-size="4.8" font-weight="bold" text-anchor="end" fill="#444">200</text>
<line x1="176.7" y1="300.64" x2="178.2" y2="300.64" stroke="#999" stroke-width="0.5"/>
<text x="198.4" y="328.4" font-size="4.8" font-weight="bold" text-anchor="middle" fill="#444">200</text>
<line x1="198.4" y1="320.2" x2="198.4" y2="321.7" stroke="#999" stroke-width="0.5"/>
<text x="175.2" y="283.0" font-size="4.8" font-weight="bold" text-anchor="end" fill="#444">400</text>
<line x1="176.7" y1="281.38" x2="178.2" y2="281.38" stroke="#999" stroke-width="0.5"/>
<text x="217.7" y="328.4" font-size="4.8" font-weight="bold" text-anchor="middle" fill="#444">400</text>
<line x1="217.7" y1="320.2" x2="217.7" y2="321.7" stroke="#999" stroke-width="0.5"/>
<text x="175.2" y="263.7" font-size="4.8" font-weight="bold" text-anchor="end" fill="#444">600</text>
<line x1="176.7" y1="262.12" x2="178.2" y2="262.12" stroke="#999" stroke-width="0.5"/>
<text x="237.0" y="328.4" font-size="4.8" font-weight="bold" text-anchor="middle" fill="#444">600</text>
<line x1="237.0" y1="320.2" x2="237.0" y2="321.7" stroke="#999" stroke-width="0.5"/>
<text x="175.2" y="244.5" font-size="4.8" font-weight="bold" text-anchor="end" fill="#444">800</text>
<line x1="176.7" y1="242.85999999999999" x2="178.2" y2="242.85999999999999" stroke="#999" stroke-width="0.5"/>
<text x="256.3" y="328.4" font-size="4.8" font-weight="bold" text-anchor="middle" fill="#444">800</text>
<line x1="256.3" y1="320.2" x2="256.3" y2="321.7" stroke="#999" stroke-width="0.5"/>
<text x="175.2" y="225.2" font-size="4.8" font-weight="bold" text-anchor="end" fill="#444">1000</text>
<line x1="176.7" y1="223.59999999999997" x2="178.2" y2="223.59999999999997" stroke="#999" stroke-width="0.5"/>
<text x="275.6" y="328.4" font-size="4.8" font-weight="bold" text-anchor="middle" fill="#444">1000</text>
<line x1="275.6" y1="320.2" x2="275.6" y2="321.7" stroke="#999" stroke-width="0.5"/>
<text x="14.4" y="277.5" font-size="11.2" text-anchor="middle" fill="#111" textLength="67" transform="rotate(-90 14.4 277.5)">Hoechst Blue</text>
<text x="160.3" y="277" font-size="11.2" text-anchor="middle" fill="#111" textLength="66.5" lengthAdjust="spacingAndGlyphs" transform="rotate(-90 160.3 277)">Hoechst Blue</text>
<path d="M10.8 317.5V339.6H32.8" fill="none" stroke="#000" stroke-width="1.9"/>
<path d="M10.8 312.5l-3.9 8.3h7.8z" fill="#000"/>
<path d="M37.8 339.6l-9.6 -3.8v7.6z" fill="#000"/>
<path d="M156.6 317.5V338.3H178" fill="none" stroke="#000" stroke-width="1.9"/>
<path d="M156.6 312.5l-3.9 8.3h7.8z" fill="#000"/>
<path d="M183 338.3l-9.6 -3.8v7.6z" fill="#000"/>
<text x="42.7" y="343.5" font-size="10.8" text-anchor="start" fill="#111" textLength="60.6" lengthAdjust="spacingAndGlyphs">Hoechst Red</text>
<text x="184" y="342.2" font-size="10.8" text-anchor="start" fill="#111" textLength="60.5" lengthAdjust="spacingAndGlyphs">Hoechst Red</text>
<line x1="337.3" y1="206.5" x2="337.3" y2="324.05" stroke="#000" stroke-width="1.6"/>
<line x1="336.5" y1="323.3" x2="407" y2="323.3" stroke="#000" stroke-width="1.6"/>
<line x1="333.0" y1="207.6" x2="337.3" y2="207.6" stroke="#000" stroke-width="1.4"/>
<text x="333" y="210.8" font-size="8.8" font-weight="bold" stroke="#111" stroke-width="0.25" text-anchor="end" fill="#111">12.5</text>
<line x1="333.0" y1="230.72" x2="337.3" y2="230.72" stroke="#000" stroke-width="1.4"/>
<text x="333" y="233.9" font-size="8.8" font-weight="bold" stroke="#111" stroke-width="0.25" text-anchor="end" fill="#111">10.0</text>
<line x1="333.0" y1="253.84" x2="337.3" y2="253.84" stroke="#000" stroke-width="1.4"/>
<text x="333" y="257.0" font-size="8.8" font-weight="bold" stroke="#111" stroke-width="0.25" text-anchor="end" fill="#111">7.5</text>
<line x1="333.0" y1="276.96" x2="337.3" y2="276.96" stroke="#000" stroke-width="1.4"/>
<text x="333" y="280.2" font-size="8.8" font-weight="bold" stroke="#111" stroke-width="0.25" text-anchor="end" fill="#111">5.0</text>
<line x1="333.0" y1="300.08" x2="337.3" y2="300.08" stroke="#000" stroke-width="1.4"/>
<text x="333" y="303.3" font-size="8.8" font-weight="bold" stroke="#111" stroke-width="0.25" text-anchor="end" fill="#111">2.5</text>
<line x1="333.0" y1="323.2" x2="337.3" y2="323.2" stroke="#000" stroke-width="1.4"/>
<text x="333" y="326.4" font-size="8.8" font-weight="bold" stroke="#111" stroke-width="0.25" text-anchor="end" fill="#111">0.0</text>
<line x1="355.05" y1="234.2" x2="355.05" y2="228.8" stroke="#000" stroke-width="1.55"/>
<line x1="348.8225" y1="228.8" x2="361.27750000000003" y2="228.8" stroke="#000" stroke-width="1.55"/>
<rect x="343.30" y="234.20" width="23.50" height="89.10" fill="#000"/>
<line x1="389.4" y1="289.2" x2="389.4" y2="272.8" stroke="#000" stroke-width="1.55"/>
<line x1="383.09299999999996" y1="272.8" x2="395.707" y2="272.8" stroke="#000" stroke-width="1.55"/>
<rect x="378.27" y="289.97" width="22.25" height="33.33" fill="#d8d8d8" stroke="#000" stroke-width="1.55"/>
<line x1="354" y1="214.3" x2="393" y2="214.3" stroke="#000" stroke-width="1.5"/>
<text x="373.8" y="218.4" font-size="19" text-anchor="middle" fill="#111" stroke="#111" stroke-width="0.35">*</text>
<text x="363.5" y="331.5" font-size="9" font-weight="bold" stroke="#111" stroke-width="0.25" text-anchor="end" fill="#111" textLength="47" transform="rotate(-45 363.5 331.5)">Cxcl12-WT</text>
<text x="395.5" y="331.5" font-size="9" font-weight="bold" stroke="#111" stroke-width="0.25" text-anchor="end" fill="#111" textLength="51" transform="rotate(-45 395.5 331.5)">Cxcl12-cKO</text>
<text x="310.3" y="265.3" font-size="9.5" font-weight="bold" stroke="#111" stroke-width="0.25" text-anchor="middle" fill="#111" textLength="132" transform="rotate(-90 310.3 265.3)">% SP cells in LSK population</text>
<text x="-0.8" y="378.8" font-size="14.5" font-weight="bold" stroke="#111" stroke-width="0.25" text-anchor="start" fill="#111">C</text>
<text x="97.5" y="380.3" font-size="11.4" text-anchor="start" fill="#111" textLength="67.5" lengthAdjust="spacingAndGlyphs">BM LSK cells</text>
<line x1="18.7" y1="385.8" x2="235" y2="385.8" stroke="#000" stroke-width="1.4"/>
<text x="41.2" y="402.5" font-size="10.8" text-anchor="start" fill="#111" textLength="53.3" lengthAdjust="spacingAndGlyphs">Cxcl12-WT</text>
<text x="156.6" y="402.5" font-size="10.8" text-anchor="start" fill="#111">Cxcl12-cKO</text>
<path d="M54.2 453.7h0.7M54.5 457.7h0.7M55.9 456.6h0.7M52.9 455.5h0.7M54.9 458.4h0.7M53.0 456.5h0.7M53.0 454.4h0.7M61.9 456.2h0.7M53.2 455.8h0.7M55.3 458.6h0.7M56.6 452.8h0.7M55.2 453.8h0.7M52.3 455.1h0.7M52.5 456.9h0.7M59.7 446.9h0.7M54.4 456.9h0.7M49.6 456.9h0.7M55.8 454.0h0.7M53.7 451.3h0.7M53.2 456.6h0.7M52.4 457.4h0.7M60.8 456.0h0.7M62.3 452.1h0.7M54.1 457.7h0.7M55.1 457.6h0.7M54.9 454.0h0.7M53.0 456.8h0.7M55.7 449.1h0.7M57.7 450.1h0.7M54.7 456.8h0.7M57.4 455.9h0.7M57.9 453.5h0.7M59.3 454.0h0.7M55.3 460.2h0.7M54.2 451.7h0.7M54.9 457.1h0.7M55.5 448.6h0.7M51.6 454.5h0.7M51.9 458.5h0.7M51.9 456.7h0.7M55.6 451.6h0.7M55.3 462.0h0.7M53.3 452.0h0.7M61.0 447.7h0.7M54.1 456.6h0.7M53.8 452.8h0.7M53.2 459.2h0.7M59.9 453.5h0.7M60.4 454.4h0.7M53.5 458.1h0.7M56.9 458.9h0.7M57.5 455.1h0.7M50.7 456.2h0.7M49.4 455.4h0.7M50.3 457.2h0.7M63.8 454.3h0.7M56.4 456.9h0.7M56.5 451.2h0.7M54.9 457.0h0.7M53.8 453.3h0.7M61.8 451.3h0.7M52.6 465.3h0.7M56.5 452.9h0.7M63.4 457.6h0.7M54.3 453.6h0.7M55.2 459.8h0.7M54.3 455.9h0.7M51.5 457.8h0.7M54.8 462.8h0.7M59.9 455.9h0.7M54.5 454.4h0.7M55.7 453.3h0.7M51.2 454.9h0.7M47.4 464.3h0.7M59.0 457.6h0.7M50.4 455.8h0.7M53.7 456.8h0.7M54.1 462.7h0.7M60.6 454.1h0.7M50.9 456.3h0.7M58.2 461.7h0.7M48.6 459.5h0.7M57.9 455.7h0.7M59.2 459.4h0.7M56.2 461.1h0.7M56.5 459.7h0.7M56.0 453.0h0.7M58.6 451.9h0.7M53.3 454.7h0.7M64.3 453.5h0.7M53.6 453.6h0.7M54.8 458.4h0.7M54.5 452.4h0.7M55.1 455.4h0.7M52.6 456.8h0.7M53.9 458.8h0.7M48.9 454.5h0.7M47.6 459.0h0.7M50.1 462.6h0.7M55.8 458.4h0.7M60.4 448.1h0.7M49.4 461.1h0.7M54.5 460.7h0.7M49.8 455.2h0.7M57.6 449.0h0.7M53.8 454.3h0.7M65.5 453.4h0.7M52.5 449.8h0.7M59.5 453.8h0.7M54.4 462.5h0.7M54.3 454.0h0.7M57.3 456.9h0.7M51.5 459.7h0.7M58.2 453.3h0.7M53.5 449.0h0.7M57.6 456.6h0.7M57.8 455.0h0.7M48.4 462.4h0.7M53.1 453.0h0.7M55.4 459.3h0.7M55.9 452.7h0.7M55.0 454.3h0.7M62.5 450.7h0.7M74.3 439.5h0.7M75.2 440.5h0.7M59.8 449.1h0.7M61.1 450.3h0.7M69.6 442.7h0.7M72.9 442.0h0.7M56.5 452.3h0.7M68.4 441.9h0.7M68.8 440.2h0.7M67.4 442.2h0.7M72.8 439.7h0.7" stroke="#a0a0a0" stroke-width="0.7" fill="none"/>
<path d="M53.7 458.2h0.7M54.8 459.7h0.7M53.1 458.7h0.7M55.7 456.7h0.7M51.2 455.4h0.7M51.8 457.7h0.7M54.3 457.0h0.7M52.8 459.4h0.7M50.9 454.4h0.7M48.9 454.7h0.7M53.0 462.3h0.7M52.2 458.7h0.7M52.9 459.5h0.7M50.2 459.8h0.7M54.5 455.5h0.7M53.9 455.3h0.7M52.6 459.8h0.7M49.9 455.3h0.7M52.4 458.8h0.7M55.1 456.9h0.7M54.1 456.0h0.7M51.2 454.3h0.7" stroke="#555" stroke-width="0.7" fill="none"/>
<rect x="24.4" y="407.4" width="93.6" height="92.8" fill="none" stroke="#333" stroke-width="0.8"/>
<line x1="50.6" y1="407.4" x2="50.6" y2="500.2" stroke="#2a2a2a" stroke-width="0.9"/>
<line x1="24.4" y1="457.2" x2="118.0" y2="457.2" stroke="#2a2a2a" stroke-width="0.9"/>
<path d="M24.4 457.2V407.4H50.6" fill="none" stroke="#333" stroke-width="1.1"/>
<text x="26.4" y="412.79999999999995" font-size="4.7" text-anchor="start" fill="#333">7.37</text>
<text x="116.5" y="412.79999999999995" font-size="4.7" text-anchor="end" fill="#333">41.95</text>
<text x="26.4" y="498.7" font-size="4.7" text-anchor="start" fill="#333">24.57</text>
<text x="116.5" y="498.7" font-size="4.7" text-anchor="end" fill="#333">22.11</text>
<text x="22.2" y="503.5" font-size="5" font-weight="bold" text-anchor="end" fill="#222">10<tspan dy="-1.9" font-size="3.6">0</tspan></text>
<text x="24.8" y="511.8" font-size="5" font-weight="bold" text-anchor="middle" fill="#222">10<tspan dy="-1.9" font-size="3.6">0</tspan></text>
<text x="22.2" y="479.8" font-size="5" font-weight="bold" text-anchor="end" fill="#222">10<tspan dy="-1.9" font-size="3.6">1</tspan></text>
<text x="48.5" y="511.8" font-size="5" font-weight="bold" text-anchor="middle" fill="#222">10<tspan dy="-1.9" font-size="3.6">1</tspan></text>
<text x="22.2" y="456.1" font-size="5" font-weight="bold" text-anchor="end" fill="#222">10<tspan dy="-1.9" font-size="3.6">2</tspan></text>
<text x="72.2" y="511.8" font-size="5" font-weight="bold" text-anchor="middle" fill="#222">10<tspan dy="-1.9" font-size="3.6">2</tspan></text>
<text x="22.2" y="432.4" font-size="5" font-weight="bold" text-anchor="end" fill="#222">10<tspan dy="-1.9" font-size="3.6">3</tspan></text>
<text x="95.9" y="511.8" font-size="5" font-weight="bold" text-anchor="middle" fill="#222">10<tspan dy="-1.9" font-size="3.6">3</tspan></text>
<path d="M172.2 456.2h0.7M176.7 453.5h0.7M175.4 459.6h0.7M173.6 448.9h0.7M176.0 456.0h0.7M175.4 460.2h0.7M178.4 452.4h0.7M179.1 451.8h0.7M172.5 461.0h0.7M171.1 456.1h0.7M171.0 451.3h0.7M180.0 459.4h0.7M179.5 458.5h0.7M175.0 451.5h0.7M171.4 461.0h0.7M173.8 457.4h0.7M178.5 451.8h0.7M174.6 446.7h0.7M173.1 457.1h0.7M176.5 459.9h0.7M175.1 452.9h0.7M170.6 454.3h0.7M174.7 454.1h0.7M172.0 455.0h0.7M173.5 457.8h0.7M171.6 462.8h0.7M171.7 453.5h0.7M170.4 458.8h0.7M177.1 458.6h0.7M175.7 454.5h0.7M169.8 460.9h0.7M177.5 454.6h0.7M184.8 454.0h0.7M170.6 455.3h0.7M172.2 453.1h0.7M167.1 463.0h0.7M173.4 460.1h0.7M174.6 454.3h0.7M178.6 455.4h0.7M171.1 450.4h0.7M176.6 452.8h0.7M171.1 454.8h0.7M172.7 465.8h0.7M173.3 455.0h0.7M167.3 460.3h0.7M170.5 462.2h0.7M167.9 458.3h0.7M176.7 454.7h0.7M173.6 456.4h0.7M174.4 458.3h0.7M173.6 457.0h0.7M169.7 455.8h0.7M173.8 452.3h0.7M172.8 452.1h0.7M168.8 456.3h0.7M172.3 454.3h0.7M178.4 448.1h0.7M177.9 455.9h0.7M171.3 457.2h0.7M172.1 455.8h0.7M165.3 462.8h0.7M171.4 460.0h0.7M167.6 460.3h0.7M168.9 457.8h0.7M174.9 455.4h0.7M167.3 459.2h0.7M178.2 463.0h0.7M172.2 454.8h0.7M176.8 455.5h0.7M175.9 454.7h0.7M170.2 457.8h0.7M171.1 460.8h0.7M169.6 458.4h0.7M173.4 456.7h0.7M171.6 453.6h0.7M171.1 453.8h0.7M178.4 454.6h0.7M178.0 455.0h0.7M179.2 457.4h0.7M174.2 450.3h0.7M171.8 458.8h0.7M177.3 456.8h0.7M174.3 451.3h0.7M174.1 455.6h0.7M179.4 462.5h0.7M176.8 453.1h0.7M170.6 450.7h0.7M168.2 458.1h0.7M172.4 449.8h0.7M172.1 456.0h0.7M175.0 455.5h0.7M178.5 455.1h0.7M174.8 458.7h0.7M173.8 457.1h0.7M168.7 458.6h0.7M171.8 455.9h0.7M177.7 450.8h0.7M173.8 458.7h0.7M169.3 456.4h0.7M174.8 451.7h0.7M168.4 464.0h0.7M170.7 456.3h0.7M169.9 452.7h0.7M176.3 457.8h0.7M170.7 456.3h0.7M176.6 452.8h0.7M179.2 459.3h0.7M173.8 459.8h0.7M172.4 457.7h0.7M169.5 459.6h0.7M180.2 451.3h0.7M173.4 454.1h0.7M175.4 459.9h0.7M173.7 459.3h0.7M172.3 461.3h0.7M174.7 455.4h0.7M168.9 462.3h0.7M179.8 455.0h0.7M171.4 461.3h0.7M173.2 454.0h0.7M174.5 450.9h0.7M187.7 443.7h0.7M172.6 454.2h0.7M173.8 452.6h0.7M177.5 449.4h0.7M186.2 446.0h0.7M180.3 447.5h0.7M188.6 442.3h0.7M182.0 447.1h0.7M175.0 451.5h0.7M191.3 440.5h0.7M187.0 444.6h0.7M178.2 449.0h0.7M190.6 439.2h0.7" stroke="#a0a0a0" stroke-width="0.7" fill="none"/>
<path d="M173.0 455.1h0.7M170.5 456.8h0.7M169.0 457.2h0.7M170.0 457.4h0.7M170.5 453.6h0.7M167.7 456.4h0.7M168.3 457.3h0.7M169.4 457.1h0.7M170.8 456.2h0.7M169.1 455.9h0.7M171.8 460.7h0.7M171.4 456.2h0.7M168.5 456.5h0.7M169.2 457.3h0.7M170.3 457.5h0.7M171.2 458.6h0.7M170.9 459.5h0.7M171.4 457.8h0.7M172.3 460.6h0.7M170.6 457.3h0.7M172.6 456.3h0.7M170.8 460.0h0.7" stroke="#555" stroke-width="0.7" fill="none"/>
<rect x="142.6" y="407.4" width="93.6" height="92.8" fill="none" stroke="#333" stroke-width="0.8"/>
<line x1="168.4" y1="407.4" x2="168.4" y2="500.2" stroke="#2a2a2a" stroke-width="0.9"/>
<line x1="142.6" y1="457.2" x2="236.2" y2="457.2" stroke="#2a2a2a" stroke-width="0.9"/>
<path d="M142.6 457.2V407.4H168.4" fill="none" stroke="#333" stroke-width="1.1"/>
<text x="144.6" y="412.79999999999995" font-size="4.7" text-anchor="start" fill="#333">2.03</text>
<text x="234.7" y="412.79999999999995" font-size="4.7" text-anchor="end" fill="#333">35.98</text>
<text x="144.6" y="498.7" font-size="4.7" text-anchor="start" fill="#333">7.23</text>
<text x="234.7" y="498.7" font-size="4.7" text-anchor="end" fill="#333">53.93</text>
<text x="140.4" y="503.5" font-size="5" font-weight="bold" text-anchor="end" fill="#222">10<tspan dy="-1.9" font-size="3.6">0</tspan></text>
<text x="143.0" y="511.8" font-size="5" font-weight="bold" text-anchor="middle" fill="#222">10<tspan dy="-1.9" font-size="3.6">0</tspan></text>
<text x="140.4" y="479.8" font-size="5" font-weight="bold" text-anchor="end" fill="#222">10<tspan dy="-1.9" font-size="3.6">1</tspan></text>
<text x="166.7" y="511.8" font-size="5" font-weight="bold" text-anchor="middle" fill="#222">10<tspan dy="-1.9" font-size="3.6">1</tspan></text>
<text x="140.4" y="456.1" font-size="5" font-weight="bold" text-anchor="end" fill="#222">10<tspan dy="-1.9" font-size="3.6">2</tspan></text>
<text x="190.4" y="511.8" font-size="5" font-weight="bold" text-anchor="middle" fill="#222">10<tspan dy="-1.9" font-size="3.6">2</tspan></text>
<text x="140.4" y="432.4" font-size="5" font-weight="bold" text-anchor="end" fill="#222">10<tspan dy="-1.9" font-size="3.6">3</tspan></text>
<text x="214.1" y="511.8" font-size="5" font-weight="bold" text-anchor="middle" fill="#222">10<tspan dy="-1.9" font-size="3.6">3</tspan></text>
<text x="10.3" y="483.4" font-size="9.2" text-anchor="middle" fill="#111" transform="rotate(-90 10.3 483.4)">Flt-3</text>
<text x="128" y="483.4" font-size="9.2" text-anchor="middle" fill="#111" transform="rotate(-90 128 483.4)">Flt-3</text>
<path d="M7.4 497.4V519H26.3" fill="none" stroke="#000" stroke-width="1.9"/>
<path d="M7.4 492.4l-3.9 8.3h7.8z" fill="#000"/>
<path d="M31.3 519l-9.6 -3.8v7.6z" fill="#000"/>
<path d="M125.7 497.6V519.1H143.7" fill="none" stroke="#000" stroke-width="1.9"/>
<path d="M125.7 492.6l-3.9 8.3h7.8z" fill="#000"/>
<path d="M148.7 519.1l-9.6 -3.8v7.6z" fill="#000"/>
<text x="31.5" y="522.5" font-size="9.6" text-anchor="start" fill="#111" textLength="23" lengthAdjust="spacingAndGlyphs">CD34</text>
<text x="149.3" y="522.6" font-size="9.6" text-anchor="start" fill="#111" textLength="23" lengthAdjust="spacingAndGlyphs">CD34</text>
<line x1="277.2" y1="377" x2="277.2" y2="505.95" stroke="#000" stroke-width="1.6"/>
<line x1="276.4" y1="505.2" x2="471.5" y2="505.2" stroke="#000" stroke-width="1.6"/>
<line x1="272.4" y1="377.3" x2="277.2" y2="377.3" stroke="#000" stroke-width="1.4"/>
<text x="271.5" y="380.6" font-size="9.3" font-weight="bold" stroke="#111" stroke-width="0.25" text-anchor="end" fill="#111">60</text>
<line x1="272.4" y1="398.6" x2="277.2" y2="398.6" stroke="#000" stroke-width="1.4"/>
<text x="271.5" y="401.9" font-size="9.3" font-weight="bold" stroke="#111" stroke-width="0.25" text-anchor="end" fill="#111">50</text>
<line x1="272.4" y1="419.90000000000003" x2="277.2" y2="419.90000000000003" stroke="#000" stroke-width="1.4"/>
<text x="271.5" y="423.2" font-size="9.3" font-weight="bold" stroke="#111" stroke-width="0.25" text-anchor="end" fill="#111">40</text>
<line x1="272.4" y1="441.20000000000005" x2="277.2" y2="441.20000000000005" stroke="#000" stroke-width="1.4"/>
<text x="271.5" y="444.5" font-size="9.3" font-weight="bold" stroke="#111" stroke-width="0.25" text-anchor="end" fill="#111">30</text>
<line x1="272.4" y1="462.5" x2="277.2" y2="462.5" stroke="#000" stroke-width="1.4"/>
<text x="271.5" y="465.8" font-size="9.3" font-weight="bold" stroke="#111" stroke-width="0.25" text-anchor="end" fill="#111">20</text>
<line x1="272.4" y1="483.8" x2="277.2" y2="483.8" stroke="#000" stroke-width="1.4"/>
<text x="271.5" y="487.1" font-size="9.3" font-weight="bold" stroke="#111" stroke-width="0.25" text-anchor="end" fill="#111">10</text>
<line x1="272.4" y1="505.1" x2="277.2" y2="505.1" stroke="#000" stroke-width="1.4"/>
<text x="271.5" y="508.4" font-size="9.3" font-weight="bold" stroke="#111" stroke-width="0.25" text-anchor="end" fill="#111">0</text>
<line x1="297.55" y1="469.4" x2="297.55" y2="466.5" stroke="#000" stroke-width="1.55"/>
<line x1="293.0185" y1="466.5" x2="302.0815" y2="466.5" stroke="#000" stroke-width="1.55"/>
<rect x="289.00" y="469.40" width="17.10" height="35.80" fill="#000"/>
<line x1="321.4" y1="483.2" x2="321.4" y2="480.5" stroke="#000" stroke-width="1.55"/>
<line x1="316.842" y1="480.5" x2="325.95799999999997" y2="480.5" stroke="#000" stroke-width="1.55"/>
<rect x="313.57" y="483.97" width="15.65" height="21.23" fill="#d8d8d8" stroke="#000" stroke-width="1.55"/>
<line x1="361.45" y1="451" x2="361.45" y2="445.4" stroke="#000" stroke-width="1.55"/>
<line x1="356.8125" y1="445.4" x2="366.0875" y2="445.4" stroke="#000" stroke-width="1.55"/>
<rect x="352.70" y="451.00" width="17.50" height="54.20" fill="#000"/>
<line x1="385.0" y1="418" x2="385.0" y2="405.8" stroke="#000" stroke-width="1.55"/>
<line x1="380.389" y1="405.8" x2="389.611" y2="405.8" stroke="#000" stroke-width="1.55"/>
<rect x="377.07" y="418.77" width="15.85" height="86.42" fill="#d8d8d8" stroke="#000" stroke-width="1.55"/>
<line x1="425.7" y1="402.5" x2="425.7" y2="398.5" stroke="#000" stroke-width="1.55"/>
<line x1="421.195" y1="398.5" x2="430.205" y2="398.5" stroke="#000" stroke-width="1.55"/>
<rect x="417.20" y="402.50" width="17.00" height="102.70" fill="#000"/>
<line x1="449.79999999999995" y1="420.6" x2="449.79999999999995" y2="414.7" stroke="#000" stroke-width="1.55"/>
<line x1="445.34799999999996" y1="414.7" x2="454.25199999999995" y2="414.7" stroke="#000" stroke-width="1.55"/>
<rect x="442.17" y="421.38" width="15.25" height="83.82" fill="#d8d8d8" stroke="#000" stroke-width="1.55"/>
<line x1="297" y1="457.9" x2="324" y2="457.9" stroke="#000" stroke-width="1.4"/>
<text x="310.6" y="460.9" font-size="19" text-anchor="middle" fill="#111" stroke="#111" stroke-width="0.35">*</text>
<line x1="357.4" y1="396.8" x2="386.5" y2="396.8" stroke="#000" stroke-width="1.4"/>
<text x="372" y="399.7" font-size="19" text-anchor="middle" fill="#111" stroke="#111" stroke-width="0.35">*</text>
<rect x="450.50" y="385.00" width="18.40" height="6.00" fill="#000"/>
<rect x="451.00" y="396.60" width="17.40" height="5.00" fill="#d8d8d8" stroke="#000" stroke-width="1"/>
<text x="473" y="391.3" font-size="8.3" text-anchor="start" fill="#111" textLength="44.3">Cxcl12-WT</text>
<text x="473" y="402.3" font-size="8.3" text-anchor="start" fill="#111" textLength="46.8">Cxcl12-cKO</text>
<text x="283.2" y="518.7" font-size="9.6" font-weight="bold" stroke="#111" stroke-width="0.2" fill="#111" textLength="49.2" lengthAdjust="spacingAndGlyphs">CD34<tspan dy="-3.4" font-size="6.5">-</tspan><tspan dy="3.4">Flt-3</tspan><tspan dy="-3.4" font-size="6.5">-</tspan></text>
<text x="345.5" y="518.7" font-size="9.6" font-weight="bold" stroke="#111" stroke-width="0.2" fill="#111" textLength="52.5" lengthAdjust="spacingAndGlyphs">CD34<tspan dy="-3.4" font-size="6.5">+</tspan><tspan dy="3.4">Flt-3</tspan><tspan dy="-3.4" font-size="6.5">-</tspan></text>
<text x="408" y="518.7" font-size="9.6" font-weight="bold" stroke="#111" stroke-width="0.2" fill="#111" textLength="54" lengthAdjust="spacingAndGlyphs">CD34<tspan dy="-3.4" font-size="6.5">+</tspan><tspan dy="3.4">Flt-3</tspan><tspan dy="-3.4" font-size="6.5">+</tspan></text>
<text x="287.2" y="535" font-size="12.4" text-anchor="start" fill="#111" textLength="43.2">LT-HSC</text>
<text x="349" y="535" font-size="12.4" text-anchor="start" fill="#111" textLength="43.5" lengthAdjust="spacingAndGlyphs">ST-HSC</text>
<text x="422" y="535" font-size="12.4" text-anchor="start" fill="#111" textLength="25.5" lengthAdjust="spacingAndGlyphs">MPP</text>
<text x="254.7" y="441.8" font-size="11" font-weight="bold" stroke="#111" stroke-width="0.25" text-anchor="middle" fill="#111" textLength="99.5" lengthAdjust="spacingAndGlyphs" transform="rotate(-90 254.7 441.8)">% in total LSK cells</text>
<text x="5" y="562.3" font-size="14.5" font-weight="bold" stroke="#111" stroke-width="0.25" text-anchor="start" fill="#111">D</text>
<text x="48.8" y="558.4" font-size="17.2" text-anchor="start" fill="#111" textLength="50.8" lengthAdjust="spacingAndGlyphs">LTC-IC</text>
<line x1="42.6" y1="578.56" x2="42.6" y2="693.55" stroke="#000" stroke-width="1.6"/>
<line x1="41.800000000000004" y1="692.8" x2="120" y2="692.8" stroke="#000" stroke-width="1.6"/>
<line x1="39.4" y1="692.8" x2="42.6" y2="692.8" stroke="#000" stroke-width="1.3"/>
<text x="39.3" y="696.0" font-size="8.8" font-weight="bold" stroke="#111" stroke-width="0.25" text-anchor="end" fill="#111">0</text>
<line x1="39.4" y1="680.1899999999999" x2="42.6" y2="680.1899999999999" stroke="#000" stroke-width="1.3"/>
<text x="39.3" y="683.4" font-size="8.8" font-weight="bold" stroke="#111" stroke-width="0.25" text-anchor="end" fill="#111">1</text>
<line x1="39.4" y1="667.5799999999999" x2="42.6" y2="667.5799999999999" stroke="#000" stroke-width="1.3"/>
<text x="39.3" y="670.8" font-size="8.8" font-weight="bold" stroke="#111" stroke-width="0.25" text-anchor="end" fill="#111">2</text>
<line x1="39.4" y1="654.9699999999999" x2="42.6" y2="654.9699999999999" stroke="#000" stroke-width="1.3"/>
<text x="39.3" y="658.2" font-size="8.8" font-weight="bold" stroke="#111" stroke-width="0.25" text-anchor="end" fill="#111">3</text>
<line x1="39.4" y1="642.3599999999999" x2="42.6" y2="642.3599999999999" stroke="#000" stroke-width="1.3"/>
<text x="39.3" y="645.6" font-size="8.8" font-weight="bold" stroke="#111" stroke-width="0.25" text-anchor="end" fill="#111">4</text>
<line x1="39.4" y1="629.75" x2="42.6" y2="629.75" stroke="#000" stroke-width="1.3"/>
<text x="39.3" y="633.0" font-size="8.8" font-weight="bold" stroke="#111" stroke-width="0.25" text-anchor="end" fill="#111">5</text>
<line x1="39.4" y1="617.14" x2="42.6" y2="617.14" stroke="#000" stroke-width="1.3"/>
<text x="39.3" y="620.3" font-size="8.8" font-weight="bold" stroke="#111" stroke-width="0.25" text-anchor="end" fill="#111">6</text>
<line x1="39.4" y1="604.53" x2="42.6" y2="604.53" stroke="#000" stroke-width="1.3"/>
<text x="39.3" y="607.7" font-size="8.8" font-weight="bold" stroke="#111" stroke-width="0.25" text-anchor="end" fill="#111">7</text>
<line x1="39.4" y1="591.92" x2="42.6" y2="591.92" stroke="#000" stroke-width="1.3"/>
<text x="39.3" y="595.1" font-size="8.8" font-weight="bold" stroke="#111" stroke-width="0.25" text-anchor="end" fill="#111">8</text>
<line x1="39.4" y1="579.31" x2="42.6" y2="579.31" stroke="#000" stroke-width="1.3"/>
<text x="39.3" y="582.5" font-size="8.8" font-weight="bold" stroke="#111" stroke-width="0.25" text-anchor="end" fill="#111">9</text>
<line x1="61.85" y1="601.2" x2="61.85" y2="587" stroke="#000" stroke-width="1.55"/>
<line x1="54.8805" y1="587" x2="68.8195" y2="587" stroke="#000" stroke-width="1.55"/>
<rect x="48.70" y="601.20" width="26.30" height="91.60" fill="#000"/>
<line x1="100.6" y1="633" x2="100.6" y2="626.6" stroke="#000" stroke-width="1.55"/>
<line x1="93.657" y1="626.6" x2="107.54299999999999" y2="626.6" stroke="#000" stroke-width="1.55"/>
<rect x="88.28" y="633.77" width="24.65" height="59.02" fill="#d8d8d8" stroke="#000" stroke-width="1.55"/>
<line x1="63.7" y1="577.2" x2="100" y2="577.2" stroke="#000" stroke-width="1.4"/>
<text x="80" y="581.2" font-size="19" text-anchor="middle" fill="#111" stroke="#111" stroke-width="0.35">*</text>
<text x="66.7" y="699.7" font-size="8.8" font-weight="bold" stroke="#111" stroke-width="0.25" text-anchor="end" fill="#111" textLength="44" lengthAdjust="spacingAndGlyphs" transform="rotate(-45 66.7 699.7)">Cxcl12-WT</text>
<text x="107.5" y="699.5" font-size="8.8" font-weight="bold" stroke="#111" stroke-width="0.25" text-anchor="end" fill="#111" textLength="47.6" lengthAdjust="spacingAndGlyphs" transform="rotate(-45 107.5 699.5)">Cxcl12-cKO</text>
<text x="30.8" y="635.3" font-size="9.6" font-weight="bold" stroke="#111" stroke-width="0.25" text-anchor="middle" fill="#111" textLength="105.5" transform="rotate(-90 30.8 635.3)">LTC-ICs in 10<tspan dy="-3.4" font-size="6.6">5</tspan><tspan dy="3.4"> BM cells</tspan></text>
<text x="154.7" y="562" font-size="14.5" font-weight="bold" stroke="#111" stroke-width="0.25" text-anchor="start" fill="#111">E</text>
<text x="182.2" y="559.6" font-size="15.9" text-anchor="start" fill="#111" textLength="222">Competitive repopulation assay</text>
<line x1="221.4" y1="577.55" x2="221.4" y2="717.65" stroke="#000" stroke-width="1.6"/>
<line x1="220.6" y1="716.9" x2="363" y2="716.9" stroke="#000" stroke-width="1.6"/>
<line x1="216.8" y1="716.9" x2="221.4" y2="716.9" stroke="#000" stroke-width="1.4"/>
<text x="216.8" y="720.4" font-size="9.8" font-weight="bold" stroke="#111" stroke-width="0.25" text-anchor="end" fill="#111">0</text>
<line x1="216.8" y1="697.1" x2="221.4" y2="697.1" stroke="#000" stroke-width="1.4"/>
<text x="216.8" y="700.6" font-size="9.8" font-weight="bold" stroke="#111" stroke-width="0.25" text-anchor="end" fill="#111">10</text>
<line x1="216.8" y1="677.3" x2="221.4" y2="677.3" stroke="#000" stroke-width="1.4"/>
<text x="216.8" y="680.8" font-size="9.8" font-weight="bold" stroke="#111" stroke-width="0.25" text-anchor="end" fill="#111">20</text>
<line x1="216.8" y1="657.5" x2="221.4" y2="657.5" stroke="#000" stroke-width="1.4"/>
<text x="216.8" y="661.0" font-size="9.8" font-weight="bold" stroke="#111" stroke-width="0.25" text-anchor="end" fill="#111">30</text>
<line x1="216.8" y1="637.6999999999999" x2="221.4" y2="637.6999999999999" stroke="#000" stroke-width="1.4"/>
<text x="216.8" y="641.2" font-size="9.8" font-weight="bold" stroke="#111" stroke-width="0.25" text-anchor="end" fill="#111">40</text>
<line x1="216.8" y1="617.9" x2="221.4" y2="617.9" stroke="#000" stroke-width="1.4"/>
<text x="216.8" y="621.4" font-size="9.8" font-weight="bold" stroke="#111" stroke-width="0.25" text-anchor="end" fill="#111">50</text>
<line x1="216.8" y1="598.0999999999999" x2="221.4" y2="598.0999999999999" stroke="#000" stroke-width="1.4"/>
<text x="216.8" y="601.6" font-size="9.8" font-weight="bold" stroke="#111" stroke-width="0.25" text-anchor="end" fill="#111">60</text>
<line x1="216.8" y1="578.3" x2="221.4" y2="578.3" stroke="#000" stroke-width="1.4"/>
<text x="216.8" y="581.8" font-size="9.8" font-weight="bold" stroke="#111" stroke-width="0.25" text-anchor="end" fill="#111">70</text>
<line x1="258.4" y1="716.9" x2="258.4" y2="720.6999999999999" stroke="#000" stroke-width="1.4"/>
<line x1="329" y1="716.9" x2="329" y2="720.6999999999999" stroke="#000" stroke-width="1.4"/>
<line x1="244.6" y1="607.5" x2="244.6" y2="588.2" stroke="#000" stroke-width="1.55"/>
<line x1="239.777" y1="588.2" x2="249.423" y2="588.2" stroke="#000" stroke-width="1.55"/>
<rect x="235.50" y="607.50" width="18.20" height="109.40" fill="#000"/>
<rect x="259.50" y="715.20" width="20.50" height="1.80" fill="#444"/>
<line x1="263" y1="714.8" x2="276" y2="714.8" stroke="#555" stroke-width="0.8"/>
<line x1="314.7" y1="620.8" x2="314.7" y2="611.3" stroke="#000" stroke-width="1.55"/>
<line x1="309.506" y1="611.3" x2="319.894" y2="611.3" stroke="#000" stroke-width="1.55"/>
<rect x="304.90" y="620.80" width="19.60" height="96.10" fill="#000"/>
<line x1="341.65" y1="691" x2="341.65" y2="688.5" stroke="#000" stroke-width="1.55"/>
<line x1="336.8005" y1="688.5" x2="346.49949999999995" y2="688.5" stroke="#000" stroke-width="1.55"/>
<rect x="333.27" y="691.77" width="16.75" height="25.12" fill="#d8d8d8" stroke="#000" stroke-width="1.55"/>
<line x1="242.5" y1="582" x2="268" y2="582" stroke="#000" stroke-width="1.4"/>
<text x="255.6" y="584.7" font-size="19" text-anchor="middle" fill="#111" stroke="#111" stroke-width="0.35" textLength="15.6">**</text>
<line x1="313.5" y1="600.8" x2="347" y2="600.8" stroke="#000" stroke-width="1.4"/>
<text x="329" y="602.2" font-size="19" text-anchor="middle" fill="#111" stroke="#111" stroke-width="0.35" textLength="23.4">***</text>
<text x="235" y="731.3" font-size="10.4" font-weight="bold" stroke="#111" stroke-width="0.25" text-anchor="start" fill="#111" textLength="43.4">Total BM</text>
<text x="308.4" y="731.3" font-size="10.3" font-weight="bold" stroke="#111" stroke-width="0.25" text-anchor="start" fill="#111" textLength="39.3" lengthAdjust="spacingAndGlyphs">BM LSK</text>
<rect x="363.70" y="627.90" width="20.60" height="7.80" fill="#000"/>
<rect x="364.60" y="641.30" width="19.40" height="7.00" fill="#d8d8d8" stroke="#000" stroke-width="1.2"/>
<text x="387.6" y="636.2" font-size="11.3" text-anchor="start" fill="#111">Cxcl12-WT</text>
<text x="387.6" y="648.7" font-size="11.3" text-anchor="start" fill="#111">Cxcl12-cKO</text>
<text x="198.4" y="646.8" font-size="11.4" font-weight="bold" stroke="#111" stroke-width="0.25" text-anchor="middle" fill="#111" textLength="101.5" transform="rotate(-90 198.4 646.8)">% of CD45.2+ cells</text>
</svg></body></html>
